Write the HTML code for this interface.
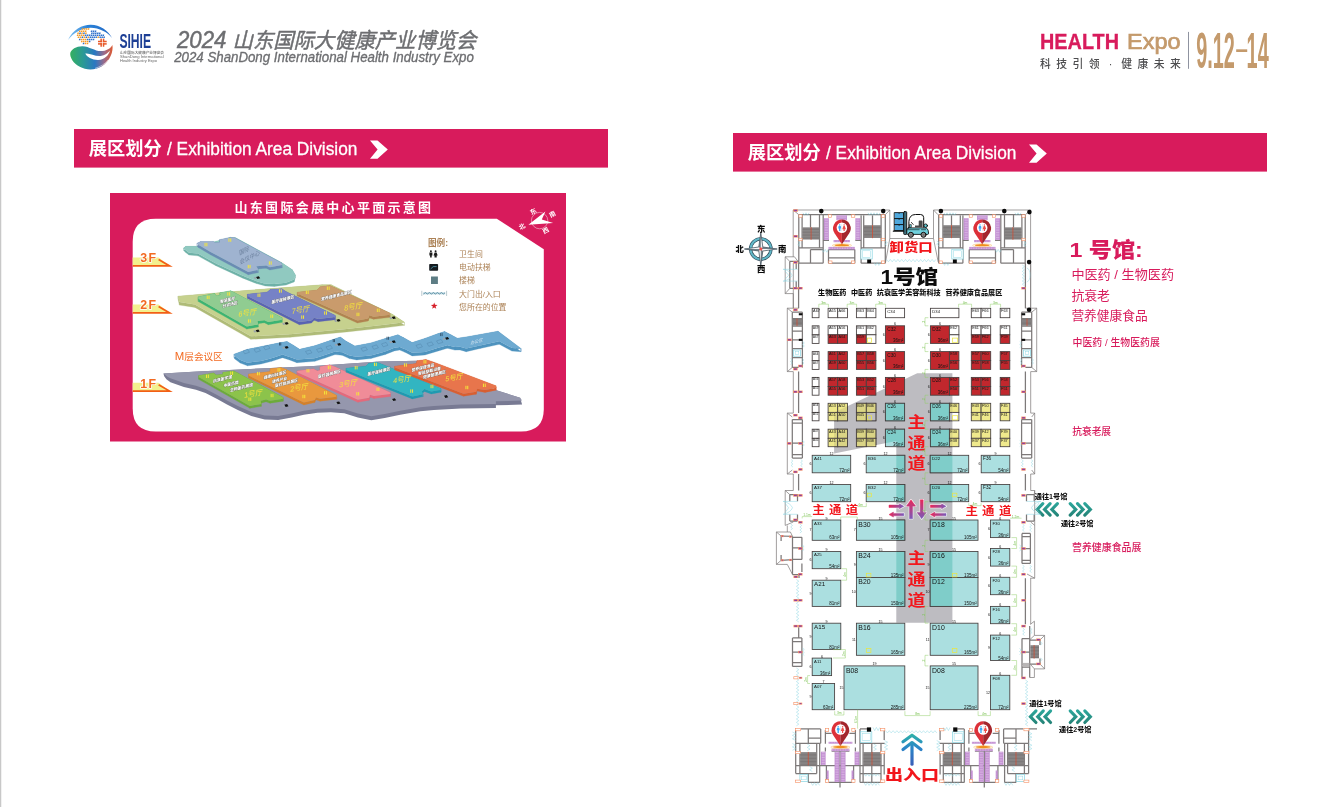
<!DOCTYPE html>
<html lang="zh-CN">
<head>
<meta charset="utf-8">
<title>展区划分 / Exhibition Area Division</title>
<style>
html,body{margin:0;padding:0;background:#fff;}
body{width:1336px;height:807px;overflow:hidden;position:relative;}
svg{position:absolute;left:0;top:0;display:block;font-family:'Liberation Sans', 'Noto Sans CJK SC', sans-serif;will-change:transform;transform:translateZ(0);}
</style>
</head>
<body>
<svg width="1336" height="807" viewBox="0 0 1336 807">
<defs>
<linearGradient id="lgWave" gradientUnits="userSpaceOnUse" x1="70" y1="0" x2="113" y2="0"><stop offset="0" stop-color="#35b05e"/><stop offset="0.3" stop-color="#2a9a94"/><stop offset="0.58" stop-color="#2a78c2"/><stop offset="0.8" stop-color="#9a6a8a"/><stop offset="1" stop-color="#e2582c"/></linearGradient>
<linearGradient id="lgArc" gradientUnits="userSpaceOnUse" x1="68" y1="0" x2="112" y2="0"><stop offset="0" stop-color="#7fc0f0"/><stop offset="0.45" stop-color="#2a82d8"/><stop offset="1" stop-color="#2368c4"/></linearGradient>
<clipPath id="aisleclip"><polygon points="917.2,373.3 952.4,373.3 952.4,622.8 896.3,622.8 896.3,441 834.1,453.4 834.1,412.5"/></clipPath>
<linearGradient id="arrH" x1="0" y1="0" x2="1" y2="0"><stop offset="0" stop-color="#e6285a"/><stop offset="1" stop-color="#7a5ab8"/></linearGradient>
<linearGradient id="arrV" x1="0" y1="0" x2="0" y2="1"><stop offset="0" stop-color="#e6285a"/><stop offset="1" stop-color="#7a5ab8"/></linearGradient>
<linearGradient id="arrIn" gradientUnits="userSpaceOnUse" x1="0" y1="733" x2="0" y2="766"><stop offset="0" stop-color="#2cb5a5"/><stop offset="0.45" stop-color="#2a86c8"/><stop offset="1" stop-color="#3a5cb8"/></linearGradient>
<linearGradient id="chev" x1="0" y1="0" x2="0" y2="1"><stop offset="0" stop-color="#2ca59a"/><stop offset="1" stop-color="#258579"/></linearGradient>
<linearGradient id="cmpA" x1="0" y1="0" x2="1" y2="1"><stop offset="0" stop-color="#2e3f4c"/><stop offset="0.5" stop-color="#f2f5f7"/><stop offset="1" stop-color="#3a4d5a"/></linearGradient>
</defs>
<!-- page edge -->
<rect x="0" y="0" width="1.25" height="807" fill="#c8c8c8"/>
<!-- header left -->
<g id="hdr-left" font-style="italic" fill="#6d6e71" stroke="#6d6e71" stroke-width="0.45" stroke-linejoin="round">
<text x="177.0" y="47.6" textLength="299.4" lengthAdjust="spacingAndGlyphs"><tspan font-size="23.4">2024 </tspan><tspan font-size="21.4">山东国际大健康产业博览会</tspan></text>
<text x="174.2" y="61.5" font-size="14.8" textLength="299.6" lengthAdjust="spacingAndGlyphs" stroke-width="0.35">2024 ShanDong International Health Industry Expo</text>
</g>
<!-- header right -->
<g id="hdr-right">
<text x="1040.0" y="49.4" font-size="21.8" font-weight="bold" fill="#d81b5c" stroke="#d81b5c" stroke-width="0.3" textLength="79" lengthAdjust="spacingAndGlyphs">HEALTH</text>
<text x="1127.1" y="49.4" font-size="21.8" fill="#c49a6c" stroke="#c49a6c" stroke-width="0.7" textLength="53.4" lengthAdjust="spacingAndGlyphs">Expo</text>
<text x="1040 1056.2 1072.5 1088.7 1103 1108.7 1115 1121.2 1137.5 1153.7 1170" y="67.9" font-size="10.8" font-weight="500" fill="#4d4d4f" xml:space="preserve">科技引领 · 健康未来</text>
<rect x="1188" y="31.9" width="1" height="36.9" fill="#8f93a0"/>
<g fill="#c49a6c" font-weight="bold">
<g transform="translate(1196.2 68.3) scale(0.394 1)"><text font-size="50.4">9.12</text></g>
<g transform="translate(1234.4 56.0) scale(2 1)"><text font-size="21.7">-</text></g>
<g transform="translate(1246.6 68.3) scale(0.394 1)"><text font-size="50.4">14</text></g>
</g>
</g>
<!-- banners -->
<rect x="74" y="129" width="534" height="38.6" fill="#d81b5c"/>
<text x="88.8" y="155.4" font-size="18.4" fill="#fff" font-weight="bold" textLength="73" lengthAdjust="spacingAndGlyphs">展区划分</text>
<text x="167" y="155.4" font-size="18.4" fill="#fff" stroke="#fff" stroke-width="0.3" textLength="190.4" lengthAdjust="spacingAndGlyphs">/ Exhibition Area Division</text>
<polygon points="370,140.4 377.5,140.4 387.8,149.6 377.5,158.7 370,158.7 377.6,149.6" fill="#fff"/>
<rect x="733" y="133" width="534" height="38.6" fill="#d81b5c"/>
<text x="747.8" y="159.4" font-size="18.4" fill="#fff" font-weight="bold" textLength="73" lengthAdjust="spacingAndGlyphs">展区划分</text>
<text x="826" y="159.4" font-size="18.4" fill="#fff" stroke="#fff" stroke-width="0.3" textLength="190.4" lengthAdjust="spacingAndGlyphs">/ Exhibition Area Division</text>
<polygon points="1029,144.4 1036.5,144.4 1046.8,153.6 1036.5,162.7 1029,162.7 1036.6,153.6" fill="#fff"/>
<!-- logo -->
<g id="logo">
<path d="M 67.93 40.07 C 72.7 29.53 82.58 24.59 90.82 24.75 C 99.88 24.92 108.11 30.35 112.06 37.93 C 107.29 32 99.05 27.72 90.82 27.72 C 81.76 27.72 73.53 32.82 67.93 40.07 Z" fill="url(#lgArc)"/>
<rect x="81.84" y="28.37" width="1.5" height="1.5" fill="#f39a25" transform="skewX(-12)" transform-origin="82.58 29.12"/>
<rect x="83.82" y="28.37" width="1.5" height="1.5" fill="#f39a25" transform="skewX(-12)" transform-origin="84.56 29.12"/>
<rect x="85.8" y="28.37" width="1.5" height="1.5" fill="#f39a25" transform="skewX(-12)" transform-origin="86.54 29.12"/>
<rect x="87.77" y="28.37" width="1.5" height="1.5" fill="#f39a25" transform="skewX(-12)" transform-origin="88.51 29.12"/>
<rect x="78.96" y="30.43" width="1.5" height="1.5" fill="#f39a25" transform="skewX(-12)" transform-origin="79.7 31.17"/>
<rect x="80.94" y="30.43" width="1.5" height="1.5" fill="#f39a25" transform="skewX(-12)" transform-origin="81.68 31.17"/>
<rect x="82.91" y="30.43" width="1.5" height="1.5" fill="#f39a25" transform="skewX(-12)" transform-origin="83.66 31.17"/>
<rect x="84.89" y="30.43" width="1.5" height="1.5" fill="#f39a25" transform="skewX(-12)" transform-origin="85.63 31.17"/>
<rect x="90.82" y="30.43" width="1.5" height="1.5" fill="#2d6fcb" transform="skewX(-12)" transform-origin="91.56 31.17"/>
<rect x="92.79" y="30.43" width="1.5" height="1.5" fill="#2d6fcb" transform="skewX(-12)" transform-origin="93.54 31.17"/>
<rect x="94.77" y="30.43" width="1.5" height="1.5" fill="#2d6fcb" transform="skewX(-12)" transform-origin="95.51 31.17"/>
<rect x="77.31" y="32.49" width="1.5" height="1.5" fill="#f39a25" transform="skewX(-12)" transform-origin="78.06 33.23"/>
<rect x="79.29" y="32.49" width="1.5" height="1.5" fill="#2d6fcb" transform="skewX(-12)" transform-origin="80.03 33.23"/>
<rect x="81.27" y="32.49" width="1.5" height="1.5" fill="#f39a25" transform="skewX(-12)" transform-origin="82.01 33.23"/>
<rect x="83.24" y="32.49" width="1.5" height="1.5" fill="#2d6fcb" transform="skewX(-12)" transform-origin="83.98 33.23"/>
<rect x="85.22" y="32.49" width="1.5" height="1.5" fill="#f39a25" transform="skewX(-12)" transform-origin="85.96 33.23"/>
<rect x="91.15" y="32.49" width="1.5" height="1.5" fill="#2d6fcb" transform="skewX(-12)" transform-origin="91.89 33.23"/>
<rect x="93.12" y="32.49" width="1.5" height="1.5" fill="#2d6fcb" transform="skewX(-12)" transform-origin="93.86 33.23"/>
<rect x="95.1" y="32.49" width="1.5" height="1.5" fill="#2d6fcb" transform="skewX(-12)" transform-origin="95.84 33.23"/>
<rect x="97.08" y="32.49" width="1.5" height="1.5" fill="#2d6fcb" transform="skewX(-12)" transform-origin="97.82 33.23"/>
<rect x="99.05" y="32.49" width="1.5" height="1.5" fill="#2d6fcb" transform="skewX(-12)" transform-origin="99.79 33.23"/>
<rect x="76.9" y="34.55" width="1.5" height="1.5" fill="#f39a25" transform="skewX(-12)" transform-origin="77.64 35.29"/>
<rect x="78.88" y="34.55" width="1.5" height="1.5" fill="#f39a25" transform="skewX(-12)" transform-origin="79.62 35.29"/>
<rect x="80.86" y="34.55" width="1.5" height="1.5" fill="#f39a25" transform="skewX(-12)" transform-origin="81.6 35.29"/>
<rect x="82.83" y="34.55" width="1.5" height="1.5" fill="#f39a25" transform="skewX(-12)" transform-origin="83.57 35.29"/>
<rect x="84.81" y="34.55" width="1.5" height="1.5" fill="#2d6fcb" transform="skewX(-12)" transform-origin="85.55 35.29"/>
<rect x="86.78" y="34.55" width="1.5" height="1.5" fill="#2d6fcb" transform="skewX(-12)" transform-origin="87.52 35.29"/>
<rect x="88.76" y="34.55" width="1.5" height="1.5" fill="#2d6fcb" transform="skewX(-12)" transform-origin="89.5 35.29"/>
<rect x="90.74" y="34.55" width="1.5" height="1.5" fill="#2d6fcb" transform="skewX(-12)" transform-origin="91.48 35.29"/>
<rect x="92.71" y="34.55" width="1.5" height="1.5" fill="#2d6fcb" transform="skewX(-12)" transform-origin="93.45 35.29"/>
<rect x="94.69" y="34.55" width="1.5" height="1.5" fill="#2d6fcb" transform="skewX(-12)" transform-origin="95.43 35.29"/>
<rect x="96.66" y="34.55" width="1.5" height="1.5" fill="#2d6fcb" transform="skewX(-12)" transform-origin="97.41 35.29"/>
<rect x="98.64" y="34.55" width="1.5" height="1.5" fill="#2d6fcb" transform="skewX(-12)" transform-origin="99.38 35.29"/>
<rect x="100.62" y="34.55" width="1.5" height="1.5" fill="#2d6fcb" transform="skewX(-12)" transform-origin="101.36 35.29"/>
<rect x="102.59" y="34.55" width="1.5" height="1.5" fill="#2d6fcb" transform="skewX(-12)" transform-origin="103.33 35.29"/>
<rect x="77.73" y="36.61" width="1.5" height="1.5" fill="#f39a25" transform="skewX(-12)" transform-origin="78.47 37.35"/>
<rect x="79.7" y="36.61" width="1.5" height="1.5" fill="#f39a25" transform="skewX(-12)" transform-origin="80.44 37.35"/>
<rect x="81.68" y="36.61" width="1.5" height="1.5" fill="#2d6fcb" transform="skewX(-12)" transform-origin="82.42 37.35"/>
<rect x="83.66" y="36.61" width="1.5" height="1.5" fill="#f39a25" transform="skewX(-12)" transform-origin="84.4 37.35"/>
<rect x="85.63" y="36.61" width="1.5" height="1.5" fill="#2d6fcb" transform="skewX(-12)" transform-origin="86.37 37.35"/>
<rect x="87.61" y="36.61" width="1.5" height="1.5" fill="#f39a25" transform="skewX(-12)" transform-origin="88.35 37.35"/>
<rect x="89.58" y="36.61" width="1.5" height="1.5" fill="#2d6fcb" transform="skewX(-12)" transform-origin="90.32 37.35"/>
<rect x="91.56" y="36.61" width="1.5" height="1.5" fill="#2d6fcb" transform="skewX(-12)" transform-origin="92.3 37.35"/>
<rect x="93.54" y="36.61" width="1.5" height="1.5" fill="#2d6fcb" transform="skewX(-12)" transform-origin="94.28 37.35"/>
<rect x="95.51" y="36.61" width="1.5" height="1.5" fill="#2d6fcb" transform="skewX(-12)" transform-origin="96.25 37.35"/>
<rect x="97.49" y="36.61" width="1.5" height="1.5" fill="#f39a25" transform="skewX(-12)" transform-origin="98.23 37.35"/>
<rect x="99.46" y="36.61" width="1.5" height="1.5" fill="#2d6fcb" transform="skewX(-12)" transform-origin="100.21 37.35"/>
<rect x="101.44" y="36.61" width="1.5" height="1.5" fill="#2d6fcb" transform="skewX(-12)" transform-origin="102.18 37.35"/>
<rect x="103.42" y="36.61" width="1.5" height="1.5" fill="#2d6fcb" transform="skewX(-12)" transform-origin="104.16 37.35"/>
<rect x="78.96" y="38.67" width="1.5" height="1.5" fill="#2d6fcb" transform="skewX(-12)" transform-origin="79.7 39.41"/>
<rect x="80.94" y="38.67" width="1.5" height="1.5" fill="#f39a25" transform="skewX(-12)" transform-origin="81.68 39.41"/>
<rect x="82.91" y="38.67" width="1.5" height="1.5" fill="#f39a25" transform="skewX(-12)" transform-origin="83.66 39.41"/>
<rect x="84.89" y="38.67" width="1.5" height="1.5" fill="#f39a25" transform="skewX(-12)" transform-origin="85.63 39.41"/>
<rect x="86.87" y="38.67" width="1.5" height="1.5" fill="#2d6fcb" transform="skewX(-12)" transform-origin="87.61 39.41"/>
<rect x="88.84" y="38.67" width="1.5" height="1.5" fill="#2d6fcb" transform="skewX(-12)" transform-origin="89.58 39.41"/>
<rect x="90.82" y="38.67" width="1.5" height="1.5" fill="#2d6fcb" transform="skewX(-12)" transform-origin="91.56 39.41"/>
<rect x="92.79" y="38.67" width="1.5" height="1.5" fill="#2d6fcb" transform="skewX(-12)" transform-origin="93.54 39.41"/>
<rect x="81.02" y="40.73" width="1.5" height="1.5" fill="#f39a25" transform="skewX(-12)" transform-origin="81.76 41.47"/>
<rect x="83" y="40.73" width="1.5" height="1.5" fill="#f39a25" transform="skewX(-12)" transform-origin="83.74 41.47"/>
<rect x="84.97" y="40.73" width="1.5" height="1.5" fill="#f39a25" transform="skewX(-12)" transform-origin="85.71 41.47"/>
<rect x="86.95" y="40.73" width="1.5" height="1.5" fill="#f39a25" transform="skewX(-12)" transform-origin="87.69 41.47"/>
<rect x="88.92" y="40.73" width="1.5" height="1.5" fill="#2d6fcb" transform="skewX(-12)" transform-origin="89.67 41.47"/>
<rect x="82.83" y="42.78" width="1.5" height="1.5" fill="#2d6fcb" transform="skewX(-12)" transform-origin="83.57 43.52"/>
<rect x="84.81" y="42.78" width="1.5" height="1.5" fill="#f39a25" transform="skewX(-12)" transform-origin="85.55 43.52"/>
<rect x="86.78" y="42.78" width="1.5" height="1.5" fill="#f39a25" transform="skewX(-12)" transform-origin="87.52 43.52"/>
<g fill="#e8592a">
<rect x="100.4" y="38.65" width="1.5" height="3.6" fill="#e8592a"/>
<rect x="98" y="40.75" width="3.9" height="1.5" fill="#e8592a"/>
<rect x="102.8" y="38.65" width="1.5" height="3.6" fill="#e8592a"/>
<rect x="102.8" y="40.75" width="3.9" height="1.5" fill="#e8592a"/>
<rect x="100.4" y="43.15" width="1.5" height="3.6" fill="#e8592a"/>
<rect x="98" y="43.15" width="3.9" height="1.5" fill="#e8592a"/>
<rect x="102.8" y="43.15" width="1.5" height="3.6" fill="#e8592a"/>
<rect x="102.8" y="43.15" width="3.9" height="1.5" fill="#e8592a"/>
</g>
<path d="M 70.23 53.41 C 70.65 49.29 76.82 46 82.58 46.16 C 89.17 46.41 94.94 50.94 100.7 51.1 C 106.46 51.1 110.58 48.47 112.39 45.01 C 113.46 50.94 110.58 60.82 101.52 66.58 C 94.94 70.28 86.7 70.7 79.29 66.58 C 73.53 63.29 69.82 57.52 70.23 53.41 Z" fill="url(#lgWave)"/>
<path d="M 85.3 53.57 C 89.17 52.58 94.94 56.7 100.7 56.04 C 104.82 55.46 108.11 52.99 109.92 50.52 C 108.93 55.05 104.82 59.58 98.23 59.99 C 92.47 60.16 86.7 57.11 85.3 53.57 Z" fill="#fff"/>
<path d="M 94.94 68.39 C 100.7 66.58 104.82 64.11 108.11 59.99" fill="none" stroke="#fff" stroke-width="0.5"/>
<g transform="translate(119.4 47.5) scale(0.625 1)"><text x="0" y="0" font-size="19.4" fill="#1d3f95" font-weight="bold">SIHIE</text></g>
<text x="120" y="53.7" font-size="3.6" fill="#666" font-weight="500" textLength="44" lengthAdjust="spacingAndGlyphs">山东国际大健康产业博览会</text>
<text x="120" y="58.2" font-size="4.1" fill="#666" textLength="43.6" lengthAdjust="spacingAndGlyphs">ShanDong International</text>
<text x="120" y="62.4" font-size="4.1" fill="#666" textLength="37" lengthAdjust="spacingAndGlyphs">Health Industry Expo</text>
</g>
<!-- venue map (left) -->
<g id="venue-map">
<rect x="110" y="193" width="456" height="248.5" fill="#d81b5c"/>
<path d="M155.7 218.8 H496.8 L543.8 249.3 V409 Q543.8 431.5 521 431.5 H155.7 Q132.7 431.5 132.7 408.5 V241.8 Q132.7 218.8 155.7 218.8 Z" fill="#fff"/>
<text x="234.5" y="211.6" font-size="13" fill="#fff" font-weight="bold" letter-spacing="2.3">山东国际会展中心平面示意图</text>
<polygon points="132.7,257.6 158.6,257.6 169.4,265.8 132.7,265.8" fill="#f3f08e"/>
<path d="M132.7 265.9H169.6L158.6 259.6" fill="none" stroke="#f25f14" stroke-width="1.7" stroke-linejoin="miter"/>
<text x="140.2" y="262.3" font-size="12.4" font-weight="bold" fill="#f26a21" stroke="#fff" stroke-width="1.6" stroke-linejoin="round" paint-order="stroke" textLength="16">3F</text>
<polygon points="132.7,304.6 158.6,304.6 169.4,312.8 132.7,312.8" fill="#f3f08e"/>
<path d="M132.7 312.9H169.6L158.6 306.6" fill="none" stroke="#f25f14" stroke-width="1.7" stroke-linejoin="miter"/>
<text x="140.2" y="309.3" font-size="12.4" font-weight="bold" fill="#f26a21" stroke="#fff" stroke-width="1.6" stroke-linejoin="round" paint-order="stroke" textLength="16">2F</text>
<polygon points="132.7,382.8 158.6,382.8 169.4,391 132.7,391" fill="#f3f08e"/>
<path d="M132.7 391.1H169.6L158.6 384.8" fill="none" stroke="#f25f14" stroke-width="1.7" stroke-linejoin="miter"/>
<text x="140.2" y="387.5" font-size="12.4" font-weight="bold" fill="#f26a21" stroke="#fff" stroke-width="1.6" stroke-linejoin="round" paint-order="stroke" textLength="16">1F</text>
<path d="M183.59 247.99L185.84 246.37L185.84 248.67L183.59 250.29ZM185.84 246.37L197.96 246.37L197.96 248.67L185.84 248.67ZM197.96 246.37L230.3 237.39L230.3 239.69L197.96 248.67ZM230.3 237.39L235.69 237.84L235.69 240.14L230.3 239.69ZM235.69 237.84L281.5 262.54L281.5 264.84L235.69 240.14ZM281.5 262.54L292.28 269.73L292.28 272.03L281.5 264.84ZM292.28 269.73L295.42 275.12L295.42 277.42L292.28 272.03ZM295.42 275.12L294.08 279.61L294.08 281.91L295.42 277.42ZM294.08 279.61L285.99 282.75L285.99 285.05L294.08 281.91ZM285.99 282.75L274.31 284.1L274.31 286.4L285.99 285.05ZM274.31 284.1L265.33 283.65L265.33 285.95L274.31 286.4ZM265.33 283.65L256.35 281.22L256.35 283.52L265.33 285.95ZM256.35 281.22L242.88 275.83L242.88 278.13L256.35 283.52ZM242.88 275.83L215.93 263.44L215.93 265.74L242.88 278.13ZM215.93 263.44L197.96 253.56L197.96 255.86L215.93 265.74ZM197.96 253.56L188.98 252.66L188.98 254.96L197.96 255.86ZM188.98 252.66L185.39 249.96L185.39 252.26L188.98 254.96ZM185.39 249.96L183.59 247.99L183.59 250.29L185.39 252.26Z" fill="#6fb2a8" stroke="#6fb2a8" stroke-width="0.3" stroke-linejoin="round"/><polygon points="183.59,247.99 185.84,246.37 197.96,246.37 230.3,237.39 235.69,237.84 281.5,262.54 292.28,269.73 295.42,275.12 294.08,279.61 285.99,282.75 274.31,284.1 265.33,283.65 256.35,281.22 242.88,275.83 215.93,263.44 197.96,253.56 188.98,252.66 185.39,249.96" fill="#90c9c0"/>
<path d="M197.07 243.23L200.66 241.43L200.66 244.23L197.07 246.03ZM200.66 241.43L213.23 241.43L213.23 244.23L200.66 244.23ZM213.23 241.43L215.03 242.78L215.03 245.58L213.23 244.23ZM215.03 242.78L219.97 242.33L219.97 245.13L215.03 245.58ZM219.97 242.33L219.52 239.63L219.52 242.43L219.97 245.13ZM219.52 239.63L230.3 237.39L230.3 240.19L219.52 242.43ZM230.3 237.39L234.79 237.84L234.79 240.64L230.3 240.19ZM234.79 237.84L242.88 242.33L242.88 245.13L234.79 240.64ZM242.88 242.33L281.5 262.99L281.5 265.79L242.88 245.13ZM281.5 262.99L282.13 265.05L282.13 267.85L281.5 265.79ZM282.13 265.05L269.82 267.21L269.82 270.01L282.13 267.85ZM269.82 267.21L266.23 265.41L266.23 268.21L269.82 270.01ZM266.23 265.41L256.35 266.13L256.35 268.93L266.23 268.21ZM256.35 266.13L258.33 269.73L258.33 272.53L256.35 268.93ZM258.33 269.73L248.27 271.97L248.27 274.77L258.33 272.53ZM248.27 271.97L210.54 251.94L210.54 254.74L248.27 274.77ZM210.54 251.94L198.41 244.75L198.41 247.55L210.54 254.74ZM198.41 244.75L197.07 243.23L197.07 246.03L198.41 247.55Z" fill="#6a8cb3" stroke="#6a8cb3" stroke-width="0.3" stroke-linejoin="round"/><polygon points="197.07,243.23 200.66,241.43 213.23,241.43 215.03,242.78 219.97,242.33 219.52,239.63 230.3,237.39 234.79,237.84 242.88,242.33 281.5,262.99 282.13,265.05 269.82,267.21 266.23,265.41 256.35,266.13 258.33,269.73 248.27,271.97 210.54,251.94 198.41,244.75" fill="#9fb3d0"/>
<path d="M178.08 296.17L250.84 290.11L250.84 293.11L178.08 299.17ZM250.84 290.11L322.25 284.72L322.25 287.72L250.84 293.11ZM322.25 284.72L331.09 284.72L331.09 287.72L322.25 287.72ZM331.09 284.72L392.4 314.36L392.4 317.36L331.09 287.72ZM392.4 314.36L404.52 322.31L404.52 325.31L392.4 317.36ZM404.52 322.31L384.31 324.87L384.31 327.87L404.52 325.31ZM384.31 324.87L346.59 328.91L346.59 331.91L384.31 327.87ZM346.59 328.91L290 334.3L290 337.3L346.59 331.91ZM290 334.3L250.84 336.32L250.84 339.32L290 337.3ZM250.84 336.32L194.93 304.39L194.93 307.39L250.84 339.32ZM194.93 304.39L179.43 302.1L179.43 305.1L194.93 307.39ZM179.43 302.1L178.08 296.17L178.08 299.17L179.43 305.1Z" fill="#afbb78" stroke="#afbb78" stroke-width="0.3" stroke-linejoin="round"/><polygon points="178.08,296.17 250.84,290.11 322.25,284.72 331.09,284.72 392.4,314.36 404.52,322.31 384.31,324.87 346.59,328.91 290,334.3 250.84,336.32 194.93,304.39 179.43,302.1" fill="#c6d18e"/>
<path d="M198.29 296.84L214.46 293.47L214.46 296.07L198.29 299.44ZM214.46 293.47L216.48 295.9L216.48 298.5L214.46 296.07ZM216.48 295.9L220.53 295.09L220.53 297.69L216.48 298.5ZM220.53 295.09L219.85 292.8L219.85 295.4L220.53 297.69ZM219.85 292.8L230.63 290.78L230.63 293.38L219.85 295.4ZM230.63 290.78L234.67 292.8L234.67 295.4L230.63 293.38ZM234.67 292.8L281.83 317.73L281.83 320.33L234.67 295.4ZM281.83 317.73L282.23 319.75L282.23 322.35L281.83 320.33ZM282.23 319.75L268.36 322.04L268.36 324.64L282.23 322.35ZM268.36 322.04L264.31 320.15L264.31 322.75L268.36 324.64ZM264.31 320.15L257.58 321.09L257.58 323.69L264.31 322.75ZM257.58 321.09L258.25 324.46L258.25 327.06L257.58 323.69ZM258.25 324.46L246.8 326.48L246.8 329.08L258.25 327.06ZM246.8 326.48L198.29 298.86L198.29 301.46L246.8 329.08ZM198.29 298.86L198.29 296.84L198.29 299.44L198.29 301.46Z" fill="#3cb473" stroke="#3cb473" stroke-width="0.3" stroke-linejoin="round"/><polygon points="198.29,296.84 214.46,293.47 216.48,295.9 220.53,295.09 219.85,292.8 230.63,290.78 234.67,292.8 281.83,317.73 282.23,319.75 268.36,322.04 264.31,320.15 257.58,321.09 258.25,324.46 246.8,326.48 198.29,298.86" fill="#90cc91"/>
<path d="M247.47 294.15L267.01 292.13L267.01 294.73L247.47 296.75ZM267.01 292.13L270.38 289.43L270.38 292.03L267.01 294.73ZM270.38 289.43L281.83 288.76L281.83 291.36L270.38 292.03ZM281.83 288.76L285.87 291.45L285.87 294.05L281.83 291.36ZM285.87 291.45L335.05 315.3L335.05 317.9L285.87 294.05ZM335.05 315.3L335.45 317.05L335.45 319.65L335.05 317.9ZM335.45 317.05L318.21 319.07L318.21 321.67L335.45 319.65ZM318.21 319.07L314.17 317.73L314.17 320.33L318.21 321.67ZM314.17 317.73L311.47 320.42L311.47 323.02L314.17 320.33ZM311.47 320.42L299.35 322.04L299.35 324.64L311.47 323.02ZM299.35 322.04L247.47 295.9L247.47 298.5L299.35 324.64ZM247.47 295.9L247.47 294.15L247.47 296.75L247.47 298.5Z" fill="#5963b3" stroke="#5963b3" stroke-width="0.3" stroke-linejoin="round"/><polygon points="247.47,294.15 267.01,292.13 270.38,289.43 281.83,288.76 285.87,291.45 335.05,315.3 335.45,317.05 318.21,319.07 314.17,317.73 311.47,320.42 299.35,322.04 247.47,295.9" fill="#7682c6"/>
<path d="M297.41 292.13L316.95 290.11L316.95 292.71L297.41 294.73ZM316.95 290.11L320.32 286.74L320.32 289.34L316.95 292.71ZM320.32 286.74L329.75 285.39L329.75 287.99L320.32 289.34ZM329.75 285.39L334.46 287.41L334.46 290.01L329.75 287.99ZM334.46 287.41L389.7 313.01L389.7 315.61L334.46 290.01ZM389.7 313.01L390.11 314.76L390.11 317.36L389.7 315.61ZM390.11 314.76L373.54 316.65L373.54 319.25L390.11 317.36ZM373.54 316.65L369.49 315.3L369.49 317.9L373.54 319.25ZM369.49 315.3L368.15 318.4L368.15 321L369.49 317.9ZM368.15 318.4L357.37 320.42L357.37 323.02L368.15 321ZM357.37 320.42L297.41 293.47L297.41 296.07L357.37 323.02ZM297.41 293.47L297.41 292.13L297.41 294.73L297.41 296.07Z" fill="#b18350" stroke="#b18350" stroke-width="0.3" stroke-linejoin="round"/><polygon points="297.41,292.13 316.95,290.11 320.32,286.74 329.75,285.39 334.46,287.41 389.7,313.01 390.11,314.76 373.54,316.65 369.49,315.3 368.15,318.4 357.37,320.42 297.41,293.47" fill="#c99b6c"/>
<path d="M234 354.2L247.5 349.3L247.5 352.4L234 357.3ZM247.5 349.3L280.7 342.5L280.7 345.6L247.5 352.4ZM280.7 342.5L287 341.6L287 344.7L280.7 345.6ZM287 341.6L293.3 345.2L293.3 348.3L287 344.7ZM293.3 345.2L299.6 349.3L299.6 352.4L293.3 348.3ZM299.6 349.3L314.8 345.7L314.8 348.8L299.6 352.4ZM314.8 345.7L337.3 338L337.3 341.1L314.8 348.8ZM337.3 338L340.4 337.1L340.4 340.2L337.3 341.1ZM340.4 337.1L345.8 341.1L345.8 344.2L340.4 340.2ZM345.8 341.1L354.8 346L354.8 349.1L345.8 344.2ZM354.8 346L370.9 342.9L370.9 346L354.8 349.1ZM370.9 342.9L385.3 338.4L385.3 341.5L370.9 346ZM385.3 338.4L397.9 334.8L397.9 337.9L385.3 341.5ZM397.9 334.8L403.3 337.5L403.3 340.6L397.9 337.9ZM403.3 337.5L412.2 342.5L412.2 345.6L403.3 340.6ZM412.2 342.5L424.8 338.4L424.8 341.5L412.2 345.6ZM424.8 338.4L438.3 333.5L438.3 336.6L424.8 341.5ZM438.3 333.5L444.6 331.5L444.6 334.6L438.3 336.6ZM444.6 331.5L450.9 334.8L450.9 337.9L444.6 334.6ZM450.9 334.8L457.3 338.2L457.3 341.3L450.9 337.9ZM457.3 338.2L466.2 336.9L466.2 340L457.3 341.3ZM466.2 336.9L498 331.2L498 334.3L466.2 340ZM498 331.2L520.9 348.4L520.9 351.5L498 334.3ZM520.9 348.4L520.9 348.6L520.9 351.7L520.9 351.5ZM520.9 348.6L512 348L512 351.1L520.9 351.7ZM512 348L499.3 341.2L499.3 344.3L512 351.1ZM499.3 341.2L480 345.4L480 348.5L499.3 344.3ZM480 345.4L466.2 348.6L466.2 351.7L480 348.5ZM466.2 348.6L460 346.8L460 349.9L466.2 351.7ZM460 346.8L455 347L455 350.1L460 349.9ZM455 347L447.3 345.2L447.3 348.3L455 350.1ZM447.3 345.2L438.3 347.8L438.3 350.9L447.3 348.3ZM438.3 347.8L424.8 351.9L424.8 355L438.3 350.9ZM424.8 351.9L412.2 352.8L412.2 355.9L424.8 355ZM412.2 352.8L405.1 349.2L405.1 352.3L412.2 355.9ZM405.1 349.2L399.7 346.9L399.7 350L405.1 352.3ZM399.7 346.9L394.3 347.8L394.3 350.9L399.7 350ZM394.3 347.8L385.3 351.4L385.3 354.5L394.3 350.9ZM385.3 351.4L370.9 355.5L370.9 358.6L385.3 354.5ZM370.9 355.5L356.6 356.8L356.6 359.9L370.9 358.6ZM356.6 356.8L349.4 355.5L349.4 358.6L356.6 359.9ZM349.4 355.5L342.2 352.2L342.2 355.3L349.4 358.6ZM342.2 352.2L335 351.5L335 354.6L342.2 355.3ZM335 351.5L325 355L325 358.1L335 354.6ZM325 355L314.8 358.2L314.8 361.3L325 358.1ZM314.8 358.2L296.9 359.6L296.9 362.7L314.8 361.3ZM296.9 359.6L289.7 356.9L289.7 360L296.9 362.7ZM289.7 356.9L282.5 354.6L282.5 357.7L289.7 360ZM282.5 354.6L271.7 358.2L271.7 361.3L282.5 357.7ZM271.7 358.2L260.9 360.9L260.9 364L271.7 361.3ZM260.9 360.9L247.5 362.7L247.5 365.8L260.9 364ZM247.5 362.7L240.3 360L240.3 363.1L247.5 365.8ZM240.3 360L234.9 356L234.9 359.1L240.3 363.1ZM234.9 356L234 354.2L234 357.3L234.9 359.1Z" fill="#4e93be" stroke="#4e93be" stroke-width="0.3" stroke-linejoin="round"/><polygon points="234,354.2 247.5,349.3 280.7,342.5 287,341.6 293.3,345.2 299.6,349.3 314.8,345.7 337.3,338 340.4,337.1 345.8,341.1 354.8,346 370.9,342.9 385.3,338.4 397.9,334.8 403.3,337.5 412.2,342.5 424.8,338.4 438.3,333.5 444.6,331.5 450.9,334.8 457.3,338.2 466.2,336.9 498,331.2 520.9,348.4 520.9,348.6 512,348 499.3,341.2 480,345.4 466.2,348.6 460,346.8 455,347 447.3,345.2 438.3,347.8 424.8,351.9 412.2,352.8 405.1,349.2 399.7,346.9 394.3,347.8 385.3,351.4 370.9,355.5 356.6,356.8 349.4,355.5 342.2,352.2 335,351.5 325,355 314.8,358.2 296.9,359.6 289.7,356.9 282.5,354.6 271.7,358.2 260.9,360.9 247.5,362.7 240.3,360 234.9,356" fill="#6eaad1"/>
<polygon points="163.41,373.58 197.37,371.56 310.01,366.17 380,361.45 417.73,360.78 497.22,390.42 520.12,397.83 522.1,404.6 495.9,405.2 495.9,407.9 460.8,408.6 433.9,410 420.4,411.3 400.2,414.7 384.7,418 371.3,420.3 357.8,417.4 344.3,413.3 330.8,412.2 317.4,412.7 303.9,414.7 291.7,417.6 278.2,419.9 264.7,419.4 251.3,416 237.8,410 227,404.6 217.6,399.2 205.5,393.1 196,389.7 183.9,387.1 170.4,382.3 166.4,379.2 164.2,376.2" fill="#787a93"/>
<polygon points="163.41,373.58 197.37,371.56 310.01,366.17 380,361.45 417.73,360.78 497.22,390.42 520.12,397.83 522.1,400.6 495.9,401.2 495.9,403.9 460.8,404.6 433.9,406 420.4,407.3 400.2,410.7 384.7,414 371.3,416.3 357.8,413.4 344.3,409.3 330.8,408.2 317.4,408.7 303.9,410.7 291.7,413.6 278.2,415.9 264.7,415.4 251.3,412 237.8,406 227,400.6 217.6,395.2 205.5,389.1 196,385.7 183.9,383.1 170.4,378.3 167.5,376.8" fill="#9597ad"/>
<path d="M198.71 375.6L213.54 372.9L213.54 375.3L198.71 378ZM213.54 372.9L216.23 374.93L216.23 377.33L213.54 375.3ZM216.23 374.93L222.97 374.25L222.97 376.65L216.23 377.33ZM222.97 374.25L222.97 372.23L222.97 374.63L222.97 376.65ZM222.97 372.23L233.75 370.88L233.75 373.28L222.97 374.63ZM233.75 370.88L237.79 372.9L237.79 375.3L233.75 373.28ZM237.79 372.9L282.92 397.16L282.92 399.56L237.79 375.3ZM282.92 397.16L283.33 398.77L283.33 401.17L282.92 399.56ZM283.33 398.77L270.12 400.79L270.12 403.19L283.33 401.17ZM270.12 400.79L266.08 399.45L266.08 401.85L270.12 403.19ZM266.08 399.45L260.69 400.79L260.69 403.19L266.08 401.85ZM260.69 400.79L261.37 403.89L261.37 406.29L260.69 403.19ZM261.37 403.89L249.91 405.91L249.91 408.31L261.37 406.29ZM249.91 405.91L198.71 376.95L198.71 379.35L249.91 408.31ZM198.71 376.95L198.71 375.6L198.71 378L198.71 379.35Z" fill="#6cab3b" stroke="#6cab3b" stroke-width="0.3" stroke-linejoin="round"/><polygon points="198.71,375.6 213.54,372.9 216.23,374.93 222.97,374.25 222.97,372.23 233.75,370.88 237.79,372.9 282.92,397.16 283.33,398.77 270.12,400.79 266.08,399.45 260.69,400.79 261.37,403.89 249.91,405.91 198.71,376.95" fill="#8cc34b"/>
<path d="M248.65 373.98L270.21 371.56L270.21 373.96L248.65 376.38ZM270.21 371.56L270.21 368.86L270.21 371.26L270.21 373.96ZM270.21 368.86L280.99 367.52L280.99 369.92L270.21 371.26ZM280.99 367.52L286.38 369.54L286.38 371.94L280.99 369.92ZM286.38 369.54L336.23 395.14L336.23 397.54L286.38 371.94ZM336.23 395.14L336.63 396.75L336.63 399.15L336.23 397.54ZM336.63 396.75L320.06 398.77L320.06 401.17L336.63 399.15ZM320.06 398.77L316.02 397.43L316.02 399.83L320.06 401.17ZM316.02 397.43L314.67 400.12L314.67 402.52L316.02 399.83ZM314.67 400.12L303.89 402.55L303.89 404.95L314.67 402.52ZM303.89 402.55L248.65 375.6L248.65 378L303.89 404.95ZM248.65 375.6L248.65 373.98L248.65 376.38L248.65 378Z" fill="#d4812b" stroke="#d4812b" stroke-width="0.3" stroke-linejoin="round"/><polygon points="248.65,373.98 270.21,371.56 270.21,368.86 280.99,367.52 286.38,369.54 336.23,395.14 336.63,396.75 320.06,398.77 316.02,397.43 314.67,400.12 303.89,402.55 248.65,375.6" fill="#e9983e"/>
<path d="M297.16 370.88L313.33 368.86L313.33 371.26L297.16 373.28ZM313.33 368.86L317.37 370.88L317.37 373.28L313.33 371.26ZM317.37 370.88L320.06 370.21L320.06 372.61L317.37 373.28ZM320.06 370.21L320.06 366.84L320.06 369.24L320.06 372.61ZM320.06 366.84L329.49 364.82L329.49 367.22L320.06 369.24ZM329.49 364.82L334.88 366.84L334.88 369.24L329.49 367.22ZM334.88 366.84L390.12 392.44L390.12 394.84L334.88 369.24ZM390.12 392.44L390.53 394.06L390.53 396.46L390.12 394.84ZM390.53 394.06L373.96 396.08L373.96 398.48L390.53 396.46ZM373.96 396.08L369.91 394.73L369.91 397.13L373.96 398.48ZM369.91 394.73L369.24 397.83L369.24 400.23L369.91 397.13ZM369.24 397.83L357.79 399.85L357.79 402.25L369.24 400.23ZM357.79 399.85L297.16 372.23L297.16 374.63L357.79 402.25ZM297.16 372.23L297.16 370.88L297.16 373.28L297.16 374.63Z" fill="#e5697b" stroke="#e5697b" stroke-width="0.3" stroke-linejoin="round"/><polygon points="297.16,370.88 313.33,368.86 317.37,370.88 320.06,370.21 320.06,366.84 329.49,364.82 334.88,366.84 390.12,392.44 390.53,394.06 373.96,396.08 369.91,394.73 369.24,397.83 357.79,399.85 297.16,372.23" fill="#f08c98"/>
<path d="M346.32 368.19L365.85 366.17L365.85 368.57L346.32 370.59ZM365.85 366.17L368.55 363.47L368.55 365.87L365.85 368.57ZM368.55 363.47L376.63 362.13L376.63 364.53L368.55 365.87ZM376.63 362.13L382.02 364.15L382.02 366.55L376.63 364.53ZM382.02 364.15L440.63 388.4L440.63 390.8L382.02 366.55ZM440.63 388.4L441.03 389.75L441.03 392.15L440.63 390.8ZM441.03 389.75L431.2 391.5L431.2 393.9L441.03 392.15ZM431.2 391.5L424.46 389.07L424.46 391.47L431.2 393.9ZM424.46 389.07L421.77 391.5L421.77 393.9L424.46 391.47ZM421.77 391.5L423.12 394.19L423.12 396.59L421.77 393.9ZM423.12 394.19L412.34 396.48L412.34 398.88L423.12 396.59ZM412.34 396.48L346.32 369.94L346.32 372.34L412.34 398.88ZM346.32 369.94L346.32 368.19L346.32 370.59L346.32 372.34Z" fill="#1f9ab0" stroke="#1f9ab0" stroke-width="0.3" stroke-linejoin="round"/><polygon points="346.32,368.19 365.85,366.17 368.55,363.47 376.63,362.13 382.02,364.15 440.63,388.4 441.03,389.75 431.2,391.5 424.46,389.07 421.77,391.5 423.12,394.19 412.34,396.48 346.32,369.94" fill="#32b5c1"/>
<path d="M394.82 366.17L416.38 363.47L416.38 365.87L394.82 368.57ZM416.38 363.47L417.05 360.78L417.05 363.18L416.38 365.87ZM417.05 360.78L425.81 359.43L425.81 361.83L417.05 363.18ZM425.81 359.43L433.89 362.13L433.89 364.53L425.81 361.83ZM433.89 362.13L495.87 385.7L495.87 388.1L433.89 364.53ZM495.87 385.7L496.28 387.73L496.28 390.13L495.87 388.1ZM496.28 387.73L485.09 390.02L485.09 392.42L496.28 390.13ZM485.09 390.02L477.01 388.67L477.01 391.07L485.09 392.42ZM477.01 388.67L476.34 391.77L476.34 394.17L477.01 391.07ZM476.34 391.77L463.54 393.79L463.54 396.19L476.34 394.17ZM463.54 393.79L394.82 367.52L394.82 369.92L463.54 396.19ZM394.82 367.52L394.82 366.17L394.82 368.57L394.82 369.92Z" fill="#d85f32" stroke="#d85f32" stroke-width="0.3" stroke-linejoin="round"/><polygon points="394.82,366.17 416.38,363.47 417.05,360.78 425.81,359.43 433.89,362.13 495.87,385.7 496.28,387.73 485.09,390.02 477.01,388.67 476.34,391.77 463.54,393.79 394.82,367.52" fill="#e8754c"/>
<text transform="translate(238.2 317) rotate(-9) skewX(-14)" font-size="7.3" fill="#f4e23c">6号厅</text>
<text transform="translate(291.4 314) rotate(-9) skewX(-14)" font-size="7.3" fill="#f4e23c">7号厅</text>
<text transform="translate(344 310.7) rotate(-9) skewX(-14)" font-size="7.3" fill="#f4e23c">8号厅</text>
<text transform="translate(244 397.7) rotate(-9) skewX(-14)" font-size="7.3" fill="#f4e23c">1号厅</text>
<text transform="translate(289.9 391.7) rotate(-9) skewX(-14)" font-size="7.3" fill="#f4e23c">2号厅</text>
<text transform="translate(339.1 387.6) rotate(-9) skewX(-14)" font-size="7.3" fill="#f4e23c">3号厅</text>
<text transform="translate(392.9 383.6) rotate(-9) skewX(-14)" font-size="7.3" fill="#f4e23c">4号厅</text>
<text transform="translate(445.3 381.5) rotate(-9) skewX(-14)" font-size="7" fill="#f4e23c">5号厅</text>
<text transform="translate(239.5 255.2) rotate(-27) skewX(-20)" font-size="5.6" fill="#6d829f">国际</text>
<text transform="translate(240 264.6) rotate(-27) skewX(-20)" font-size="5.6" fill="#6d829f">会议中心</text>
<text transform="translate(470.5 344.5) rotate(-14) skewX(-20)" font-size="4.2" fill="#d5e6f2">办公区</text>
<text transform="translate(220 303.3) rotate(-14) skewX(-18)" font-size="3.9" font-weight="900" fill="#fff" stroke="#4a4a4a" stroke-width="0.35" paint-order="stroke">智慧医疗</text>
<text transform="translate(222.5 307.8) rotate(-14) skewX(-18)" font-size="3.9" font-weight="900" fill="#fff" stroke="#4a4a4a" stroke-width="0.35" paint-order="stroke">分会场区</text>
<text transform="translate(271.5 303.8) rotate(-14) skewX(-18)" font-size="3.9" font-weight="900" fill="#fff" stroke="#4a4a4a" stroke-width="0.35" paint-order="stroke">医疗器械展区</text>
<text transform="translate(321 300.8) rotate(-14) skewX(-18)" font-size="3.9" font-weight="900" fill="#fff" stroke="#4a4a4a" stroke-width="0.35" paint-order="stroke">营养健康食品展区</text>
<text transform="translate(213 382.8) rotate(-14) skewX(-18)" font-size="3.9" font-weight="900" fill="#fff" stroke="#4a4a4a" stroke-width="0.35" paint-order="stroke">抗衰医学馆</text>
<text transform="translate(223.5 387.3) rotate(-14) skewX(-18)" font-size="3.9" font-weight="900" fill="#fff" stroke="#4a4a4a" stroke-width="0.35" paint-order="stroke">中医药馆</text>
<text transform="translate(230 391.8) rotate(-14) skewX(-18)" font-size="3.9" font-weight="900" fill="#fff" stroke="#4a4a4a" stroke-width="0.35" paint-order="stroke">生物医药展馆</text>
<text transform="translate(263.5 379.3) rotate(-14) skewX(-18)" font-size="3.9" font-weight="900" fill="#fff" stroke="#4a4a4a" stroke-width="0.35" paint-order="stroke">健康科技展区</text>
<text transform="translate(272 383.3) rotate(-14) skewX(-18)" font-size="3.9" font-weight="900" fill="#fff" stroke="#4a4a4a" stroke-width="0.35" paint-order="stroke">康养产业</text>
<text transform="translate(275 387.3) rotate(-14) skewX(-18)" font-size="3.9" font-weight="900" fill="#fff" stroke="#4a4a4a" stroke-width="0.35" paint-order="stroke">医疗旅游展区</text>
<text transform="translate(318 378.3) rotate(-14) skewX(-18)" font-size="3.9" font-weight="900" fill="#fff" stroke="#4a4a4a" stroke-width="0.35" paint-order="stroke">医疗器械展区</text>
<text transform="translate(367.5 375.8) rotate(-14) skewX(-18)" font-size="3.9" font-weight="900" fill="#fff" stroke="#4a4a4a" stroke-width="0.35" paint-order="stroke">医疗器械展区</text>
<text transform="translate(411.5 371.8) rotate(-14) skewX(-18)" font-size="3.9" font-weight="900" fill="#fff" stroke="#4a4a4a" stroke-width="0.35" paint-order="stroke">营养保健食品</text>
<text transform="translate(418 375.3) rotate(-14) skewX(-18)" font-size="3.9" font-weight="900" fill="#fff" stroke="#4a4a4a" stroke-width="0.35" paint-order="stroke">智能穿戴设备</text>
<text transform="translate(423 378.8) rotate(-14) skewX(-18)" font-size="3.9" font-weight="900" fill="#fff" stroke="#4a4a4a" stroke-width="0.35" paint-order="stroke">健康管理展区</text>
<text x="174.8" y="360.4" font-size="9.6" fill="#f26a21"><tspan font-size="11.4">M</tspan>层会议区</text>
<g fill="#f5e63a">
<rect x="204.55" y="242.9" width="1" height="3.4" fill="#f5e63a"/>
<rect x="206.35" y="242.9" width="1" height="3.4" fill="#f5e63a"/>
<rect x="228.45" y="238.4" width="1" height="3.4" fill="#f5e63a"/>
<rect x="230.25" y="238.4" width="1" height="3.4" fill="#f5e63a"/>
<rect x="247.75" y="264.9" width="1" height="3.4" fill="#f5e63a"/>
<rect x="249.55" y="264.9" width="1" height="3.4" fill="#f5e63a"/>
<rect x="268.85" y="261.3" width="1" height="3.4" fill="#f5e63a"/>
<rect x="270.65" y="261.3" width="1" height="3.4" fill="#f5e63a"/>
<rect x="206.75" y="295.7" width="1" height="3.4" fill="#f5e63a"/>
<rect x="208.55" y="295.7" width="1" height="3.4" fill="#f5e63a"/>
<rect x="227.35" y="292.2" width="1" height="3.4" fill="#f5e63a"/>
<rect x="229.15" y="292.2" width="1" height="3.4" fill="#f5e63a"/>
<rect x="247.95" y="319.3" width="1" height="3.4" fill="#f5e63a"/>
<rect x="249.75" y="319.3" width="1" height="3.4" fill="#f5e63a"/>
<rect x="270.35" y="314.5" width="1" height="3.4" fill="#f5e63a"/>
<rect x="272.15" y="314.5" width="1" height="3.4" fill="#f5e63a"/>
<rect x="257.55" y="293.5" width="1" height="3.4" fill="#f5e63a"/>
<rect x="259.35" y="293.5" width="1" height="3.4" fill="#f5e63a"/>
<rect x="278.95" y="289.3" width="1" height="3.4" fill="#f5e63a"/>
<rect x="280.75" y="289.3" width="1" height="3.4" fill="#f5e63a"/>
<rect x="301.25" y="315.4" width="1" height="3.4" fill="#f5e63a"/>
<rect x="303.05" y="315.4" width="1" height="3.4" fill="#f5e63a"/>
<rect x="324.15" y="311.3" width="1" height="3.4" fill="#f5e63a"/>
<rect x="325.95" y="311.3" width="1" height="3.4" fill="#f5e63a"/>
<rect x="305.85" y="290.6" width="1" height="3.4" fill="#f5e63a"/>
<rect x="307.65" y="290.6" width="1" height="3.4" fill="#f5e63a"/>
<rect x="326.85" y="286.5" width="1" height="3.4" fill="#f5e63a"/>
<rect x="328.65" y="286.5" width="1" height="3.4" fill="#f5e63a"/>
<rect x="356.55" y="312.7" width="1" height="3.4" fill="#f5e63a"/>
<rect x="358.35" y="312.7" width="1" height="3.4" fill="#f5e63a"/>
<rect x="376.85" y="308.6" width="1" height="3.4" fill="#f5e63a"/>
<rect x="378.65" y="308.6" width="1" height="3.4" fill="#f5e63a"/>
<rect x="206.05" y="374.6" width="1" height="3.4" fill="#f5e63a"/>
<rect x="207.85" y="374.6" width="1" height="3.4" fill="#f5e63a"/>
<rect x="230.25" y="371.5" width="1" height="3.4" fill="#f5e63a"/>
<rect x="232.05" y="371.5" width="1" height="3.4" fill="#f5e63a"/>
<rect x="248.45" y="397.5" width="1" height="3.4" fill="#f5e63a"/>
<rect x="250.25" y="397.5" width="1" height="3.4" fill="#f5e63a"/>
<rect x="270.65" y="393.8" width="1" height="3.4" fill="#f5e63a"/>
<rect x="272.45" y="393.8" width="1" height="3.4" fill="#f5e63a"/>
<rect x="256.95" y="371.9" width="1" height="3.4" fill="#f5e63a"/>
<rect x="258.75" y="371.9" width="1" height="3.4" fill="#f5e63a"/>
<rect x="277.55" y="368.2" width="1" height="3.4" fill="#f5e63a"/>
<rect x="279.35" y="368.2" width="1" height="3.4" fill="#f5e63a"/>
<rect x="302.45" y="394.8" width="1" height="3.4" fill="#f5e63a"/>
<rect x="304.25" y="394.8" width="1" height="3.4" fill="#f5e63a"/>
<rect x="324.05" y="391.1" width="1" height="3.4" fill="#f5e63a"/>
<rect x="325.85" y="391.1" width="1" height="3.4" fill="#f5e63a"/>
<rect x="306.55" y="369" width="1" height="3.4" fill="#f5e63a"/>
<rect x="308.35" y="369" width="1" height="3.4" fill="#f5e63a"/>
<rect x="327.85" y="365.8" width="1" height="3.4" fill="#f5e63a"/>
<rect x="329.65" y="365.8" width="1" height="3.4" fill="#f5e63a"/>
<rect x="356.35" y="392.1" width="1" height="3.4" fill="#f5e63a"/>
<rect x="358.15" y="392.1" width="1" height="3.4" fill="#f5e63a"/>
<rect x="376.55" y="387.6" width="1" height="3.4" fill="#f5e63a"/>
<rect x="378.35" y="387.6" width="1" height="3.4" fill="#f5e63a"/>
<rect x="354.75" y="366" width="1" height="3.4" fill="#f5e63a"/>
<rect x="356.55" y="366" width="1" height="3.4" fill="#f5e63a"/>
<rect x="373.95" y="362.7" width="1" height="3.4" fill="#f5e63a"/>
<rect x="375.75" y="362.7" width="1" height="3.4" fill="#f5e63a"/>
<rect x="410.25" y="389.4" width="1" height="3.4" fill="#f5e63a"/>
<rect x="412.05" y="389.4" width="1" height="3.4" fill="#f5e63a"/>
<rect x="430.55" y="384.8" width="1" height="3.4" fill="#f5e63a"/>
<rect x="432.35" y="384.8" width="1" height="3.4" fill="#f5e63a"/>
<rect x="404.05" y="363.3" width="1" height="3.4" fill="#f5e63a"/>
<rect x="405.85" y="363.3" width="1" height="3.4" fill="#f5e63a"/>
<rect x="423.55" y="360.1" width="1" height="3.4" fill="#f5e63a"/>
<rect x="425.35" y="360.1" width="1" height="3.4" fill="#f5e63a"/>
<rect x="465.45" y="385.8" width="1" height="3.4" fill="#f5e63a"/>
<rect x="467.25" y="385.8" width="1" height="3.4" fill="#f5e63a"/>
<rect x="482.95" y="383.6" width="1" height="3.4" fill="#f5e63a"/>
<rect x="484.75" y="383.6" width="1" height="3.4" fill="#f5e63a"/>
</g>
<g fill="#2b4a63">
<rect x="279" y="342.5" width="0.8" height="3" fill="#2b4a63"/>
<rect x="280.4" y="342.5" width="0.8" height="3" fill="#2b4a63"/>
<rect x="332.8" y="339.1" width="0.8" height="3" fill="#2b4a63"/>
<rect x="334.2" y="339.1" width="0.8" height="3" fill="#2b4a63"/>
<rect x="386.6" y="336.7" width="0.8" height="3" fill="#2b4a63"/>
<rect x="388" y="336.7" width="0.8" height="3" fill="#2b4a63"/>
<rect x="440.3" y="333.1" width="0.8" height="3" fill="#2b4a63"/>
<rect x="441.7" y="333.1" width="0.8" height="3" fill="#2b4a63"/>
</g>
<g fill="#111">
<polygon points="256,276.9 258.8,276.2 260.2,278.3 257.4,279"/>
<polygon points="253.6,277.5 255.6,277 256.8,278.6 254.8,279.1" fill="#9aa3ab"/>
<polygon points="255.6,330.2 258.4,329.5 259.8,331.6 257,332.3"/>
<polygon points="253.2,330.8 255.2,330.3 256.4,331.9 254.4,332.4" fill="#9aa3ab"/>
<polygon points="284.5,322.7 287.3,322 288.7,324.1 285.9,324.8"/>
<polygon points="282.1,323.3 284.1,322.8 285.3,324.4 283.3,324.9" fill="#9aa3ab"/>
<polygon points="336.4,319.7 339.2,319 340.6,321.1 337.8,321.8"/>
<polygon points="334,320.3 336,319.8 337.2,321.4 335.2,321.9" fill="#9aa3ab"/>
<polygon points="391.7,317 394.5,316.3 395.9,318.4 393.1,319.1"/>
<polygon points="389.3,317.6 391.3,317.1 392.5,318.7 390.5,319.2" fill="#9aa3ab"/>
<polygon points="284.5,346.7 287.3,346 288.7,348.1 285.9,348.8"/>
<polygon points="282.1,347.3 284.1,346.8 285.3,348.4 283.3,348.9" fill="#9aa3ab"/>
<polygon points="337.1,343.7 339.9,343 341.3,345.1 338.5,345.8"/>
<polygon points="334.7,344.3 336.7,343.8 337.9,345.4 335.9,345.9" fill="#9aa3ab"/>
<polygon points="391.7,341 394.5,340.3 395.9,342.4 393.1,343.1"/>
<polygon points="389.3,341.6 391.3,341.1 392.5,342.7 390.5,343.2" fill="#9aa3ab"/>
<polygon points="445,337.7 447.8,337 449.2,339.1 446.4,339.8"/>
<polygon points="442.6,338.3 444.6,337.8 445.8,339.4 443.8,339.9" fill="#9aa3ab"/>
<polygon points="284.3,404.8 287.1,404.1 288.5,406.2 285.7,406.9"/>
<polygon points="281.9,405.4 283.9,404.9 285.1,406.5 283.1,407" fill="#9aa3ab"/>
<polygon points="336.3,402.1 339.1,401.4 340.5,403.5 337.7,404.2"/>
<polygon points="333.9,402.7 335.9,402.2 337.1,403.8 335.1,404.3" fill="#9aa3ab"/>
<polygon points="392,398.9 394.8,398.2 396.2,400.3 393.4,401"/>
<polygon points="389.6,399.5 391.6,399 392.8,400.6 390.8,401.1" fill="#9aa3ab"/>
<polygon points="444,395.8 446.8,395.1 448.2,397.2 445.4,397.9"/>
<polygon points="441.6,396.4 443.6,395.9 444.8,397.5 442.8,398" fill="#9aa3ab"/>
</g>
<g fill="none" stroke="#3f6f95" stroke-width="0.3">
<polygon points="243,350.9 247.6,349.4 249.4,352.3 244.8,353.8"/>
<polygon points="254,349.4 258.6,347.9 260.4,350.8 255.8,352.3"/>
<polygon points="263.5,346.9 268.1,345.4 269.9,348.3 265.3,349.8"/>
<polygon points="305.5,351.4 310.1,349.9 311.9,352.8 307.3,354.3"/>
<polygon points="316.5,349.4 321.1,347.9 322.9,350.8 318.3,352.3"/>
<polygon points="326,346.9 330.6,345.4 332.4,348.3 327.8,349.8"/>
<polygon points="361,348.4 365.6,346.9 367.4,349.8 362.8,351.3"/>
<polygon points="372,346.4 376.6,344.9 378.4,347.8 373.8,349.3"/>
<polygon points="381.5,343.9 386.1,342.4 387.9,345.3 383.3,346.8"/>
<polygon points="416,345.4 420.6,343.9 422.4,346.8 417.8,348.3"/>
<polygon points="427,343.4 431.6,341.9 433.4,344.8 428.8,346.3"/>
<polygon points="436.5,340.9 441.1,339.4 442.9,342.3 438.3,343.8"/>
</g>
<text x="428" y="245.6" font-size="8.6" fill="#ac8256" font-weight="bold">图例:</text>
<text x="459.1" y="257" font-size="7.9" fill="#ac8256">卫生间</text>
<text x="459.1" y="270.2" font-size="7.9" fill="#ac8256">电动扶梯</text>
<text x="459.1" y="283.4" font-size="7.9" fill="#ac8256">楼梯</text>
<text x="459.1" y="296.6" font-size="7.9" fill="#ac8256">大门出/入口</text>
<text x="459.1" y="309.8" font-size="7.9" fill="#ac8256">您所在的位置</text>
<g fill="#1c1c1c"><circle cx="430.9" cy="251.2" r="0.95"/><path d="M429.4 252.4h3v3h-0.7v2h-1.6v-2h-0.7z"/><circle cx="435.6" cy="251.2" r="0.95"/><path d="M434.6 252.4h2l1.1 3.2h-1v1.8h-2.2v-1.8h-1z"/></g>
<rect x="429.2" y="264" width="8.9" height="6.8" fill="#141a1e" rx="0.8"/>
<path d="M430.6 269L433.2 266.6H436.6" fill="none" stroke="#5fb0c8" stroke-width="0.7"/>
<rect x="431" y="276.5" width="6.9" height="7.5" fill="#5d7d84"/>
<path d="M421.8 290.8V296M446.6 290.8V296" stroke="#6a8a96" stroke-width="0.45" fill="none"/>
<rect x="423" y="292.2" width="22.4" height="2.3" fill="#cfe3ea"/>
<path d="M423.4 294l2-1.4l2 1.4l2-1.4l2 1.4l2-1.4l2 1.4l2-1.4l2 1.4l2-1.4l2 1.4l1.6-1.2" stroke="#2f6f8a" stroke-width="0.7" fill="none"/>
<polygon points="434.2,302.5 435.02,304.87 437.53,304.92 435.53,306.43 436.26,308.83 434.2,307.4 432.14,308.83 432.87,306.43 430.87,304.92 433.38,304.87" fill="#d6202a"/>
<g id="map-compass" fill="#fff">
<circle cx="539.6" cy="220.6" r="8.2" fill="none" stroke="#fff" stroke-width="0.45"/>
<polygon points="528.4,224.8 545.4,211.4 541.8,219.4 553.2,223.0"/>
<text transform="translate(534.2 213.6) rotate(-28)" font-size="6.3" font-weight="bold" text-anchor="middle">东</text>
<text transform="translate(553.4 216.4) rotate(-28)" font-size="6.3" font-weight="bold" text-anchor="middle">南</text>
<text transform="translate(523 228.6) rotate(-28)" font-size="6.3" font-weight="bold" text-anchor="middle">北</text>
<text transform="translate(546.8 232.6) rotate(-28)" font-size="6.3" font-weight="bold" text-anchor="middle">西</text>
</g>
</g>
<!-- floor plan: hall 1 -->
<g id="plan">
<polygon points="917.2,373.3 952.4,373.3 952.4,622.8 896.3,622.8 896.3,441 834.1,453.4 834.1,412.5" fill="#bdbcc1"/>
<g stroke="#453f3f" stroke-width="0.85">
<rect x="812.2" y="308.3" width="6.8" height="9.4" fill="#ffffff"/>
<rect x="828.1" y="308.3" width="9.6" height="9.4" fill="#ffffff"/>
<rect x="837.7" y="308.3" width="9.8" height="9.4" fill="#ffffff"/>
<rect x="856.4" y="308.3" width="9.9" height="9.4" fill="#ffffff"/>
<rect x="866.3" y="308.3" width="9.6" height="9.4" fill="#ffffff"/>
<rect x="885.4" y="308.3" width="19.2" height="9.4" fill="#ffffff"/>
<rect x="930.4" y="308.3" width="28.5" height="9.4" fill="#ffffff"/>
<rect x="971.3" y="308.3" width="9.8" height="9.4" fill="#ffffff"/>
<rect x="981.1" y="308.3" width="9.6" height="9.4" fill="#ffffff"/>
<rect x="1000.2" y="308.3" width="9.6" height="9.4" fill="#ffffff"/>
<rect x="812.2" y="325.8" width="6.8" height="9" fill="#ffffff"/>
<rect x="812.2" y="334.8" width="6.8" height="8.6" fill="#ffffff"/>
<rect x="828.1" y="325.8" width="9.6" height="9" fill="#ffffff"/>
<rect x="837.7" y="325.8" width="9.8" height="9" fill="#ffffff"/>
<rect x="828.1" y="334.8" width="9.6" height="8.6" fill="#c1272d"/>
<rect x="837.7" y="334.8" width="9.8" height="8.6" fill="#c1272d"/>
<rect x="856.4" y="325.8" width="9.9" height="9" fill="#ffffff"/>
<rect x="866.3" y="325.8" width="9.6" height="9" fill="#ffffff"/>
<rect x="856.4" y="334.8" width="9.9" height="8.6" fill="#c1272d"/>
<rect x="866.3" y="334.8" width="9.6" height="8.6" fill="#ffffff"/>
<rect x="971.3" y="325.8" width="9.8" height="9" fill="#ffffff"/>
<rect x="981.1" y="325.8" width="9.6" height="9" fill="#ffffff"/>
<rect x="971.3" y="334.8" width="9.8" height="8.6" fill="#c1272d"/>
<rect x="981.1" y="334.8" width="9.6" height="8.6" fill="#c1272d"/>
<rect x="885.4" y="325.8" width="19.2" height="17.6" fill="#c1272d"/>
<rect x="930.4" y="325.8" width="19" height="17.6" fill="#c1272d"/>
<rect x="949.4" y="325.8" width="9.5" height="9" fill="#ffffff"/>
<rect x="949.4" y="334.8" width="9.5" height="8.6" fill="#ffffff"/>
<rect x="1000.2" y="325.8" width="9.6" height="9" fill="#ffffff"/>
<rect x="1000.2" y="334.8" width="9.6" height="8.6" fill="#c1272d"/>
<rect x="812.2" y="351.6" width="6.8" height="9" fill="#ffffff"/>
<rect x="812.2" y="360.6" width="6.8" height="8.8" fill="#ffffff"/>
<rect x="828.1" y="351.6" width="9.6" height="9" fill="#c1272d"/>
<rect x="837.7" y="351.6" width="9.8" height="9" fill="#c1272d"/>
<rect x="828.1" y="360.6" width="9.6" height="8.8" fill="#c1272d"/>
<rect x="837.7" y="360.6" width="9.8" height="8.8" fill="#c1272d"/>
<rect x="856.4" y="351.6" width="9.9" height="9" fill="#c1272d"/>
<rect x="866.3" y="351.6" width="9.6" height="9" fill="#c1272d"/>
<rect x="856.4" y="360.6" width="9.9" height="8.8" fill="#c1272d"/>
<rect x="866.3" y="360.6" width="9.6" height="8.8" fill="#c1272d"/>
<rect x="971.3" y="351.6" width="9.8" height="9" fill="#c1272d"/>
<rect x="981.1" y="351.6" width="9.6" height="9" fill="#c1272d"/>
<rect x="971.3" y="360.6" width="9.8" height="8.8" fill="#c1272d"/>
<rect x="981.1" y="360.6" width="9.6" height="8.8" fill="#c1272d"/>
<rect x="885.4" y="351.6" width="19.2" height="17.8" fill="#c1272d"/>
<rect x="930.4" y="351.6" width="19" height="17.8" fill="#c1272d"/>
<rect x="949.4" y="351.6" width="9.5" height="9" fill="#c1272d"/>
<rect x="949.4" y="360.6" width="9.5" height="8.8" fill="#c1272d"/>
<rect x="1000.2" y="351.6" width="9.6" height="9" fill="#c1272d"/>
<rect x="1000.2" y="360.6" width="9.6" height="8.8" fill="#c1272d"/>
<rect x="812.2" y="377.4" width="6.8" height="9.1" fill="#ffffff"/>
<rect x="812.2" y="386.5" width="6.8" height="8.7" fill="#ffffff"/>
<rect x="828.1" y="377.4" width="9.6" height="9.1" fill="#c1272d"/>
<rect x="837.7" y="377.4" width="9.8" height="9.1" fill="#c1272d"/>
<rect x="828.1" y="386.5" width="9.6" height="8.7" fill="#c1272d"/>
<rect x="837.7" y="386.5" width="9.8" height="8.7" fill="#c1272d"/>
<rect x="856.4" y="377.4" width="9.9" height="9.1" fill="#c1272d"/>
<rect x="866.3" y="377.4" width="9.6" height="9.1" fill="#c1272d"/>
<rect x="856.4" y="386.5" width="9.9" height="8.7" fill="#c1272d"/>
<rect x="866.3" y="386.5" width="9.6" height="8.7" fill="#c1272d"/>
<rect x="971.3" y="377.4" width="9.8" height="9.1" fill="#c1272d"/>
<rect x="981.1" y="377.4" width="9.6" height="9.1" fill="#c1272d"/>
<rect x="971.3" y="386.5" width="9.8" height="8.7" fill="#c1272d"/>
<rect x="981.1" y="386.5" width="9.6" height="8.7" fill="#c1272d"/>
<rect x="885.4" y="377.4" width="19.2" height="17.8" fill="#c1272d"/>
<rect x="930.4" y="377.4" width="19" height="17.8" fill="#c1272d"/>
<rect x="949.4" y="377.4" width="9.5" height="9.1" fill="#c1272d"/>
<rect x="949.4" y="386.5" width="9.5" height="8.7" fill="#c1272d"/>
<rect x="1000.2" y="377.4" width="9.6" height="9.1" fill="#c1272d"/>
<rect x="1000.2" y="386.5" width="9.6" height="8.7" fill="#c1272d"/>
<rect x="812.2" y="403.3" width="6.8" height="9.1" fill="#ffffff"/>
<rect x="812.2" y="412.4" width="6.8" height="8.4" fill="#ffffff"/>
<rect x="828.1" y="403.3" width="9.6" height="9.1" fill="#efe98c"/>
<rect x="837.7" y="403.3" width="9.8" height="9.1" fill="#efe98c"/>
<rect x="828.1" y="412.4" width="9.6" height="8.4" fill="#efe98c"/>
<rect x="837.7" y="412.4" width="9.8" height="8.4" fill="#efe98c"/>
<rect x="856.4" y="403.3" width="9.9" height="9.1" fill="#efe98c"/>
<rect x="866.3" y="403.3" width="9.6" height="9.1" fill="#efe98c"/>
<rect x="856.4" y="412.4" width="9.9" height="8.4" fill="#efe98c"/>
<rect x="866.3" y="412.4" width="9.6" height="8.4" fill="#ffffff"/>
<rect x="971.3" y="403.3" width="9.8" height="9.1" fill="#efe98c"/>
<rect x="981.1" y="403.3" width="9.6" height="9.1" fill="#efe98c"/>
<rect x="971.3" y="412.4" width="9.8" height="8.4" fill="#efe98c"/>
<rect x="981.1" y="412.4" width="9.6" height="8.4" fill="#efe98c"/>
<rect x="885.4" y="403.3" width="19.2" height="17.5" fill="#abdfe0"/>
<rect x="930.4" y="403.3" width="19" height="17.5" fill="#abdfe0"/>
<rect x="949.4" y="403.3" width="9.5" height="9.1" fill="#efe98c"/>
<rect x="949.4" y="412.4" width="9.5" height="8.4" fill="#ffffff"/>
<rect x="1000.2" y="403.3" width="9.6" height="9.1" fill="#efe98c"/>
<rect x="1000.2" y="412.4" width="9.6" height="8.4" fill="#efe98c"/>
<rect x="812.2" y="429.2" width="6.8" height="9.1" fill="#ffffff"/>
<rect x="812.2" y="438.3" width="6.8" height="8.4" fill="#ffffff"/>
<rect x="828.1" y="429.2" width="9.6" height="9.1" fill="#efe98c"/>
<rect x="837.7" y="429.2" width="9.8" height="9.1" fill="#efe98c"/>
<rect x="828.1" y="438.3" width="9.6" height="8.4" fill="#efe98c"/>
<rect x="837.7" y="438.3" width="9.8" height="8.4" fill="#efe98c"/>
<rect x="856.4" y="429.2" width="9.9" height="9.1" fill="#efe98c"/>
<rect x="866.3" y="429.2" width="9.6" height="9.1" fill="#efe98c"/>
<rect x="856.4" y="438.3" width="9.9" height="8.4" fill="#efe98c"/>
<rect x="866.3" y="438.3" width="9.6" height="8.4" fill="#efe98c"/>
<rect x="971.3" y="429.2" width="9.8" height="9.1" fill="#efe98c"/>
<rect x="981.1" y="429.2" width="9.6" height="9.1" fill="#efe98c"/>
<rect x="971.3" y="438.3" width="9.8" height="8.4" fill="#efe98c"/>
<rect x="981.1" y="438.3" width="9.6" height="8.4" fill="#efe98c"/>
<rect x="885.4" y="429.2" width="19.2" height="17.5" fill="#abdfe0"/>
<rect x="930.4" y="429.2" width="19" height="17.5" fill="#abdfe0"/>
<rect x="949.4" y="429.2" width="9.5" height="9.1" fill="#efe98c"/>
<rect x="949.4" y="438.3" width="9.5" height="8.4" fill="#efe98c"/>
<rect x="1000.2" y="429.2" width="9.6" height="9.1" fill="#efe98c"/>
<rect x="1000.2" y="438.3" width="9.6" height="8.4" fill="#efe98c"/>
<rect x="812.2" y="455.3" width="38.5" height="17.5" fill="#abdfe0"/>
<rect x="866.2" y="455.3" width="38.6" height="17.5" fill="#abdfe0"/>
<rect x="930.2" y="455.3" width="38.5" height="17.5" fill="#abdfe0"/>
<rect x="981.2" y="455.3" width="28.6" height="17.5" fill="#abdfe0"/>
<rect x="812.2" y="484.5" width="38.5" height="17.2" fill="#abdfe0"/>
<rect x="866.2" y="484.5" width="38.6" height="17.2" fill="#abdfe0"/>
<rect x="930.2" y="484.5" width="38.5" height="17.2" fill="#abdfe0"/>
<rect x="981.2" y="484.5" width="28.6" height="17.2" fill="#abdfe0"/>
<rect x="812.2" y="520" width="28.6" height="20.3" fill="#abdfe0"/>
<rect x="856.4" y="520" width="48.4" height="20.3" fill="#abdfe0"/>
<rect x="930.2" y="520" width="47.8" height="20.3" fill="#abdfe0"/>
<rect x="990.5" y="520" width="19.3" height="17.6" fill="#abdfe0"/>
<rect x="812.2" y="551.5" width="28.6" height="17.2" fill="#abdfe0"/>
<rect x="856.4" y="551.5" width="48.4" height="26" fill="#abdfe0"/>
<rect x="930.2" y="551.5" width="47.8" height="26" fill="#abdfe0"/>
<rect x="990.5" y="548.5" width="19.3" height="17.6" fill="#abdfe0"/>
<rect x="812.2" y="580.2" width="28.6" height="26.2" fill="#abdfe0"/>
<rect x="856.4" y="577.5" width="48.4" height="28.9" fill="#abdfe0"/>
<rect x="930.2" y="577.5" width="47.8" height="28.9" fill="#abdfe0"/>
<rect x="990.5" y="577.3" width="19.3" height="17.4" fill="#abdfe0"/>
<rect x="812.2" y="623.2" width="28.6" height="26.3" fill="#abdfe0"/>
<rect x="856.4" y="623.2" width="48.4" height="32.1" fill="#abdfe0"/>
<rect x="930.2" y="623.2" width="47.8" height="32.1" fill="#abdfe0"/>
<rect x="990.5" y="606.4" width="19.3" height="17.3" fill="#abdfe0"/>
<rect x="990.5" y="635.1" width="19.3" height="25.4" fill="#abdfe0"/>
<rect x="812.2" y="658.1" width="19.4" height="17.5" fill="#abdfe0"/>
<rect x="812.2" y="683.5" width="22.4" height="26.2" fill="#abdfe0"/>
<rect x="844" y="665.9" width="60.8" height="43.8" fill="#abdfe0"/>
<rect x="930.2" y="665.9" width="47.8" height="43.8" fill="#abdfe0"/>
<rect x="990.5" y="675.3" width="19.3" height="34.4" fill="#abdfe0"/>
</g>
<g clip-path="url(#aisleclip)" stroke="#453f3f" stroke-width="0.85">
<rect x="828.1" y="403.3" width="9.6" height="9.1" fill="#dad485"/>
<rect x="837.7" y="403.3" width="9.8" height="9.1" fill="#dad485"/>
<rect x="828.1" y="412.4" width="9.6" height="8.4" fill="#dad485"/>
<rect x="837.7" y="412.4" width="9.8" height="8.4" fill="#dad485"/>
<rect x="856.4" y="403.3" width="9.9" height="9.1" fill="#dad485"/>
<rect x="866.3" y="403.3" width="9.6" height="9.1" fill="#dad485"/>
<rect x="856.4" y="412.4" width="9.9" height="8.4" fill="#dad485"/>
<rect x="866.3" y="412.4" width="9.6" height="8.4" fill="#bdbcc1"/>
<rect x="885.4" y="403.3" width="19.2" height="17.5" fill="#7fcdc9"/>
<rect x="930.4" y="403.3" width="19" height="17.5" fill="#7fcdc9"/>
<rect x="949.4" y="403.3" width="9.5" height="9.1" fill="#dad485"/>
<rect x="949.4" y="412.4" width="9.5" height="8.4" fill="#bdbcc1"/>
<rect x="828.1" y="429.2" width="9.6" height="9.1" fill="#dad485"/>
<rect x="837.7" y="429.2" width="9.8" height="9.1" fill="#dad485"/>
<rect x="828.1" y="438.3" width="9.6" height="8.4" fill="#dad485"/>
<rect x="837.7" y="438.3" width="9.8" height="8.4" fill="#dad485"/>
<rect x="856.4" y="429.2" width="9.9" height="9.1" fill="#dad485"/>
<rect x="866.3" y="429.2" width="9.6" height="9.1" fill="#dad485"/>
<rect x="856.4" y="438.3" width="9.9" height="8.4" fill="#dad485"/>
<rect x="866.3" y="438.3" width="9.6" height="8.4" fill="#dad485"/>
<rect x="885.4" y="429.2" width="19.2" height="17.5" fill="#7fcdc9"/>
<rect x="930.4" y="429.2" width="19" height="17.5" fill="#7fcdc9"/>
<rect x="949.4" y="429.2" width="9.5" height="9.1" fill="#dad485"/>
<rect x="949.4" y="438.3" width="9.5" height="8.4" fill="#dad485"/>
<rect x="812.2" y="455.3" width="38.5" height="17.5" fill="#7fcdc9"/>
<rect x="866.2" y="455.3" width="38.6" height="17.5" fill="#7fcdc9"/>
<rect x="930.2" y="455.3" width="38.5" height="17.5" fill="#7fcdc9"/>
<rect x="812.2" y="484.5" width="38.5" height="17.2" fill="#7fcdc9"/>
<rect x="866.2" y="484.5" width="38.6" height="17.2" fill="#7fcdc9"/>
<rect x="930.2" y="484.5" width="38.5" height="17.2" fill="#7fcdc9"/>
<rect x="812.2" y="520" width="28.6" height="20.3" fill="#7fcdc9"/>
<rect x="856.4" y="520" width="48.4" height="20.3" fill="#7fcdc9"/>
<rect x="930.2" y="520" width="47.8" height="20.3" fill="#7fcdc9"/>
<rect x="812.2" y="551.5" width="28.6" height="17.2" fill="#7fcdc9"/>
<rect x="856.4" y="551.5" width="48.4" height="26" fill="#7fcdc9"/>
<rect x="930.2" y="551.5" width="47.8" height="26" fill="#7fcdc9"/>
<rect x="812.2" y="580.2" width="28.6" height="26.2" fill="#7fcdc9"/>
<rect x="856.4" y="577.5" width="48.4" height="28.9" fill="#7fcdc9"/>
<rect x="930.2" y="577.5" width="47.8" height="28.9" fill="#7fcdc9"/>
</g>
<g fill="none" stroke="#ece63c" stroke-width="0.7">
<rect x="867.6" y="338.1" width="3.9" height="4.2" fill="none"/>
<rect x="952.5" y="338.1" width="5.2" height="4.2" fill="none"/>
<rect x="867.6" y="415.7" width="3.9" height="4.2" fill="none"/>
<rect x="952.5" y="415.7" width="5.2" height="4.2" fill="none"/>
<rect x="867.3" y="493.2" width="4" height="3.6" fill="none"/>
<rect x="952.3" y="493.2" width="4.6" height="3.6" fill="none"/>
<rect x="866.3" y="573.3" width="4.6" height="3.6" fill="none"/>
<rect x="952.3" y="573.3" width="4.6" height="3.6" fill="none"/>
<rect x="866.3" y="648.6" width="4.6" height="3.8" fill="none"/>
<rect x="952.3" y="648.6" width="4.6" height="3.8" fill="none"/>
</g>
<g fill="#141414">
<text x="813.1" y="311.92" font-size="3.8">A67</text>
<text x="829" y="311.92" font-size="3.8">A65</text>
<text x="838.6" y="311.92" font-size="3.8">A66</text>
<text x="857.3" y="311.92" font-size="3.8">B63</text>
<text x="867.2" y="311.92" font-size="3.8">B64</text>
<text x="887.3" y="313.01" font-size="4.2">C34</text>
<text x="932.3" y="313.01" font-size="4.2">D34</text>
<text x="972.2" y="311.92" font-size="3.8">E63</text>
<text x="982" y="311.92" font-size="3.8">F66</text>
<text x="1001.1" y="311.92" font-size="3.8">F63</text>
<text x="813.1" y="328.78" font-size="2.9">A69</text>
<text x="813.1" y="337.78" font-size="2.9">A67</text>
<text x="829" y="329.42" font-size="3.8">A65</text>
<text x="838.6" y="329.42" font-size="3.8">A56</text>
<text x="829" y="338.42" font-size="3.8">A63</text>
<text x="838.6" y="338.42" font-size="3.8">A64</text>
<text x="857.3" y="329.42" font-size="3.8">B61</text>
<text x="867.2" y="329.42" font-size="3.8">B62</text>
<text x="857.3" y="338.42" font-size="3.8">B59</text>
<text x="972.2" y="329.42" font-size="3.8">E61</text>
<text x="982" y="329.42" font-size="3.8">F66</text>
<text x="972.2" y="338.42" font-size="3.8">E59</text>
<text x="982" y="338.42" font-size="3.8">F62</text>
<text x="887.3" y="330.87" font-size="4.7">C32</text>
<text x="903.3" y="342.4" font-size="4.5" text-anchor="end">36m²</text>
<text x="895" y="325.3" font-size="3.6" text-anchor="middle">6</text>
<text x="884.8" y="335.9" font-size="3.6" text-anchor="end">6</text>
<text x="932.3" y="330.87" font-size="4.7">D32</text>
<text x="948.1" y="342.4" font-size="4.5" text-anchor="end">36m²</text>
<text x="939.9" y="325.3" font-size="3.6" text-anchor="middle">6</text>
<text x="929.8" y="335.9" font-size="3.6" text-anchor="end">6</text>
<text x="950.3" y="329.42" font-size="3.8">E62</text>
<text x="1001.1" y="329.42" font-size="3.8">F61</text>
<text x="1001.1" y="338.42" font-size="3.8">F59</text>
<text x="813.1" y="354.58" font-size="2.9">A64</text>
<text x="813.1" y="363.58" font-size="2.9">A67</text>
<text x="829" y="355.22" font-size="3.8">A61</text>
<text x="838.6" y="355.22" font-size="3.8">A62</text>
<text x="829" y="364.22" font-size="3.8">A59</text>
<text x="838.6" y="364.22" font-size="3.8">A60</text>
<text x="857.3" y="355.22" font-size="3.8">B57</text>
<text x="867.2" y="355.22" font-size="3.8">B58</text>
<text x="857.3" y="364.22" font-size="3.8">B55</text>
<text x="867.2" y="364.22" font-size="3.8">B56</text>
<text x="972.2" y="355.22" font-size="3.8">E57</text>
<text x="982" y="355.22" font-size="3.8">F60</text>
<text x="972.2" y="364.22" font-size="3.8">E55</text>
<text x="982" y="364.22" font-size="3.8">F58</text>
<text x="887.3" y="356.67" font-size="4.7">C30</text>
<text x="903.3" y="368.4" font-size="4.5" text-anchor="end">36m²</text>
<text x="895" y="351.1" font-size="3.6" text-anchor="middle">6</text>
<text x="884.8" y="361.8" font-size="3.6" text-anchor="end">6</text>
<text x="932.3" y="356.67" font-size="4.7">D30</text>
<text x="948.1" y="368.4" font-size="4.5" text-anchor="end">36m²</text>
<text x="939.9" y="351.1" font-size="3.6" text-anchor="middle">6</text>
<text x="929.8" y="361.8" font-size="3.6" text-anchor="end">6</text>
<text x="950.3" y="355.22" font-size="3.8">E58</text>
<text x="950.3" y="364.22" font-size="3.8">E56</text>
<text x="1001.1" y="355.22" font-size="3.8">F57</text>
<text x="1001.1" y="364.22" font-size="3.8">F55</text>
<text x="813.1" y="380.38" font-size="2.9">A56</text>
<text x="813.1" y="389.48" font-size="2.9">A55</text>
<text x="829" y="381.02" font-size="3.8">A57</text>
<text x="838.6" y="381.02" font-size="3.8">A58</text>
<text x="829" y="390.12" font-size="3.8">A55</text>
<text x="838.6" y="390.12" font-size="3.8">A56</text>
<text x="857.3" y="381.02" font-size="3.8">B53</text>
<text x="867.2" y="381.02" font-size="3.8">B52</text>
<text x="857.3" y="390.12" font-size="3.8">B51</text>
<text x="867.2" y="390.12" font-size="3.8">B50</text>
<text x="972.2" y="381.02" font-size="3.8">E53</text>
<text x="982" y="381.02" font-size="3.8">F56</text>
<text x="972.2" y="390.12" font-size="3.8">E51</text>
<text x="982" y="390.12" font-size="3.8">F52</text>
<text x="887.3" y="382.47" font-size="4.7">C28</text>
<text x="903.3" y="394.2" font-size="4.5" text-anchor="end">36m²</text>
<text x="895" y="376.9" font-size="3.6" text-anchor="middle">6</text>
<text x="884.8" y="387.6" font-size="3.6" text-anchor="end">6</text>
<text x="932.3" y="382.47" font-size="4.7">D28</text>
<text x="948.1" y="394.2" font-size="4.5" text-anchor="end">36m²</text>
<text x="939.9" y="376.9" font-size="3.6" text-anchor="middle">6</text>
<text x="929.8" y="387.6" font-size="3.6" text-anchor="end">6</text>
<text x="950.3" y="381.02" font-size="3.8">E52</text>
<text x="950.3" y="390.12" font-size="3.8">E50</text>
<text x="1001.1" y="381.02" font-size="3.8">F53</text>
<text x="1001.1" y="390.12" font-size="3.8">F51</text>
<text x="813.1" y="406.28" font-size="2.9">A54</text>
<text x="813.1" y="415.38" font-size="2.9">A51</text>
<text x="829" y="406.92" font-size="3.8">A53</text>
<text x="838.6" y="406.92" font-size="3.8">A52</text>
<text x="829" y="416.02" font-size="3.8">A51</text>
<text x="838.6" y="416.02" font-size="3.8">A50</text>
<text x="857.3" y="406.92" font-size="3.8">B49</text>
<text x="867.2" y="406.92" font-size="3.8">B46</text>
<text x="857.3" y="416.02" font-size="3.8">B45</text>
<text x="972.2" y="406.92" font-size="3.8">E43</text>
<text x="982" y="406.92" font-size="3.8">F50</text>
<text x="972.2" y="416.02" font-size="3.8">E41</text>
<text x="982" y="416.02" font-size="3.8">F46</text>
<text x="887.3" y="408.37" font-size="4.7">C26</text>
<text x="903.3" y="419.8" font-size="4.5" text-anchor="end">36m²</text>
<text x="895" y="402.8" font-size="3.6" text-anchor="middle">6</text>
<text x="884.8" y="413.35" font-size="3.6" text-anchor="end">6</text>
<text x="932.3" y="408.37" font-size="4.7">D26</text>
<text x="948.1" y="419.8" font-size="4.5" text-anchor="end">36m²</text>
<text x="939.9" y="402.8" font-size="3.6" text-anchor="middle">6</text>
<text x="929.8" y="413.35" font-size="3.6" text-anchor="end">6</text>
<text x="950.3" y="406.92" font-size="3.8">E46</text>
<text x="1001.1" y="406.92" font-size="3.8">F45</text>
<text x="1001.1" y="416.02" font-size="3.8">F41</text>
<text x="813.1" y="432.18" font-size="2.9">A47</text>
<text x="813.1" y="441.28" font-size="2.9">A45</text>
<text x="829" y="432.82" font-size="3.8">A43</text>
<text x="838.6" y="432.82" font-size="3.8">A44</text>
<text x="829" y="441.92" font-size="3.8">A41</text>
<text x="838.6" y="441.92" font-size="3.8">A42</text>
<text x="857.3" y="432.82" font-size="3.8">B39</text>
<text x="867.2" y="432.82" font-size="3.8">B40</text>
<text x="857.3" y="441.92" font-size="3.8">B37</text>
<text x="867.2" y="441.92" font-size="3.8">B38</text>
<text x="972.2" y="432.82" font-size="3.8">E39</text>
<text x="982" y="432.82" font-size="3.8">F42</text>
<text x="972.2" y="441.92" font-size="3.8">E37</text>
<text x="982" y="441.92" font-size="3.8">F40</text>
<text x="887.3" y="434.27" font-size="4.7">C24</text>
<text x="903.3" y="445.7" font-size="4.5" text-anchor="end">36m²</text>
<text x="895" y="428.7" font-size="3.6" text-anchor="middle">6</text>
<text x="884.8" y="439.25" font-size="3.6" text-anchor="end">6</text>
<text x="932.3" y="434.27" font-size="4.7">D24</text>
<text x="948.1" y="445.7" font-size="4.5" text-anchor="end">36m²</text>
<text x="939.9" y="428.7" font-size="3.6" text-anchor="middle">6</text>
<text x="929.8" y="439.25" font-size="3.6" text-anchor="end">6</text>
<text x="950.3" y="432.82" font-size="3.8">E40</text>
<text x="950.3" y="441.92" font-size="3.8">E38</text>
<text x="1001.1" y="432.82" font-size="3.8">F39</text>
<text x="1001.1" y="441.92" font-size="3.8">F37</text>
<text x="814.1" y="460.15" font-size="4.4">A41</text>
<text x="849.4" y="471.8" font-size="4.5" text-anchor="end">72m²</text>
<text x="831.45" y="454.8" font-size="3.6" text-anchor="middle">12</text>
<text x="811.6" y="465.35" font-size="3.6" text-anchor="end">6</text>
<text x="868.1" y="460.15" font-size="4.4">B36</text>
<text x="903.5" y="471.8" font-size="4.5" text-anchor="end">72m²</text>
<text x="885.5" y="454.8" font-size="3.6" text-anchor="middle">12</text>
<text x="865.6" y="465.35" font-size="3.6" text-anchor="end">6</text>
<text x="932.1" y="460.15" font-size="4.4">D22</text>
<text x="967.4" y="471.8" font-size="4.5" text-anchor="end">72m²</text>
<text x="949.45" y="454.8" font-size="3.6" text-anchor="middle">12</text>
<text x="929.6" y="465.35" font-size="3.6" text-anchor="end">6</text>
<text x="983.1" y="460.29" font-size="4.6">F36</text>
<text x="1008.5" y="471.8" font-size="4.5" text-anchor="end">54m²</text>
<text x="995.5" y="454.8" font-size="3.6" text-anchor="middle">9</text>
<text x="980.6" y="465.35" font-size="3.6" text-anchor="end">6</text>
<text x="814.1" y="489.35" font-size="4.4">A37</text>
<text x="849.4" y="500.7" font-size="4.5" text-anchor="end">72m²</text>
<text x="831.45" y="484" font-size="3.6" text-anchor="middle">12</text>
<text x="811.6" y="494.4" font-size="3.6" text-anchor="end">6</text>
<text x="868.1" y="489.35" font-size="4.4">B32</text>
<text x="903.5" y="500.7" font-size="4.5" text-anchor="end">72m²</text>
<text x="885.5" y="484" font-size="3.6" text-anchor="middle">12</text>
<text x="865.6" y="494.4" font-size="3.6" text-anchor="end">6</text>
<text x="932.1" y="489.35" font-size="4.4">D20</text>
<text x="967.4" y="500.7" font-size="4.5" text-anchor="end">72m²</text>
<text x="949.45" y="484" font-size="3.6" text-anchor="middle">12</text>
<text x="929.6" y="494.4" font-size="3.6" text-anchor="end">6</text>
<text x="983.1" y="489.49" font-size="4.6">F32</text>
<text x="1008.5" y="500.7" font-size="4.5" text-anchor="end">54m²</text>
<text x="995.5" y="484" font-size="3.6" text-anchor="middle">9</text>
<text x="980.6" y="494.4" font-size="3.6" text-anchor="end">6</text>
<text x="814.1" y="524.78" font-size="4.3">A33</text>
<text x="839.5" y="539.3" font-size="4.5" text-anchor="end">63m²</text>
<text x="826.5" y="519.5" font-size="3.6" text-anchor="middle">9</text>
<text x="811.6" y="531.45" font-size="3.6" text-anchor="end">7</text>
<text x="858.3" y="526.64" font-size="6.9">B30</text>
<text x="903.5" y="539.3" font-size="4.5" text-anchor="end">105m²</text>
<text x="880.6" y="519.5" font-size="3.6" text-anchor="middle">15</text>
<text x="855.8" y="531.45" font-size="3.6" text-anchor="end">7</text>
<text x="932.1" y="526.64" font-size="6.9">D18</text>
<text x="976.7" y="539.3" font-size="4.5" text-anchor="end">105m²</text>
<text x="954.1" y="519.5" font-size="3.6" text-anchor="middle">15</text>
<text x="929.6" y="531.45" font-size="3.6" text-anchor="end">7</text>
<text x="992.4" y="524.85" font-size="4.4">F30</text>
<text x="1008.5" y="536.6" font-size="4.5" text-anchor="end">36m²</text>
<text x="1000.15" y="519.5" font-size="3.6" text-anchor="middle">6</text>
<text x="989.9" y="530.1" font-size="3.6" text-anchor="end">6</text>
<text x="814.1" y="556.28" font-size="4.3">A25</text>
<text x="839.5" y="567.7" font-size="4.5" text-anchor="end">54m²</text>
<text x="826.5" y="551" font-size="3.6" text-anchor="middle">9</text>
<text x="811.6" y="561.4" font-size="3.6" text-anchor="end">6</text>
<text x="858.3" y="558.14" font-size="6.9">B24</text>
<text x="903.5" y="576.5" font-size="4.5" text-anchor="end">135m²</text>
<text x="880.6" y="551" font-size="3.6" text-anchor="middle">15</text>
<text x="855.8" y="565.8" font-size="3.6" text-anchor="end">9</text>
<text x="932.1" y="558.14" font-size="6.9">D16</text>
<text x="976.7" y="576.5" font-size="4.5" text-anchor="end">135m²</text>
<text x="954.1" y="551" font-size="3.6" text-anchor="middle">15</text>
<text x="929.6" y="565.8" font-size="3.6" text-anchor="end">9</text>
<text x="992.4" y="553.35" font-size="4.4">F28</text>
<text x="1008.5" y="565.1" font-size="4.5" text-anchor="end">36m²</text>
<text x="1000.15" y="548" font-size="3.6" text-anchor="middle">6</text>
<text x="989.9" y="558.6" font-size="3.6" text-anchor="end">6</text>
<text x="814.1" y="586.34" font-size="6.2">A21</text>
<text x="839.5" y="605.4" font-size="4.5" text-anchor="end">81m²</text>
<text x="826.5" y="579.7" font-size="3.6" text-anchor="middle">9</text>
<text x="811.6" y="594.6" font-size="3.6" text-anchor="end">9</text>
<text x="858.3" y="584.14" font-size="6.9">B20</text>
<text x="903.5" y="605.4" font-size="4.5" text-anchor="end">150m²</text>
<text x="855.8" y="593.25" font-size="3.6" text-anchor="end">10</text>
<text x="932.1" y="584.14" font-size="6.9">D12</text>
<text x="976.7" y="605.4" font-size="4.5" text-anchor="end">150m²</text>
<text x="929.6" y="593.25" font-size="3.6" text-anchor="end">10</text>
<text x="992.4" y="582.15" font-size="4.4">F20</text>
<text x="1008.5" y="593.7" font-size="4.5" text-anchor="end">36m²</text>
<text x="1000.15" y="576.8" font-size="3.6" text-anchor="middle">6</text>
<text x="989.9" y="587.3" font-size="3.6" text-anchor="end">6</text>
<text x="814.1" y="629.34" font-size="6.2">A15</text>
<text x="839.5" y="648.5" font-size="4.5" text-anchor="end">81m²</text>
<text x="826.5" y="622.7" font-size="3.6" text-anchor="middle">9</text>
<text x="811.6" y="637.65" font-size="3.6" text-anchor="end">9</text>
<text x="858.3" y="629.84" font-size="6.9">B16</text>
<text x="903.5" y="654.3" font-size="4.5" text-anchor="end">165m²</text>
<text x="880.6" y="622.7" font-size="3.6" text-anchor="middle">15</text>
<text x="855.8" y="640.55" font-size="3.6" text-anchor="end">11</text>
<text x="932.1" y="629.84" font-size="6.9">D10</text>
<text x="976.7" y="654.3" font-size="4.5" text-anchor="end">165m²</text>
<text x="954.1" y="622.7" font-size="3.6" text-anchor="middle">15</text>
<text x="929.6" y="640.55" font-size="3.6" text-anchor="end">11</text>
<text x="992.4" y="611.25" font-size="4.4">F16</text>
<text x="1008.5" y="622.7" font-size="4.5" text-anchor="end">36m²</text>
<text x="1000.15" y="605.9" font-size="3.6" text-anchor="middle">6</text>
<text x="989.9" y="616.35" font-size="3.6" text-anchor="end">6</text>
<text x="992.4" y="639.95" font-size="4.4">F12</text>
<text x="1008.5" y="659.5" font-size="4.5" text-anchor="end">54m²</text>
<text x="1000.15" y="634.6" font-size="3.6" text-anchor="middle">6</text>
<text x="989.9" y="649.1" font-size="3.6" text-anchor="end">9</text>
<text x="814.1" y="662.81" font-size="4.2">A11</text>
<text x="830.3" y="674.6" font-size="4.5" text-anchor="end">36m²</text>
<text x="821.9" y="657.6" font-size="3.6" text-anchor="middle">6</text>
<text x="811.6" y="668.15" font-size="3.6" text-anchor="end">6</text>
<text x="814.1" y="688.28" font-size="4.3">A07</text>
<text x="833.3" y="708.7" font-size="4.5" text-anchor="end">63m²</text>
<text x="823.4" y="683" font-size="3.6" text-anchor="middle">7</text>
<text x="811.6" y="697.9" font-size="3.6" text-anchor="end">9</text>
<text x="845.9" y="672.54" font-size="6.9">B08</text>
<text x="903.5" y="708.7" font-size="4.5" text-anchor="end">285m²</text>
<text x="874.4" y="665.4" font-size="3.6" text-anchor="middle">19</text>
<text x="843.4" y="689.1" font-size="3.6" text-anchor="end">15</text>
<text x="932.1" y="672.54" font-size="6.9">D08</text>
<text x="976.7" y="708.7" font-size="4.5" text-anchor="end">225m²</text>
<text x="954.1" y="665.4" font-size="3.6" text-anchor="middle">15</text>
<text x="929.6" y="689.1" font-size="3.6" text-anchor="end">15</text>
<text x="992.4" y="680.15" font-size="4.4">F08</text>
<text x="1008.5" y="708.7" font-size="4.5" text-anchor="end">72m²</text>
<text x="1000.15" y="674.8" font-size="3.6" text-anchor="middle">6</text>
<text x="989.9" y="693.8" font-size="3.6" text-anchor="end">12</text>
</g>
<text transform="translate(909.3 284.2) scale(1.15 1)" font-size="19.6" font-weight="900" fill="#0d0d0d" text-anchor="middle">1号馆</text>
<text x="818.1" y="295" font-size="7.1" fill="#111" font-weight="900">生物医药</text>
<text x="851" y="295" font-size="7.1" fill="#111" font-weight="900">中医药</text>
<text x="876.8" y="295" font-size="7.1" fill="#111" font-weight="900">抗衰医学美容新科技</text>
<text x="945.5" y="295" font-size="7.1" fill="#111" font-weight="900">营养健康食品展区</text>
<text transform="translate(911.1 252.2) scale(1.2 1)" font-size="12" font-weight="900" fill="#f2161c" text-anchor="middle">卸货口</text>
<text transform="translate(912 780) scale(1.25 1)" font-size="14.4" font-weight="900" fill="#f2161c" text-anchor="middle">出入口</text>
<text transform="translate(818.4 514.1) scale(1.1 1)" font-size="11.3" font-weight="bold" fill="#f2161c" text-anchor="middle">主</text>
<text transform="translate(835.1 514.1) scale(1.1 1)" font-size="11.3" font-weight="bold" fill="#f2161c" text-anchor="middle">通</text>
<text transform="translate(851.9 514.1) scale(1.1 1)" font-size="11.3" font-weight="bold" fill="#f2161c" text-anchor="middle">道</text>
<text transform="translate(971.6 514.8) scale(1.1 1)" font-size="11.3" font-weight="bold" fill="#f2161c" text-anchor="middle">主</text>
<text transform="translate(988.3 514.8) scale(1.1 1)" font-size="11.3" font-weight="bold" fill="#f2161c" text-anchor="middle">通</text>
<text transform="translate(1005.1 514.8) scale(1.1 1)" font-size="11.3" font-weight="bold" fill="#f2161c" text-anchor="middle">道</text>
<text transform="translate(916.6 428.2) scale(1.16 1)" font-size="15.6" font-weight="bold" fill="#f2161c" text-anchor="middle">主</text>
<text transform="translate(916.6 449.2) scale(1.16 1)" font-size="15.6" font-weight="bold" fill="#f2161c" text-anchor="middle">通</text>
<text transform="translate(916.6 469.4) scale(1.16 1)" font-size="15.6" font-weight="bold" fill="#f2161c" text-anchor="middle">道</text>
<text transform="translate(916.6 564.4) scale(1.16 1)" font-size="15.6" font-weight="bold" fill="#f2161c" text-anchor="middle">主</text>
<text transform="translate(916.6 585.4) scale(1.16 1)" font-size="15.6" font-weight="bold" fill="#f2161c" text-anchor="middle">通</text>
<text transform="translate(916.6 605.8) scale(1.16 1)" font-size="15.6" font-weight="bold" fill="#f2161c" text-anchor="middle">道</text>
<g stroke="#fff" stroke-width="1.6" stroke-linejoin="round" fill="#fff">
<polygon points="889,505.1 899.4,505.1 899.4,503.8 903.8,506.3 899.4,508.8 899.4,507.5 889,507.5"/>
<polygon points="903.8,513.4 893.4,513.4 893.4,512.1 889,514.6 893.4,517.1 893.4,515.8 903.8,515.8"/>
<polygon points="930.4,505.1 941.6,505.1 941.6,503.8 946,506.3 941.6,508.8 941.6,507.5 930.4,507.5"/>
<polygon points="946,513.4 934.8,513.4 934.8,512.1 930.4,514.6 934.8,517.1 934.8,515.8 946,515.8"/>
<polygon points="909.5,518.8 909.5,506.2 906.3,506.2 911,499.8 915.7,506.2 912.5,506.2 912.5,518.8"/>
<polygon points="920.2,499.8 920.2,512.4 917,512.4 921.7,518.8 926.4,512.4 923.2,512.4 923.2,499.8"/>
</g>
<polygon points="889,505.1 899.4,505.1 899.4,503.8 903.8,506.3 899.4,508.8 899.4,507.5 889,507.5" fill="url(#arrH)" stroke="url(#arrH)" stroke-width="0.5" stroke-linejoin="round"/>
<polygon points="903.8,513.4 893.4,513.4 893.4,512.1 889,514.6 893.4,517.1 893.4,515.8 903.8,515.8" fill="url(#arrH)" stroke="url(#arrH)" stroke-width="0.5" stroke-linejoin="round"/>
<polygon points="930.4,505.1 941.6,505.1 941.6,503.8 946,506.3 941.6,508.8 941.6,507.5 930.4,507.5" fill="url(#arrH)" stroke="url(#arrH)" stroke-width="0.5" stroke-linejoin="round"/>
<polygon points="946,513.4 934.8,513.4 934.8,512.1 930.4,514.6 934.8,517.1 934.8,515.8 946,515.8" fill="url(#arrH)" stroke="url(#arrH)" stroke-width="0.5" stroke-linejoin="round"/>
<polygon points="909.5,518.8 909.5,506.2 906.3,506.2 911,499.8 915.7,506.2 912.5,506.2 912.5,518.8" fill="url(#arrV)" stroke="url(#arrV)" stroke-width="0.5" stroke-linejoin="round"/>
<polygon points="920.2,499.8 920.2,512.4 917,512.4 921.7,518.8 926.4,512.4 923.2,512.4 923.2,499.8" fill="url(#arrV)" stroke="url(#arrV)" stroke-width="0.5" stroke-linejoin="round"/>
<g fill="none" stroke="url(#arrIn)" stroke-width="3.2" stroke-linecap="round" stroke-linejoin="round">
<path d="M903 741.8 L912 735.2 L921 741.8"/>
<path d="M903 749.6 L912 742.6 L921 749.6"/>
<path d="M912 744 V764.2"/>
</g>
<g fill="none" stroke="url(#chev)" stroke-width="3.1" stroke-linejoin="miter" stroke-linecap="round"><path d="M1042.8 503.6 L1037.2 509.4 L1042.8 515.2"/><path d="M1050.1 503.6 L1044.5 509.4 L1050.1 515.2"/><path d="M1057.4 503.6 L1051.8 509.4 L1057.4 515.2"/></g>
<g fill="none" stroke="url(#chev)" stroke-width="3.1" stroke-linejoin="miter" stroke-linecap="round"><path d="M1070.2 503.6 L1075.8 509.4 L1070.2 515.2"/><path d="M1077.5 503.6 L1083.1 509.4 L1077.5 515.2"/><path d="M1084.8 503.6 L1090.4 509.4 L1084.8 515.2"/></g>
<text x="1034.8" y="498.6" font-size="6.7" fill="#111" font-weight="900" textLength="32.6" lengthAdjust="spacingAndGlyphs">通往1号馆</text>
<text x="1061" y="526.2" font-size="6.7" fill="#111" font-weight="900" textLength="32.4" lengthAdjust="spacingAndGlyphs">通往2号馆</text>
<g fill="none" stroke="url(#chev)" stroke-width="3.1" stroke-linejoin="miter" stroke-linecap="round"><path d="M1036 710.9 L1030.4 716.7 L1036 722.5"/><path d="M1043.3 710.9 L1037.7 716.7 L1043.3 722.5"/><path d="M1050.6 710.9 L1045 716.7 L1050.6 722.5"/></g>
<g fill="none" stroke="url(#chev)" stroke-width="3.1" stroke-linejoin="miter" stroke-linecap="round"><path d="M1070.2 710.9 L1075.8 716.7 L1070.2 722.5"/><path d="M1077.5 710.9 L1083.1 716.7 L1077.5 722.5"/><path d="M1084.8 710.9 L1090.4 716.7 L1084.8 722.5"/></g>
<text x="1029.2" y="705.6" font-size="6.7" fill="#111" font-weight="900" textLength="32.4" lengthAdjust="spacingAndGlyphs">通往1号馆</text>
<text x="1059.1" y="732.2" font-size="6.7" fill="#111" font-weight="900" textLength="32.4" lengthAdjust="spacingAndGlyphs">通往2号馆</text>
</g>
<!-- right text -->
<text x="1069.4" y="257.4" font-size="21" fill="#d81b5c" font-weight="900" textLength="73.4" lengthAdjust="spacingAndGlyphs">1 号馆:</text>
<text x="1071.4" y="279.3" font-size="12.8" fill="#d81b5c" textLength="102.6" lengthAdjust="spacingAndGlyphs">中医药 / 生物医药</text>
<text x="1071.4" y="300.2" font-size="12.8" fill="#d81b5c" textLength="38.6" lengthAdjust="spacingAndGlyphs">抗衰老</text>
<text x="1071.4" y="320" font-size="12.8" fill="#d81b5c" textLength="76.3" lengthAdjust="spacingAndGlyphs">营养健康食品</text>
<text x="1072.6" y="345.6" font-size="9.8" fill="#d81b5c" font-weight="500" textLength="87.2" lengthAdjust="spacingAndGlyphs">中医药 / 生物医药展</text>
<text x="1072.2" y="434.5" font-size="9.8" fill="#d81b5c" font-weight="500" textLength="38.9" lengthAdjust="spacingAndGlyphs">抗衰老展</text>
<text x="1072.1" y="551.2" font-size="9.8" fill="#d81b5c" font-weight="500" textLength="69.2" lengthAdjust="spacingAndGlyphs">营养健康食品展</text>
<!-- hall walls and service cores -->
<g id="walls">
<path d="M793.3 263.2L793.3 308.2M793.3 371.6L793.3 413.1M793.3 474L793.3 490.5M787.3 308.2L787.3 371.6M787.3 308.2L798.6 308.2M787.3 371.6L793.3 371.6M787.3 308.2L792.3 312.2M787.3 371.6L792.3 367.4M787.3 413.1L787.3 474M787.3 413.1L793.3 413.1M787.3 474L793.3 474M787.3 413.1L792.3 417M787.3 474L792.3 470M785.2 490.5L785.2 525.4M785.2 490.5L793.3 490.5M785.2 525.4L793.3 522M785.2 490.5L789.8 494.6M1030.7 263.2L1030.7 308.2M1030.7 371.6L1030.7 413.1M1030.7 474L1030.7 490.5M1030.7 578.2L1030.7 624.3M1036.7 308.2L1036.7 371.6M1036.7 308.2L1025.4 308.2M1036.7 371.6L1030.7 371.6M1036.7 308.2L1031.7 312.2M1036.7 371.6L1031.7 367.4M1034.7 413.1L1034.7 474M1034.7 413.1L1030.7 413.1M1034.7 474L1030.7 474M1034.7 413.1L1031.7 417M1034.7 474L1031.7 470M1034.7 490.5L1034.7 525.4M1034.7 490.5L1030.7 490.5M1034.7 525.4L1030.7 522M1034.7 490.5L1034.2 494.6M785.2 256.8L785.2 293.6M785.2 256.8L794.5 256.8M785.2 293.6L793.3 293.6M785.2 256.8L789.8 261.4M785.2 293.6L789.8 288.4M794.5 256.8L798 261.4M793.3 293.6L793.3 308.2M776.4 532L776.4 564.4M776.4 532L790.4 532M776.4 564.4L787.3 564.4M776.4 532L781.1 536M776.4 564.4L781.1 560.4M790.4 532L792.5 536.4M787.3 564.4L792.5 574.5M787.3 525.4L787.3 532M1034.7 525.4L1034.7 578.2M1034.7 578.2L1030.4 578.2M1034.7 578.2L1027 574M1034.4 621.2L1034.4 635.4M1030.4 624.3L1034.4 621.2M1034.4 635.4L1044.6 635.4M1044.6 635.4L1044.6 668.9M1044.6 668.9L1034.4 668.9M1034.4 668.9L1034.4 677.5M1034.4 677.5L1029.7 677.5M1034.4 635.4L1030 639.5M1044.6 635.4L1040 640M1044.6 668.9L1040 664M1034.4 668.9L1031 665M793.2 210L889.8 210M793.2 210L793.2 256.8M889.8 210L889.8 238.5M793.2 210L798.8 214.7M889.8 210L885.3 214.7M933.5 210L1030.6 210M1030.6 210L1030.6 308.2M933.5 210L933.5 238.5M933.5 210L938 214.7M1030.6 210L1025.4 214.7M889.8 238.5L933.5 238.5M889.8 238.5L885.6 262M933.5 238.5L938.2 262" fill="none" stroke="#7a7676" stroke-width="0.7"/>
<path d="M798.6 263.2L798.6 308.2M798.6 371.6L798.6 413.1M798.6 474L798.6 490.5M792.3 312.2L792.3 367.4M802.4 312.2L802.4 367.4M792.3 312.2L802.4 312.2M792.3 367.4L798.6 367.4M792.3 318.6L802.4 318.6M792.3 326L802.4 326M792.3 331L802.4 331M792.3 339.8L802.4 339.8M792.3 348.6L802.4 348.6M792.3 357.6L802.4 357.6M792.3 419.5L792.3 458M802.4 419.5L802.4 458M792.3 419.5L802.4 419.5M792.3 423L802.4 423M792.3 443.2L802.4 443.2M792.3 454.6L802.4 454.6M792.3 458L802.4 458M789.8 494.6L789.8 501.2M789.8 514.4L789.8 521M797.5 494.6L797.5 501.2M797.5 514.4L797.5 521M789.8 494.6L797.5 494.6M789.8 521L797.5 521M1025.4 263.2L1025.4 308.2M1025.4 371.6L1025.4 413.1M1025.4 474L1025.4 490.5M1025.4 578.2L1025.4 624.3M1031.7 312.2L1031.7 367.4M1021.6 312.2L1021.6 367.4M1031.7 312.2L1021.6 312.2M1031.7 367.4L1025.4 367.4M1031.7 318.6L1021.6 318.6M1031.7 326L1021.6 326M1031.7 331L1021.6 331M1031.7 339.8L1021.6 339.8M1031.7 348.6L1021.6 348.6M1031.7 357.6L1021.6 357.6M1031.7 419.5L1031.7 458M1021.6 419.5L1021.6 458M1031.7 419.5L1021.6 419.5M1031.7 423L1021.6 423M1031.7 443.2L1021.6 443.2M1031.7 454.6L1021.6 454.6M1031.7 458L1021.6 458M1034.2 494.6L1034.2 501.2M1034.2 514.4L1034.2 521M1026.5 494.6L1026.5 501.2M1026.5 514.4L1026.5 521M1034.2 494.6L1026.5 494.6M1034.2 521L1026.5 521M789.8 261.4L789.8 288.4M789.8 261.4L798.6 261.4M789.8 288.4L798.6 288.4M796.2 261.4L796.2 269M796.2 281.2L796.2 288.4M781.1 536L781.1 541M781.1 555L781.1 560.4M781.1 536L792.5 536.4M781.1 560.4L792.5 559.6M792.5 536.4L792.5 574.5M801.9 537.3L801.9 559.4M801.9 563.4L801.9 572M792.5 537.3L801.9 537.3M792.5 547.9L801.9 547.9M792.5 559.4L801.9 559.4M792.5 574.5L799 574.5M799 574.5L799 578M798.7 627.3L798.7 637.9M792.5 637.9L792.5 666.4M801.9 637.9L801.9 666.4M792.5 637.9L801.9 637.9M792.5 641.6L801.9 641.6M792.5 652.1L801.9 652.1M792.5 662.7L801.9 662.7M792.5 666.4L801.9 666.4M1022 533.4L1022 563.4M1030.4 533.4L1030.4 563.4M1022 533.4L1030.4 533.4M1022 536.7L1030.4 536.7M1022 548.5L1030.4 548.5M1022 560.3L1030.4 560.3M1022 563.4L1030.4 563.4M1022 638.5L1022 667M1029.7 626L1029.7 677.5M1022 667L1022 677.5M1022 638.5L1029.7 638.5M1022 652.1L1029.7 652.1M1022 664L1029.7 664M1022 667L1029.7 667M1029.7 640L1040 640M1029.7 664L1040 664M1040 640L1040 645M1040 658.5L1040 664M798.8 214.7L885.3 214.7M798.8 214.7L798.8 263.2M885.3 214.7L885.3 263.2M802.1 214.7L802.1 247.9M810.5 214.7L810.5 227.4M819.5 214.7L819.5 247.9M823.2 214.7L823.2 263.2M861.1 215.5L861.1 263.2M863.7 215.5L863.7 247.9M872.5 215.5L872.5 225.3M881.1 214.7L881.1 247.9M810.5 249.5L810.5 263.2M828.5 249.5L828.5 263.2M854.8 249.5L854.8 263.2M798.8 247.9L823.2 247.9M861.1 247.9L885.3 247.9M798.8 263.2L823.2 263.2M810.5 249.5L823.2 249.5M861.1 263.2L885.3 263.2M828.5 257.9L854.8 257.9M828.5 263.2L854.8 263.2M828.5 249.5L854.8 249.5M823.2 240.4L829 240.4M855.3 240.4L861.1 240.4M1025.2 214.7L938.7 214.7M1025.2 214.7L1025.2 263.2M938.7 214.7L938.7 263.2M1021.9 214.7L1021.9 247.9M1013.5 214.7L1013.5 227.4M1004.5 214.7L1004.5 247.9M1000.8 214.7L1000.8 263.2M962.9 215.5L962.9 263.2M960.3 215.5L960.3 247.9M951.5 215.5L951.5 225.3M942.9 214.7L942.9 247.9M1013.5 249.5L1013.5 263.2M995.5 249.5L995.5 263.2M969.2 249.5L969.2 263.2M1025.2 247.9L1000.8 247.9M962.9 247.9L938.7 247.9M1025.2 263.2L1000.8 263.2M1013.5 249.5L1000.8 249.5M962.9 263.2L938.7 263.2M995.5 257.9L969.2 257.9M995.5 263.2L969.2 263.2M995.5 249.5L969.2 249.5M1000.8 240.4L995 240.4M968.7 240.4L962.9 240.4M795.7 729.9L795.7 773.5M799.9 743.3L799.9 773.5M808.3 728.9L808.3 743.3M816.7 743.3L816.7 773.5M819.7 743.3L819.7 782.4M820.7 728.9L820.7 743.3M808.3 773.5L808.3 782.4M825.4 729.9L825.4 743.8M855.4 729.9L855.4 743.8M825.4 747.5L825.4 751.5M855.4 747.5L855.4 751.5M840 751.7L840 787.4M826.4 765.6L826.4 782.4M853.6 765.6L853.6 782.4M860 728.9L860 782.4M863.1 743.3L863.1 782.4M871.8 743.3L871.8 783M881 743.3L881 782.4M884.2 729.9L884.2 740M884.2 752.5L884.2 774.5M800.9 728.9L820.7 728.9M808.3 738L820.7 738M795.7 743.3L820.7 743.3M795.7 773.5L816.7 773.5M808.3 782.4L819.7 782.4M795.7 765.6L884.2 765.6M825.4 733.3L831.6 733.3M849.4 733.3L855.4 733.3M828.6 782.4L852.4 782.4M860 728.9L867 728.9M860 743.3L884.7 743.3M860 773.5L881 773.5M860 782.4L882.8 782.4M831.6 751.2L849.4 751.2M1028.6 729.9L1028.6 773.5M1024.4 743.3L1024.4 773.5M1016 728.9L1016 743.3M1007.6 743.3L1007.6 773.5M1004.6 743.3L1004.6 782.4M1003.6 728.9L1003.6 743.3M1016 773.5L1016 782.4M998.9 729.9L998.9 743.8M968.9 729.9L968.9 743.8M998.9 747.5L998.9 751.5M968.9 747.5L968.9 751.5M984.3 751.7L984.3 787.4M997.9 765.6L997.9 782.4M970.7 765.6L970.7 782.4M964.3 728.9L964.3 782.4M961.2 743.3L961.2 782.4M952.5 743.3L952.5 783M943.3 743.3L943.3 782.4M940.1 729.9L940.1 740M940.1 752.5L940.1 774.5M1023.4 728.9L1003.6 728.9M1016 738L1003.6 738M1028.6 743.3L1003.6 743.3M1028.6 773.5L1007.6 773.5M1016 782.4L1004.6 782.4M1028.6 765.6L940.1 765.6M998.9 733.3L992.7 733.3M974.9 733.3L968.9 733.3M995.7 782.4L971.9 782.4M964.3 728.9L957.3 728.9M964.3 743.3L939.6 743.3M964.3 773.5L943.3 773.5M964.3 782.4L941.5 782.4M992.7 751.2L974.9 751.2M1029 728.9L1037 728.9" fill="none" stroke="#7d7979" stroke-width="1.25"/>
<rect x="793" y="319" width="9" height="6.6" fill="#9a9797"/>
<line x1="793" y1="319.66" x2="802" y2="319.66" stroke="#5e5a5a" stroke-width="0.55"/>
<line x1="793" y1="320.98" x2="802" y2="320.98" stroke="#5e5a5a" stroke-width="0.55"/>
<line x1="793" y1="322.3" x2="802" y2="322.3" stroke="#5e5a5a" stroke-width="0.55"/>
<line x1="793" y1="323.62" x2="802" y2="323.62" stroke="#5e5a5a" stroke-width="0.55"/>
<line x1="793" y1="324.94" x2="802" y2="324.94" stroke="#5e5a5a" stroke-width="0.55"/>
<line x1="797" y1="318.7" x2="797" y2="325.9" stroke="#d9472b" stroke-width="0.7"/>
<rect x="798.8" y="313.2" width="3.6" height="2.1" fill="#0a0a0a"/>
<rect x="798.8" y="338.8" width="3.6" height="2.1" fill="#0a0a0a"/>
<rect x="793.6" y="350" width="6.8" height="6.2" fill="#fff" stroke="#86d5e2" stroke-width="0.7"/>
<rect x="795.2" y="351.6" width="3.6" height="3" fill="none" stroke="#86d5e2" stroke-width="0.45"/>
<polyline points="790.5,358.5 792.3,360 790.5,361.5 792.3,363 790.5,364.5" fill="none" stroke="#86d5e2" stroke-width="0.45"/>
<polyline points="802.1,358.5 803.9,360 802.1,361.5 803.9,363 802.1,364.5" fill="none" stroke="#86d5e2" stroke-width="0.45"/>
<polyline points="802.5,341.5 804.3,343 802.5,344.5 804.3,346 802.5,347.5" fill="none" stroke="#86d5e2" stroke-width="0.45"/>
<polyline points="791.1,459.5 792.9,461 791.1,462.5 792.9,464 791.1,465.5 792.9,467" fill="none" stroke="#86d5e2" stroke-width="0.45"/>
<polyline points="800.7,459.5 802.5,461 800.7,462.5 802.5,464 800.7,465.5 802.5,467" fill="none" stroke="#86d5e2" stroke-width="0.45"/>
<polyline points="802.5,440.5 804.3,442 802.5,443.5 804.3,445 802.5,446.5" fill="none" stroke="#86d5e2" stroke-width="0.45"/>
<path d="M783.2 501.4H797.4M783.2 514.3H797.4M783.2 501.4Q790.5 503 792.5 507.8Q790.5 512.6 783.2 514.3" fill="none" stroke="#86d5e2" stroke-width="0.5"/>
<path d="M785 503L788.6 507.8L785 512.6" fill="none" stroke="#86d5e2" stroke-width="0.5"/>
<rect x="1022" y="319" width="9" height="6.6" fill="#9a9797"/>
<line x1="1022" y1="319.66" x2="1031" y2="319.66" stroke="#5e5a5a" stroke-width="0.55"/>
<line x1="1022" y1="320.98" x2="1031" y2="320.98" stroke="#5e5a5a" stroke-width="0.55"/>
<line x1="1022" y1="322.3" x2="1031" y2="322.3" stroke="#5e5a5a" stroke-width="0.55"/>
<line x1="1022" y1="323.62" x2="1031" y2="323.62" stroke="#5e5a5a" stroke-width="0.55"/>
<line x1="1022" y1="324.94" x2="1031" y2="324.94" stroke="#5e5a5a" stroke-width="0.55"/>
<line x1="1027" y1="318.7" x2="1027" y2="325.9" stroke="#d9472b" stroke-width="0.7"/>
<rect x="1021.6" y="313.2" width="3.6" height="2.1" fill="#0a0a0a"/>
<rect x="1021.6" y="338.8" width="3.6" height="2.1" fill="#0a0a0a"/>
<rect x="1023.6" y="350" width="6.8" height="6.2" fill="#fff" stroke="#86d5e2" stroke-width="0.7"/>
<rect x="1025.2" y="351.6" width="3.6" height="3" fill="none" stroke="#86d5e2" stroke-width="0.45"/>
<polyline points="1031.7,358.5 1033.5,360 1031.7,361.5 1033.5,363 1031.7,364.5" fill="none" stroke="#86d5e2" stroke-width="0.45"/>
<polyline points="1020.1,358.5 1021.9,360 1020.1,361.5 1021.9,363 1020.1,364.5" fill="none" stroke="#86d5e2" stroke-width="0.45"/>
<polyline points="1019.7,341.5 1021.5,343 1019.7,344.5 1021.5,346 1019.7,347.5" fill="none" stroke="#86d5e2" stroke-width="0.45"/>
<polyline points="1031.1,459.5 1032.9,461 1031.1,462.5 1032.9,464 1031.1,465.5 1032.9,467" fill="none" stroke="#86d5e2" stroke-width="0.45"/>
<polyline points="1021.5,459.5 1023.3,461 1021.5,462.5 1023.3,464 1021.5,465.5 1023.3,467" fill="none" stroke="#86d5e2" stroke-width="0.45"/>
<polyline points="1019.7,440.5 1021.5,442 1019.7,443.5 1021.5,445 1019.7,446.5" fill="none" stroke="#86d5e2" stroke-width="0.45"/>
<path d="M1026.6 501.4H1040.8M1026.6 514.3H1040.8M1040.8 501.4Q1033.5 503 1031.5 507.8Q1033.5 512.6 1040.8 514.3" fill="none" stroke="#86d5e2" stroke-width="0.5"/>
<path d="M1039 503L1035.4 507.8L1039 512.6" fill="none" stroke="#86d5e2" stroke-width="0.5"/>
<path d="M783 269.3H797.6M783 281.1H797.6M783.4 269.3Q790.4 270.8 792.2 275.2Q790.4 279.6 783.4 281.1" fill="none" stroke="#86d5e2" stroke-width="0.5"/>
<path d="M785 271L788.6 275.2L785 279.4" fill="none" stroke="#86d5e2" stroke-width="0.5"/>
<polyline points="790.7,524 792.5,525.5 790.7,527 792.5,528.5 790.7,530" fill="none" stroke="#86d5e2" stroke-width="0.45"/>
<polyline points="799.9,524 801.7,525.5 799.9,527 801.7,528.5 799.9,530 801.7,531.5 799.9,533" fill="none" stroke="#86d5e2" stroke-width="0.45"/>
<polyline points="802.3,545 804.1,546.5 802.3,548 804.1,549.5 802.3,551" fill="none" stroke="#86d5e2" stroke-width="0.45"/>
<polyline points="796.4,579.5 798.8,581.2 796.4,582.9 798.8,584.6 796.4,586.3 798.8,588 796.4,589.7 798.8,591.4 796.4,593.1 798.8,594.8 796.4,596.5 798.8,598.2 796.4,599.9 798.8,601.6 796.4,603.3 798.8,605 796.4,606.7 798.8,608.4 796.4,610.1 798.8,611.8 796.4,613.5 798.8,615.2 796.4,616.9 798.8,618.6 796.4,620.3 798.8,622" fill="none" stroke="#86d5e2" stroke-width="0.45"/>
<polyline points="802.5,648 804.3,649.5 802.5,651 804.3,652.5 802.5,654 804.3,655.5" fill="none" stroke="#86d5e2" stroke-width="0.45"/>
<polyline points="796.4,668 798.8,669.7 796.4,671.4 798.8,673.1 796.4,674.8 798.8,676.5 796.4,678.2 798.8,679.9 796.4,681.6 798.8,683.3 796.4,685 798.8,686.7 796.4,688.4 798.8,690.1 796.4,691.8 798.8,693.5 796.4,695.2 798.8,696.9 796.4,698.6 798.8,700.3 796.4,702 798.8,703.7 796.4,705.4 798.8,707.1 796.4,708.8 798.8,710.5 796.4,712.2 798.8,713.9 796.4,715.6 798.8,717.3 796.4,719 798.8,720.7 796.4,722.4 798.8,724.1 796.4,725.8" fill="none" stroke="#86d5e2" stroke-width="0.45"/>
<polyline points="1022.3,265 1024.5,266.6 1022.3,268.2 1024.5,269.8 1022.3,271.4 1024.5,273 1022.3,274.6 1024.5,276.2 1022.3,277.8 1024.5,279.4 1022.3,281 1024.5,282.6 1022.3,284.2 1024.5,285.8" fill="none" stroke="#86d5e2" stroke-width="0.45"/>
<path d="M1026.8 268Q1030 269 1030 275Q1030 281 1026.8 282" fill="none" stroke="#86d5e2" stroke-width="0.45"/>
<polyline points="1022.5,524 1024.3,525.5 1022.5,527 1024.3,528.5 1022.5,530 1024.3,531.5" fill="none" stroke="#86d5e2" stroke-width="0.45"/>
<polyline points="1029.7,524 1031.5,525.5 1029.7,527 1031.5,528.5 1029.7,530 1031.5,531.5" fill="none" stroke="#86d5e2" stroke-width="0.45"/>
<polyline points="1022.5,565 1024.3,566.5 1022.5,568 1024.3,569.5 1022.5,571 1024.3,572.5" fill="none" stroke="#86d5e2" stroke-width="0.45"/>
<polyline points="1029.7,565 1031.5,566.5 1029.7,568 1031.5,569.5 1029.7,571 1031.5,572.5" fill="none" stroke="#86d5e2" stroke-width="0.45"/>
<polyline points="1019.5,545 1021.3,546.5 1019.5,548 1021.3,549.5 1019.5,551" fill="none" stroke="#86d5e2" stroke-width="0.45"/>
<rect x="1022.4" y="662.9" width="7" height="3.8" fill="#b9b6b6"/>
<rect x="1030.4" y="645.3" width="8.6" height="13" fill="#9a9797"/>
<line x1="1030.4" y1="646.02" x2="1039" y2="646.02" stroke="#5e5a5a" stroke-width="0.55"/>
<line x1="1030.4" y1="647.47" x2="1039" y2="647.47" stroke="#5e5a5a" stroke-width="0.55"/>
<line x1="1030.4" y1="648.91" x2="1039" y2="648.91" stroke="#5e5a5a" stroke-width="0.55"/>
<line x1="1030.4" y1="650.36" x2="1039" y2="650.36" stroke="#5e5a5a" stroke-width="0.55"/>
<line x1="1030.4" y1="651.8" x2="1039" y2="651.8" stroke="#5e5a5a" stroke-width="0.55"/>
<line x1="1030.4" y1="653.24" x2="1039" y2="653.24" stroke="#5e5a5a" stroke-width="0.55"/>
<line x1="1030.4" y1="654.69" x2="1039" y2="654.69" stroke="#5e5a5a" stroke-width="0.55"/>
<line x1="1030.4" y1="656.13" x2="1039" y2="656.13" stroke="#5e5a5a" stroke-width="0.55"/>
<line x1="1030.4" y1="657.58" x2="1039" y2="657.58" stroke="#5e5a5a" stroke-width="0.55"/>
<line x1="1034.1" y1="645" x2="1034.1" y2="658.6" stroke="#d9472b" stroke-width="0.7"/>
<polyline points="1022.7,628 1024.5,629.5 1022.7,631 1024.5,632.5 1022.7,634 1024.5,635.5" fill="none" stroke="#86d5e2" stroke-width="0.45"/>
<polyline points="1030.3,628 1032.1,629.5 1030.3,631 1032.1,632.5 1030.3,634" fill="none" stroke="#86d5e2" stroke-width="0.45"/>
<polyline points="1019.5,648.5 1021.3,650 1019.5,651.5 1021.3,653 1019.5,654.5" fill="none" stroke="#86d5e2" stroke-width="0.45"/>
<polyline points="1040.5,642 1042.3,643.5 1040.5,645" fill="none" stroke="#86d5e2" stroke-width="0.45"/>
<polyline points="1040.5,658 1042.3,659.5 1040.5,661" fill="none" stroke="#86d5e2" stroke-width="0.45"/>
<polyline points="1025.4,680 1027.8,681.7 1025.4,683.4 1027.8,685.1 1025.4,686.8 1027.8,688.5 1025.4,690.2 1027.8,691.9 1025.4,693.6 1027.8,695.3 1025.4,697 1027.8,698.7 1025.4,700.4 1027.8,702.1 1025.4,703.8 1027.8,705.5 1025.4,707.2 1027.8,708.9 1025.4,710.6 1027.8,712.3 1025.4,714 1027.8,715.7 1025.4,717.4 1027.8,719.1 1025.4,720.8 1027.8,722.5 1025.4,724.2 1027.8,725.9" fill="none" stroke="#86d5e2" stroke-width="0.45"/>
<rect x="793.4" y="209.3" width="4.4" height="2.4" fill="#f58e62"/>
<rect x="794.2" y="209.8" width="2.8" height="1.4" fill="#8e3fa0"/>
<rect x="793.4" y="235.1" width="4.4" height="2.4" fill="#f58e62"/>
<rect x="794.2" y="235.6" width="2.8" height="1.4" fill="#8e3fa0"/>
<rect x="793.2" y="261.2" width="4.4" height="2.4" fill="#f58e62"/>
<rect x="794" y="261.7" width="2.8" height="1.4" fill="#8e3fa0"/>
<rect x="793.2" y="287" width="4.4" height="2.4" fill="#f58e62"/>
<rect x="794" y="287.5" width="2.8" height="1.4" fill="#8e3fa0"/>
<rect x="798.2" y="287" width="4.4" height="2.4" fill="#f58e62"/>
<rect x="799" y="287.5" width="2.8" height="1.4" fill="#8e3fa0"/>
<rect x="793.2" y="308.6" width="4.4" height="2.4" fill="#f58e62"/>
<rect x="794" y="309.1" width="2.8" height="1.4" fill="#8e3fa0"/>
<rect x="787.2" y="338.6" width="4.4" height="2.4" fill="#f58e62"/>
<rect x="788" y="339.1" width="2.8" height="1.4" fill="#8e3fa0"/>
<rect x="793.2" y="367.9" width="4.4" height="2.4" fill="#f58e62"/>
<rect x="794" y="368.4" width="2.8" height="1.4" fill="#8e3fa0"/>
<rect x="798.2" y="364.8" width="4.4" height="2.4" fill="#f58e62"/>
<rect x="799" y="365.3" width="2.8" height="1.4" fill="#8e3fa0"/>
<rect x="793.2" y="390.6" width="4.4" height="2.4" fill="#f58e62"/>
<rect x="794" y="391.1" width="2.8" height="1.4" fill="#8e3fa0"/>
<rect x="798.2" y="390.6" width="4.4" height="2.4" fill="#f58e62"/>
<rect x="799" y="391.1" width="2.8" height="1.4" fill="#8e3fa0"/>
<rect x="793.2" y="414" width="4.4" height="2.4" fill="#f58e62"/>
<rect x="794" y="414.5" width="2.8" height="1.4" fill="#8e3fa0"/>
<rect x="798.2" y="416.6" width="4.4" height="2.4" fill="#f58e62"/>
<rect x="799" y="417.1" width="2.8" height="1.4" fill="#8e3fa0"/>
<rect x="787" y="442.2" width="4.4" height="2.4" fill="#f58e62"/>
<rect x="787.8" y="442.7" width="2.8" height="1.4" fill="#8e3fa0"/>
<rect x="798.2" y="442.2" width="4.4" height="2.4" fill="#f58e62"/>
<rect x="799" y="442.7" width="2.8" height="1.4" fill="#8e3fa0"/>
<rect x="793.2" y="470.7" width="4.4" height="2.4" fill="#f58e62"/>
<rect x="794" y="471.2" width="2.8" height="1.4" fill="#8e3fa0"/>
<rect x="798.2" y="468.2" width="4.4" height="2.4" fill="#f58e62"/>
<rect x="799" y="468.7" width="2.8" height="1.4" fill="#8e3fa0"/>
<rect x="793.2" y="494.2" width="4.4" height="2.4" fill="#f58e62"/>
<rect x="794" y="494.7" width="2.8" height="1.4" fill="#8e3fa0"/>
<rect x="798.2" y="494.2" width="4.4" height="2.4" fill="#f58e62"/>
<rect x="799" y="494.7" width="2.8" height="1.4" fill="#8e3fa0"/>
<rect x="793.2" y="518.6" width="4.4" height="2.4" fill="#f58e62"/>
<rect x="794" y="519.1" width="2.8" height="1.4" fill="#8e3fa0"/>
<rect x="798.2" y="521.1" width="4.4" height="2.4" fill="#f58e62"/>
<rect x="799" y="521.6" width="2.8" height="1.4" fill="#8e3fa0"/>
<rect x="798.1" y="547.3" width="4.4" height="2.4" fill="#f58e62"/>
<rect x="798.9" y="547.8" width="2.8" height="1.4" fill="#8e3fa0"/>
<rect x="798.1" y="573.1" width="4.4" height="2.4" fill="#f58e62"/>
<rect x="798.9" y="573.6" width="2.8" height="1.4" fill="#8e3fa0"/>
<rect x="793.5" y="575.6" width="4.4" height="2.4" fill="#f58e62"/>
<rect x="794.3" y="576.1" width="2.8" height="1.4" fill="#8e3fa0"/>
<rect x="793.5" y="599.1" width="4.4" height="2.4" fill="#f58e62"/>
<rect x="794.3" y="599.6" width="2.8" height="1.4" fill="#8e3fa0"/>
<rect x="798.1" y="599.1" width="4.4" height="2.4" fill="#f58e62"/>
<rect x="798.9" y="599.6" width="2.8" height="1.4" fill="#8e3fa0"/>
<rect x="793.5" y="624.9" width="4.4" height="2.4" fill="#f58e62"/>
<rect x="794.3" y="625.4" width="2.8" height="1.4" fill="#8e3fa0"/>
<rect x="798.1" y="624.9" width="4.4" height="2.4" fill="#f58e62"/>
<rect x="798.9" y="625.4" width="2.8" height="1.4" fill="#8e3fa0"/>
<rect x="798.1" y="650.9" width="4.4" height="2.4" fill="#f58e62"/>
<rect x="798.9" y="651.4" width="2.8" height="1.4" fill="#8e3fa0"/>
<rect x="1021.3" y="287" width="4.4" height="2.4" fill="#f58e62"/>
<rect x="1022.1" y="287.5" width="2.8" height="1.4" fill="#8e3fa0"/>
<rect x="1021.3" y="364.8" width="4.4" height="2.4" fill="#f58e62"/>
<rect x="1022.1" y="365.3" width="2.8" height="1.4" fill="#8e3fa0"/>
<rect x="1021.3" y="390.6" width="4.4" height="2.4" fill="#f58e62"/>
<rect x="1022.1" y="391.1" width="2.8" height="1.4" fill="#8e3fa0"/>
<rect x="1021.3" y="416.6" width="4.4" height="2.4" fill="#f58e62"/>
<rect x="1022.1" y="417.1" width="2.8" height="1.4" fill="#8e3fa0"/>
<rect x="1021.3" y="442.2" width="4.4" height="2.4" fill="#f58e62"/>
<rect x="1022.1" y="442.7" width="2.8" height="1.4" fill="#8e3fa0"/>
<rect x="1021.3" y="468.2" width="4.4" height="2.4" fill="#f58e62"/>
<rect x="1022.1" y="468.7" width="2.8" height="1.4" fill="#8e3fa0"/>
<rect x="1021.3" y="494.2" width="4.4" height="2.4" fill="#f58e62"/>
<rect x="1022.1" y="494.7" width="2.8" height="1.4" fill="#8e3fa0"/>
<rect x="1021.3" y="521.1" width="4.4" height="2.4" fill="#f58e62"/>
<rect x="1022.1" y="521.6" width="2.8" height="1.4" fill="#8e3fa0"/>
<rect x="1021.3" y="547.3" width="4.4" height="2.4" fill="#f58e62"/>
<rect x="1022.1" y="547.8" width="2.8" height="1.4" fill="#8e3fa0"/>
<rect x="1021.3" y="573.1" width="4.4" height="2.4" fill="#f58e62"/>
<rect x="1022.1" y="573.6" width="2.8" height="1.4" fill="#8e3fa0"/>
<rect x="1021.3" y="599.1" width="4.4" height="2.4" fill="#f58e62"/>
<rect x="1022.1" y="599.6" width="2.8" height="1.4" fill="#8e3fa0"/>
<rect x="1021.3" y="624.9" width="4.4" height="2.4" fill="#f58e62"/>
<rect x="1022.1" y="625.4" width="2.8" height="1.4" fill="#8e3fa0"/>
<rect x="1036.2" y="638.5" width="4.4" height="2.4" fill="#f58e62"/>
<rect x="1037" y="639" width="2.8" height="1.4" fill="#8e3fa0"/>
<rect x="1021.3" y="650.9" width="4.4" height="2.4" fill="#f58e62"/>
<rect x="1022.1" y="651.4" width="2.8" height="1.4" fill="#8e3fa0"/>
<rect x="1036.2" y="662.7" width="4.4" height="2.4" fill="#f58e62"/>
<rect x="1037" y="663.2" width="2.8" height="1.4" fill="#8e3fa0"/>
<rect x="1021.3" y="676.7" width="4.4" height="2.4" fill="#f58e62"/>
<rect x="1022.1" y="677.2" width="2.8" height="1.4" fill="#8e3fa0"/>
<rect x="1021.3" y="702.4" width="4.4" height="2.4" fill="#f58e62"/>
<rect x="1022.1" y="702.9" width="2.8" height="1.4" fill="#8e3fa0"/>
<rect x="781" y="535.1" width="2.6" height="2" fill="#f58e62"/>
<rect x="781.8" y="535.6" width="1" height="1" fill="#8e3fa0"/>
<rect x="789.1" y="535.7" width="2.6" height="2" fill="#f58e62"/>
<rect x="789.9" y="536.2" width="1" height="1" fill="#8e3fa0"/>
<rect x="781" y="559.3" width="2.6" height="2" fill="#f58e62"/>
<rect x="781.8" y="559.8" width="1" height="1" fill="#8e3fa0"/>
<rect x="789.1" y="558.9" width="2.6" height="2" fill="#f58e62"/>
<rect x="789.9" y="559.4" width="1" height="1" fill="#8e3fa0"/>
<rect x="793.8" y="676.7" width="4.2" height="2.2" fill="#fff" stroke="#f58e62" stroke-width="0.6"/>
<rect x="799" y="676.85" width="3.2" height="1.9" fill="#f58e62"/>
<rect x="799.8" y="677.35" width="1.6" height="0.9" fill="#8e3fa0"/>
<rect x="793.8" y="702.5" width="4.2" height="2.2" fill="#fff" stroke="#f58e62" stroke-width="0.6"/>
<rect x="799" y="702.65" width="3.2" height="1.9" fill="#f58e62"/>
<rect x="799.8" y="703.15" width="1.6" height="0.9" fill="#8e3fa0"/>
<polyline points="886.5,259.4 888.4,261.8 890.3,259.4 892.2,261.8 894.1,259.4 896,261.8 897.9,259.4 899.8,261.8 901.7,259.4 903.6,261.8 905.5,259.4 907.4,261.8 909.3,259.4 911.2,261.8 913.1,259.4 915,261.8 916.9,259.4 918.8,261.8 920.7,259.4 922.6,261.8 924.5,259.4 926.4,261.8 928.3,259.4 930.2,261.8 932.1,259.4 934,261.8 935.9,259.4" fill="none" stroke="#86d5e2" stroke-width="0.45"/>
<rect x="802.4" y="227.4" width="16.9" height="12.1" fill="#9a9797"/>
<line x1="802.4" y1="228.16" x2="819.3" y2="228.16" stroke="#5e5a5a" stroke-width="0.55"/>
<line x1="802.4" y1="229.67" x2="819.3" y2="229.67" stroke="#5e5a5a" stroke-width="0.55"/>
<line x1="802.4" y1="231.18" x2="819.3" y2="231.18" stroke="#5e5a5a" stroke-width="0.55"/>
<line x1="802.4" y1="232.69" x2="819.3" y2="232.69" stroke="#5e5a5a" stroke-width="0.55"/>
<line x1="802.4" y1="234.21" x2="819.3" y2="234.21" stroke="#5e5a5a" stroke-width="0.55"/>
<line x1="802.4" y1="235.72" x2="819.3" y2="235.72" stroke="#5e5a5a" stroke-width="0.55"/>
<line x1="802.4" y1="237.23" x2="819.3" y2="237.23" stroke="#5e5a5a" stroke-width="0.55"/>
<line x1="802.4" y1="238.74" x2="819.3" y2="238.74" stroke="#5e5a5a" stroke-width="0.55"/>
<line x1="811.1" y1="227.1" x2="811.1" y2="239.8" stroke="#d9472b" stroke-width="0.7"/>
<rect x="864" y="225.3" width="16.9" height="12.6" fill="#9a9797"/>
<line x1="864" y1="226" x2="880.9" y2="226" stroke="#5e5a5a" stroke-width="0.55"/>
<line x1="864" y1="227.4" x2="880.9" y2="227.4" stroke="#5e5a5a" stroke-width="0.55"/>
<line x1="864" y1="228.8" x2="880.9" y2="228.8" stroke="#5e5a5a" stroke-width="0.55"/>
<line x1="864" y1="230.2" x2="880.9" y2="230.2" stroke="#5e5a5a" stroke-width="0.55"/>
<line x1="864" y1="231.6" x2="880.9" y2="231.6" stroke="#5e5a5a" stroke-width="0.55"/>
<line x1="864" y1="233" x2="880.9" y2="233" stroke="#5e5a5a" stroke-width="0.55"/>
<line x1="864" y1="234.4" x2="880.9" y2="234.4" stroke="#5e5a5a" stroke-width="0.55"/>
<line x1="864" y1="235.8" x2="880.9" y2="235.8" stroke="#5e5a5a" stroke-width="0.55"/>
<line x1="864" y1="237.2" x2="880.9" y2="237.2" stroke="#5e5a5a" stroke-width="0.55"/>
<line x1="872.5" y1="225" x2="872.5" y2="238.2" stroke="#d9472b" stroke-width="0.7"/>
<rect x="823.9" y="218.2" width="4.9" height="21.8" fill="#c08ad0"/>
<line x1="824.7" y1="219.04" x2="828" y2="219.04" stroke="#ecd9f2" stroke-width="0.5"/>
<line x1="824.7" y1="220.72" x2="828" y2="220.72" stroke="#ecd9f2" stroke-width="0.5"/>
<line x1="824.7" y1="222.39" x2="828" y2="222.39" stroke="#ecd9f2" stroke-width="0.5"/>
<line x1="824.7" y1="224.07" x2="828" y2="224.07" stroke="#ecd9f2" stroke-width="0.5"/>
<line x1="824.7" y1="225.75" x2="828" y2="225.75" stroke="#ecd9f2" stroke-width="0.5"/>
<line x1="824.7" y1="227.42" x2="828" y2="227.42" stroke="#ecd9f2" stroke-width="0.5"/>
<line x1="824.7" y1="229.1" x2="828" y2="229.1" stroke="#ecd9f2" stroke-width="0.5"/>
<line x1="824.7" y1="230.78" x2="828" y2="230.78" stroke="#ecd9f2" stroke-width="0.5"/>
<line x1="824.7" y1="232.45" x2="828" y2="232.45" stroke="#ecd9f2" stroke-width="0.5"/>
<line x1="824.7" y1="234.13" x2="828" y2="234.13" stroke="#ecd9f2" stroke-width="0.5"/>
<line x1="824.7" y1="235.81" x2="828" y2="235.81" stroke="#ecd9f2" stroke-width="0.5"/>
<line x1="824.7" y1="237.48" x2="828" y2="237.48" stroke="#ecd9f2" stroke-width="0.5"/>
<line x1="824.7" y1="239.16" x2="828" y2="239.16" stroke="#ecd9f2" stroke-width="0.5"/>
<rect x="855.4" y="218.2" width="4.9" height="21.8" fill="#c08ad0"/>
<line x1="856.2" y1="219.04" x2="859.5" y2="219.04" stroke="#ecd9f2" stroke-width="0.5"/>
<line x1="856.2" y1="220.72" x2="859.5" y2="220.72" stroke="#ecd9f2" stroke-width="0.5"/>
<line x1="856.2" y1="222.39" x2="859.5" y2="222.39" stroke="#ecd9f2" stroke-width="0.5"/>
<line x1="856.2" y1="224.07" x2="859.5" y2="224.07" stroke="#ecd9f2" stroke-width="0.5"/>
<line x1="856.2" y1="225.75" x2="859.5" y2="225.75" stroke="#ecd9f2" stroke-width="0.5"/>
<line x1="856.2" y1="227.42" x2="859.5" y2="227.42" stroke="#ecd9f2" stroke-width="0.5"/>
<line x1="856.2" y1="229.1" x2="859.5" y2="229.1" stroke="#ecd9f2" stroke-width="0.5"/>
<line x1="856.2" y1="230.78" x2="859.5" y2="230.78" stroke="#ecd9f2" stroke-width="0.5"/>
<line x1="856.2" y1="232.45" x2="859.5" y2="232.45" stroke="#ecd9f2" stroke-width="0.5"/>
<line x1="856.2" y1="234.13" x2="859.5" y2="234.13" stroke="#ecd9f2" stroke-width="0.5"/>
<line x1="856.2" y1="235.81" x2="859.5" y2="235.81" stroke="#ecd9f2" stroke-width="0.5"/>
<line x1="856.2" y1="237.48" x2="859.5" y2="237.48" stroke="#ecd9f2" stroke-width="0.5"/>
<line x1="856.2" y1="239.16" x2="859.5" y2="239.16" stroke="#ecd9f2" stroke-width="0.5"/>
<rect x="836.4" y="215.3" width="10.5" height="4.9" fill="#c08ad0"/>
<line x1="837.2" y1="216.12" x2="846.1" y2="216.12" stroke="#ecd9f2" stroke-width="0.5"/>
<line x1="837.2" y1="217.75" x2="846.1" y2="217.75" stroke="#ecd9f2" stroke-width="0.5"/>
<line x1="837.2" y1="219.38" x2="846.1" y2="219.38" stroke="#ecd9f2" stroke-width="0.5"/>
<rect x="833.6" y="240" width="16.3" height="2.2" fill="#c08ad0"/>
<line x1="834.41" y1="240.5" x2="834.41" y2="241.7" stroke="#ecd9f2" stroke-width="0.5"/>
<line x1="836.05" y1="240.5" x2="836.05" y2="241.7" stroke="#ecd9f2" stroke-width="0.5"/>
<line x1="837.67" y1="240.5" x2="837.67" y2="241.7" stroke="#ecd9f2" stroke-width="0.5"/>
<line x1="839.31" y1="240.5" x2="839.31" y2="241.7" stroke="#ecd9f2" stroke-width="0.5"/>
<line x1="840.93" y1="240.5" x2="840.93" y2="241.7" stroke="#ecd9f2" stroke-width="0.5"/>
<line x1="842.57" y1="240.5" x2="842.57" y2="241.7" stroke="#ecd9f2" stroke-width="0.5"/>
<line x1="844.19" y1="240.5" x2="844.19" y2="241.7" stroke="#ecd9f2" stroke-width="0.5"/>
<line x1="845.83" y1="240.5" x2="845.83" y2="241.7" stroke="#ecd9f2" stroke-width="0.5"/>
<line x1="847.45" y1="240.5" x2="847.45" y2="241.7" stroke="#ecd9f2" stroke-width="0.5"/>
<line x1="849.09" y1="240.5" x2="849.09" y2="241.7" stroke="#ecd9f2" stroke-width="0.5"/>
<rect x="828.5" y="246.9" width="26.3" height="2.6" fill="#c08ad0"/>
<line x1="829.32" y1="247.4" x2="829.32" y2="249" stroke="#ecd9f2" stroke-width="0.5"/>
<line x1="830.97" y1="247.4" x2="830.97" y2="249" stroke="#ecd9f2" stroke-width="0.5"/>
<line x1="832.61" y1="247.4" x2="832.61" y2="249" stroke="#ecd9f2" stroke-width="0.5"/>
<line x1="834.25" y1="247.4" x2="834.25" y2="249" stroke="#ecd9f2" stroke-width="0.5"/>
<line x1="835.9" y1="247.4" x2="835.9" y2="249" stroke="#ecd9f2" stroke-width="0.5"/>
<line x1="837.54" y1="247.4" x2="837.54" y2="249" stroke="#ecd9f2" stroke-width="0.5"/>
<line x1="839.18" y1="247.4" x2="839.18" y2="249" stroke="#ecd9f2" stroke-width="0.5"/>
<line x1="840.83" y1="247.4" x2="840.83" y2="249" stroke="#ecd9f2" stroke-width="0.5"/>
<line x1="842.47" y1="247.4" x2="842.47" y2="249" stroke="#ecd9f2" stroke-width="0.5"/>
<line x1="844.12" y1="247.4" x2="844.12" y2="249" stroke="#ecd9f2" stroke-width="0.5"/>
<line x1="845.76" y1="247.4" x2="845.76" y2="249" stroke="#ecd9f2" stroke-width="0.5"/>
<line x1="847.4" y1="247.4" x2="847.4" y2="249" stroke="#ecd9f2" stroke-width="0.5"/>
<line x1="849.05" y1="247.4" x2="849.05" y2="249" stroke="#ecd9f2" stroke-width="0.5"/>
<line x1="850.69" y1="247.4" x2="850.69" y2="249" stroke="#ecd9f2" stroke-width="0.5"/>
<line x1="852.33" y1="247.4" x2="852.33" y2="249" stroke="#ecd9f2" stroke-width="0.5"/>
<line x1="853.98" y1="247.4" x2="853.98" y2="249" stroke="#ecd9f2" stroke-width="0.5"/>
<rect x="860.9" y="249.2" width="11.3" height="9.8" fill="#fff" stroke="#86d5e2" stroke-width="0.7"/>
<rect x="862.5" y="250.8" width="8.1" height="6.6" fill="none" stroke="#86d5e2" stroke-width="0.45"/>
<rect x="867.2" y="259.5" width="3.9" height="3.7" fill="#0a0a0a"/>
<rect x="798.9" y="214.75" width="3.2" height="2.5" fill="#fff" stroke="#f58e62" stroke-width="0.6"/>
<rect x="828.4" y="214.75" width="3.2" height="2.5" fill="#fff" stroke="#f58e62" stroke-width="0.6"/>
<rect x="851.6" y="214.75" width="3.2" height="2.5" fill="#fff" stroke="#f58e62" stroke-width="0.6"/>
<rect x="881.6" y="214.75" width="3.2" height="2.5" fill="#fff" stroke="#f58e62" stroke-width="0.6"/>
<rect x="798.9" y="238.25" width="3.2" height="2.5" fill="#fff" stroke="#f58e62" stroke-width="0.6"/>
<rect x="881.6" y="238.25" width="3.2" height="2.5" fill="#fff" stroke="#f58e62" stroke-width="0.6"/>
<rect x="828.8" y="260.95" width="3.2" height="2.5" fill="#fff" stroke="#f58e62" stroke-width="0.6"/>
<rect x="851.6" y="260.95" width="3.2" height="2.5" fill="#fff" stroke="#f58e62" stroke-width="0.6"/>
<rect x="881.6" y="260.95" width="3.2" height="2.5" fill="#fff" stroke="#f58e62" stroke-width="0.6"/>
<polyline points="803,212.8 804.5,215.2 806,212.8 807.5,215.2 809,212.8" fill="none" stroke="#86d5e2" stroke-width="0.45"/>
<polyline points="868,212.8 869.5,215.2 871,212.8 872.5,215.2 874,212.8 875.5,215.2 877,212.8 878.5,215.2 880,212.8" fill="none" stroke="#86d5e2" stroke-width="0.45"/>
<polyline points="797.8,241.5 800.2,243.1 797.8,244.7 800.2,246.3" fill="none" stroke="#86d5e2" stroke-width="0.45"/>
<polyline points="885,241 887.4,242.6 885,244.2 887.4,245.8" fill="none" stroke="#86d5e2" stroke-width="0.45"/>
<polyline points="822,249.4 823.6,252.2 825.2,249.4 826.8,252.2 828.4,249.4" fill="none" stroke="#86d5e2" stroke-width="0.45"/>
<polyline points="874,262.6 875.6,265.4 877.2,262.6 878.8,265.4 880.4,262.6" fill="none" stroke="#86d5e2" stroke-width="0.45"/>
<rect x="1004.7" y="227.4" width="16.9" height="12.1" fill="#9a9797"/>
<line x1="1004.7" y1="228.16" x2="1021.6" y2="228.16" stroke="#5e5a5a" stroke-width="0.55"/>
<line x1="1004.7" y1="229.67" x2="1021.6" y2="229.67" stroke="#5e5a5a" stroke-width="0.55"/>
<line x1="1004.7" y1="231.18" x2="1021.6" y2="231.18" stroke="#5e5a5a" stroke-width="0.55"/>
<line x1="1004.7" y1="232.69" x2="1021.6" y2="232.69" stroke="#5e5a5a" stroke-width="0.55"/>
<line x1="1004.7" y1="234.21" x2="1021.6" y2="234.21" stroke="#5e5a5a" stroke-width="0.55"/>
<line x1="1004.7" y1="235.72" x2="1021.6" y2="235.72" stroke="#5e5a5a" stroke-width="0.55"/>
<line x1="1004.7" y1="237.23" x2="1021.6" y2="237.23" stroke="#5e5a5a" stroke-width="0.55"/>
<line x1="1004.7" y1="238.74" x2="1021.6" y2="238.74" stroke="#5e5a5a" stroke-width="0.55"/>
<line x1="1012.9" y1="227.1" x2="1012.9" y2="239.8" stroke="#d9472b" stroke-width="0.7"/>
<rect x="943.1" y="225.3" width="16.9" height="12.6" fill="#9a9797"/>
<line x1="943.1" y1="226" x2="960" y2="226" stroke="#5e5a5a" stroke-width="0.55"/>
<line x1="943.1" y1="227.4" x2="960" y2="227.4" stroke="#5e5a5a" stroke-width="0.55"/>
<line x1="943.1" y1="228.8" x2="960" y2="228.8" stroke="#5e5a5a" stroke-width="0.55"/>
<line x1="943.1" y1="230.2" x2="960" y2="230.2" stroke="#5e5a5a" stroke-width="0.55"/>
<line x1="943.1" y1="231.6" x2="960" y2="231.6" stroke="#5e5a5a" stroke-width="0.55"/>
<line x1="943.1" y1="233" x2="960" y2="233" stroke="#5e5a5a" stroke-width="0.55"/>
<line x1="943.1" y1="234.4" x2="960" y2="234.4" stroke="#5e5a5a" stroke-width="0.55"/>
<line x1="943.1" y1="235.8" x2="960" y2="235.8" stroke="#5e5a5a" stroke-width="0.55"/>
<line x1="943.1" y1="237.2" x2="960" y2="237.2" stroke="#5e5a5a" stroke-width="0.55"/>
<line x1="951.5" y1="225" x2="951.5" y2="238.2" stroke="#d9472b" stroke-width="0.7"/>
<rect x="995.2" y="218.2" width="4.9" height="21.8" fill="#c08ad0"/>
<line x1="996" y1="219.04" x2="999.3" y2="219.04" stroke="#ecd9f2" stroke-width="0.5"/>
<line x1="996" y1="220.72" x2="999.3" y2="220.72" stroke="#ecd9f2" stroke-width="0.5"/>
<line x1="996" y1="222.39" x2="999.3" y2="222.39" stroke="#ecd9f2" stroke-width="0.5"/>
<line x1="996" y1="224.07" x2="999.3" y2="224.07" stroke="#ecd9f2" stroke-width="0.5"/>
<line x1="996" y1="225.75" x2="999.3" y2="225.75" stroke="#ecd9f2" stroke-width="0.5"/>
<line x1="996" y1="227.42" x2="999.3" y2="227.42" stroke="#ecd9f2" stroke-width="0.5"/>
<line x1="996" y1="229.1" x2="999.3" y2="229.1" stroke="#ecd9f2" stroke-width="0.5"/>
<line x1="996" y1="230.78" x2="999.3" y2="230.78" stroke="#ecd9f2" stroke-width="0.5"/>
<line x1="996" y1="232.45" x2="999.3" y2="232.45" stroke="#ecd9f2" stroke-width="0.5"/>
<line x1="996" y1="234.13" x2="999.3" y2="234.13" stroke="#ecd9f2" stroke-width="0.5"/>
<line x1="996" y1="235.81" x2="999.3" y2="235.81" stroke="#ecd9f2" stroke-width="0.5"/>
<line x1="996" y1="237.48" x2="999.3" y2="237.48" stroke="#ecd9f2" stroke-width="0.5"/>
<line x1="996" y1="239.16" x2="999.3" y2="239.16" stroke="#ecd9f2" stroke-width="0.5"/>
<rect x="963.7" y="218.2" width="4.9" height="21.8" fill="#c08ad0"/>
<line x1="964.5" y1="219.04" x2="967.8" y2="219.04" stroke="#ecd9f2" stroke-width="0.5"/>
<line x1="964.5" y1="220.72" x2="967.8" y2="220.72" stroke="#ecd9f2" stroke-width="0.5"/>
<line x1="964.5" y1="222.39" x2="967.8" y2="222.39" stroke="#ecd9f2" stroke-width="0.5"/>
<line x1="964.5" y1="224.07" x2="967.8" y2="224.07" stroke="#ecd9f2" stroke-width="0.5"/>
<line x1="964.5" y1="225.75" x2="967.8" y2="225.75" stroke="#ecd9f2" stroke-width="0.5"/>
<line x1="964.5" y1="227.42" x2="967.8" y2="227.42" stroke="#ecd9f2" stroke-width="0.5"/>
<line x1="964.5" y1="229.1" x2="967.8" y2="229.1" stroke="#ecd9f2" stroke-width="0.5"/>
<line x1="964.5" y1="230.78" x2="967.8" y2="230.78" stroke="#ecd9f2" stroke-width="0.5"/>
<line x1="964.5" y1="232.45" x2="967.8" y2="232.45" stroke="#ecd9f2" stroke-width="0.5"/>
<line x1="964.5" y1="234.13" x2="967.8" y2="234.13" stroke="#ecd9f2" stroke-width="0.5"/>
<line x1="964.5" y1="235.81" x2="967.8" y2="235.81" stroke="#ecd9f2" stroke-width="0.5"/>
<line x1="964.5" y1="237.48" x2="967.8" y2="237.48" stroke="#ecd9f2" stroke-width="0.5"/>
<line x1="964.5" y1="239.16" x2="967.8" y2="239.16" stroke="#ecd9f2" stroke-width="0.5"/>
<rect x="977.1" y="215.3" width="10.5" height="4.9" fill="#c08ad0"/>
<line x1="977.9" y1="216.12" x2="986.8" y2="216.12" stroke="#ecd9f2" stroke-width="0.5"/>
<line x1="977.9" y1="217.75" x2="986.8" y2="217.75" stroke="#ecd9f2" stroke-width="0.5"/>
<line x1="977.9" y1="219.38" x2="986.8" y2="219.38" stroke="#ecd9f2" stroke-width="0.5"/>
<rect x="974.1" y="240" width="16.3" height="2.2" fill="#c08ad0"/>
<line x1="974.91" y1="240.5" x2="974.91" y2="241.7" stroke="#ecd9f2" stroke-width="0.5"/>
<line x1="976.55" y1="240.5" x2="976.55" y2="241.7" stroke="#ecd9f2" stroke-width="0.5"/>
<line x1="978.17" y1="240.5" x2="978.17" y2="241.7" stroke="#ecd9f2" stroke-width="0.5"/>
<line x1="979.81" y1="240.5" x2="979.81" y2="241.7" stroke="#ecd9f2" stroke-width="0.5"/>
<line x1="981.43" y1="240.5" x2="981.43" y2="241.7" stroke="#ecd9f2" stroke-width="0.5"/>
<line x1="983.07" y1="240.5" x2="983.07" y2="241.7" stroke="#ecd9f2" stroke-width="0.5"/>
<line x1="984.69" y1="240.5" x2="984.69" y2="241.7" stroke="#ecd9f2" stroke-width="0.5"/>
<line x1="986.33" y1="240.5" x2="986.33" y2="241.7" stroke="#ecd9f2" stroke-width="0.5"/>
<line x1="987.95" y1="240.5" x2="987.95" y2="241.7" stroke="#ecd9f2" stroke-width="0.5"/>
<line x1="989.59" y1="240.5" x2="989.59" y2="241.7" stroke="#ecd9f2" stroke-width="0.5"/>
<rect x="969.2" y="246.9" width="26.3" height="2.6" fill="#c08ad0"/>
<line x1="970.02" y1="247.4" x2="970.02" y2="249" stroke="#ecd9f2" stroke-width="0.5"/>
<line x1="971.67" y1="247.4" x2="971.67" y2="249" stroke="#ecd9f2" stroke-width="0.5"/>
<line x1="973.31" y1="247.4" x2="973.31" y2="249" stroke="#ecd9f2" stroke-width="0.5"/>
<line x1="974.95" y1="247.4" x2="974.95" y2="249" stroke="#ecd9f2" stroke-width="0.5"/>
<line x1="976.6" y1="247.4" x2="976.6" y2="249" stroke="#ecd9f2" stroke-width="0.5"/>
<line x1="978.24" y1="247.4" x2="978.24" y2="249" stroke="#ecd9f2" stroke-width="0.5"/>
<line x1="979.88" y1="247.4" x2="979.88" y2="249" stroke="#ecd9f2" stroke-width="0.5"/>
<line x1="981.53" y1="247.4" x2="981.53" y2="249" stroke="#ecd9f2" stroke-width="0.5"/>
<line x1="983.17" y1="247.4" x2="983.17" y2="249" stroke="#ecd9f2" stroke-width="0.5"/>
<line x1="984.82" y1="247.4" x2="984.82" y2="249" stroke="#ecd9f2" stroke-width="0.5"/>
<line x1="986.46" y1="247.4" x2="986.46" y2="249" stroke="#ecd9f2" stroke-width="0.5"/>
<line x1="988.1" y1="247.4" x2="988.1" y2="249" stroke="#ecd9f2" stroke-width="0.5"/>
<line x1="989.75" y1="247.4" x2="989.75" y2="249" stroke="#ecd9f2" stroke-width="0.5"/>
<line x1="991.39" y1="247.4" x2="991.39" y2="249" stroke="#ecd9f2" stroke-width="0.5"/>
<line x1="993.03" y1="247.4" x2="993.03" y2="249" stroke="#ecd9f2" stroke-width="0.5"/>
<line x1="994.68" y1="247.4" x2="994.68" y2="249" stroke="#ecd9f2" stroke-width="0.5"/>
<rect x="951.8" y="249.2" width="11.3" height="9.8" fill="#fff" stroke="#86d5e2" stroke-width="0.7"/>
<rect x="953.4" y="250.8" width="8.1" height="6.6" fill="none" stroke="#86d5e2" stroke-width="0.45"/>
<rect x="952.9" y="259.5" width="3.9" height="3.7" fill="#0a0a0a"/>
<rect x="1021.9" y="214.75" width="3.2" height="2.5" fill="#fff" stroke="#f58e62" stroke-width="0.6"/>
<rect x="992.4" y="214.75" width="3.2" height="2.5" fill="#fff" stroke="#f58e62" stroke-width="0.6"/>
<rect x="969.2" y="214.75" width="3.2" height="2.5" fill="#fff" stroke="#f58e62" stroke-width="0.6"/>
<rect x="939.2" y="214.75" width="3.2" height="2.5" fill="#fff" stroke="#f58e62" stroke-width="0.6"/>
<rect x="1021.9" y="238.25" width="3.2" height="2.5" fill="#fff" stroke="#f58e62" stroke-width="0.6"/>
<rect x="939.2" y="238.25" width="3.2" height="2.5" fill="#fff" stroke="#f58e62" stroke-width="0.6"/>
<rect x="992" y="260.95" width="3.2" height="2.5" fill="#fff" stroke="#f58e62" stroke-width="0.6"/>
<rect x="969.2" y="260.95" width="3.2" height="2.5" fill="#fff" stroke="#f58e62" stroke-width="0.6"/>
<rect x="939.2" y="260.95" width="3.2" height="2.5" fill="#fff" stroke="#f58e62" stroke-width="0.6"/>
<polyline points="1015,212.8 1016.5,215.2 1018,212.8 1019.5,215.2 1021,212.8" fill="none" stroke="#86d5e2" stroke-width="0.45"/>
<polyline points="944,212.8 945.5,215.2 947,212.8 948.5,215.2 950,212.8 951.5,215.2 953,212.8 954.5,215.2 956,212.8" fill="none" stroke="#86d5e2" stroke-width="0.45"/>
<polyline points="1023.8,241.5 1026.2,243.1 1023.8,244.7 1026.2,246.3" fill="none" stroke="#86d5e2" stroke-width="0.45"/>
<polyline points="936.6,241 939,242.6 936.6,244.2 939,245.8" fill="none" stroke="#86d5e2" stroke-width="0.45"/>
<polyline points="995,249.4 996.6,252.2 998.2,249.4 999.8,252.2 1001.4,249.4" fill="none" stroke="#86d5e2" stroke-width="0.45"/>
<polyline points="943,262.6 944.6,265.4 946.2,262.6 947.8,265.4 949.4,262.6" fill="none" stroke="#86d5e2" stroke-width="0.45"/>
<circle cx="821.3" cy="211.1" r="2.3" fill="#0a0a0a"/>
<circle cx="883.2" cy="211.1" r="2.3" fill="#0a0a0a"/>
<circle cx="940.9" cy="211.1" r="2.3" fill="#0a0a0a"/>
<circle cx="1004.3" cy="211.1" r="2.3" fill="#0a0a0a"/>
<circle cx="1029.4" cy="212.1" r="2.3" fill="#0a0a0a"/>
<circle cx="1029.1" cy="262.1" r="2.3" fill="#0a0a0a"/>
<circle cx="1029.1" cy="309.7" r="2.3" fill="#0a0a0a"/>
<polyline points="885.5,730.7 887.4,732.9 889.3,730.7 891.2,732.9 893.1,730.7 895,732.9 896.9,730.7 898.8,732.9 900.7,730.7 902.6,732.9 904.5,730.7 906.4,732.9 908.3,730.7 910.2,732.9 912.1,730.7 914,732.9 915.9,730.7 917.8,732.9 919.7,730.7 921.6,732.9 923.5,730.7 925.4,732.9 927.3,730.7 929.2,732.9 931.1,730.7 933,732.9 934.9,730.7 936.8,732.9" fill="none" stroke="#86d5e2" stroke-width="0.45"/>
<rect x="800.1" y="752.2" width="16.4" height="12.8" fill="#9a9797"/>
<line x1="800.1" y1="752.91" x2="816.5" y2="752.91" stroke="#5e5a5a" stroke-width="0.55"/>
<line x1="800.1" y1="754.33" x2="816.5" y2="754.33" stroke="#5e5a5a" stroke-width="0.55"/>
<line x1="800.1" y1="755.76" x2="816.5" y2="755.76" stroke="#5e5a5a" stroke-width="0.55"/>
<line x1="800.1" y1="757.18" x2="816.5" y2="757.18" stroke="#5e5a5a" stroke-width="0.55"/>
<line x1="800.1" y1="758.6" x2="816.5" y2="758.6" stroke="#5e5a5a" stroke-width="0.55"/>
<line x1="800.1" y1="760.02" x2="816.5" y2="760.02" stroke="#5e5a5a" stroke-width="0.55"/>
<line x1="800.1" y1="761.44" x2="816.5" y2="761.44" stroke="#5e5a5a" stroke-width="0.55"/>
<line x1="800.1" y1="762.87" x2="816.5" y2="762.87" stroke="#5e5a5a" stroke-width="0.55"/>
<line x1="800.1" y1="764.29" x2="816.5" y2="764.29" stroke="#5e5a5a" stroke-width="0.55"/>
<line x1="808.3" y1="751.9" x2="808.3" y2="765.3" stroke="#d9472b" stroke-width="0.7"/>
<rect x="863.4" y="752.2" width="17.4" height="12.8" fill="#9a9797"/>
<line x1="863.4" y1="752.91" x2="880.8" y2="752.91" stroke="#5e5a5a" stroke-width="0.55"/>
<line x1="863.4" y1="754.33" x2="880.8" y2="754.33" stroke="#5e5a5a" stroke-width="0.55"/>
<line x1="863.4" y1="755.76" x2="880.8" y2="755.76" stroke="#5e5a5a" stroke-width="0.55"/>
<line x1="863.4" y1="757.18" x2="880.8" y2="757.18" stroke="#5e5a5a" stroke-width="0.55"/>
<line x1="863.4" y1="758.6" x2="880.8" y2="758.6" stroke="#5e5a5a" stroke-width="0.55"/>
<line x1="863.4" y1="760.02" x2="880.8" y2="760.02" stroke="#5e5a5a" stroke-width="0.55"/>
<line x1="863.4" y1="761.44" x2="880.8" y2="761.44" stroke="#5e5a5a" stroke-width="0.55"/>
<line x1="863.4" y1="762.87" x2="880.8" y2="762.87" stroke="#5e5a5a" stroke-width="0.55"/>
<line x1="863.4" y1="764.29" x2="880.8" y2="764.29" stroke="#5e5a5a" stroke-width="0.55"/>
<line x1="872" y1="751.9" x2="872" y2="765.3" stroke="#d9472b" stroke-width="0.7"/>
<rect x="820.9" y="751.7" width="4.7" height="13.3" fill="#c08ad0"/>
<line x1="821.7" y1="752.53" x2="824.8" y2="752.53" stroke="#ecd9f2" stroke-width="0.5"/>
<line x1="821.7" y1="754.19" x2="824.8" y2="754.19" stroke="#ecd9f2" stroke-width="0.5"/>
<line x1="821.7" y1="755.86" x2="824.8" y2="755.86" stroke="#ecd9f2" stroke-width="0.5"/>
<line x1="821.7" y1="757.52" x2="824.8" y2="757.52" stroke="#ecd9f2" stroke-width="0.5"/>
<line x1="821.7" y1="759.18" x2="824.8" y2="759.18" stroke="#ecd9f2" stroke-width="0.5"/>
<line x1="821.7" y1="760.84" x2="824.8" y2="760.84" stroke="#ecd9f2" stroke-width="0.5"/>
<line x1="821.7" y1="762.51" x2="824.8" y2="762.51" stroke="#ecd9f2" stroke-width="0.5"/>
<line x1="821.7" y1="764.17" x2="824.8" y2="764.17" stroke="#ecd9f2" stroke-width="0.5"/>
<rect x="854.6" y="751.7" width="4.7" height="13.3" fill="#c08ad0"/>
<line x1="855.4" y1="752.53" x2="858.5" y2="752.53" stroke="#ecd9f2" stroke-width="0.5"/>
<line x1="855.4" y1="754.19" x2="858.5" y2="754.19" stroke="#ecd9f2" stroke-width="0.5"/>
<line x1="855.4" y1="755.86" x2="858.5" y2="755.86" stroke="#ecd9f2" stroke-width="0.5"/>
<line x1="855.4" y1="757.52" x2="858.5" y2="757.52" stroke="#ecd9f2" stroke-width="0.5"/>
<line x1="855.4" y1="759.18" x2="858.5" y2="759.18" stroke="#ecd9f2" stroke-width="0.5"/>
<line x1="855.4" y1="760.84" x2="858.5" y2="760.84" stroke="#ecd9f2" stroke-width="0.5"/>
<line x1="855.4" y1="762.51" x2="858.5" y2="762.51" stroke="#ecd9f2" stroke-width="0.5"/>
<line x1="855.4" y1="764.17" x2="858.5" y2="764.17" stroke="#ecd9f2" stroke-width="0.5"/>
<rect x="834.6" y="751.7" width="4.8" height="30.3" fill="#c08ad0"/>
<line x1="835.4" y1="752.54" x2="838.6" y2="752.54" stroke="#ecd9f2" stroke-width="0.5"/>
<line x1="835.4" y1="754.23" x2="838.6" y2="754.23" stroke="#ecd9f2" stroke-width="0.5"/>
<line x1="835.4" y1="755.91" x2="838.6" y2="755.91" stroke="#ecd9f2" stroke-width="0.5"/>
<line x1="835.4" y1="757.59" x2="838.6" y2="757.59" stroke="#ecd9f2" stroke-width="0.5"/>
<line x1="835.4" y1="759.28" x2="838.6" y2="759.28" stroke="#ecd9f2" stroke-width="0.5"/>
<line x1="835.4" y1="760.96" x2="838.6" y2="760.96" stroke="#ecd9f2" stroke-width="0.5"/>
<line x1="835.4" y1="762.64" x2="838.6" y2="762.64" stroke="#ecd9f2" stroke-width="0.5"/>
<line x1="835.4" y1="764.33" x2="838.6" y2="764.33" stroke="#ecd9f2" stroke-width="0.5"/>
<line x1="835.4" y1="766.01" x2="838.6" y2="766.01" stroke="#ecd9f2" stroke-width="0.5"/>
<line x1="835.4" y1="767.69" x2="838.6" y2="767.69" stroke="#ecd9f2" stroke-width="0.5"/>
<line x1="835.4" y1="769.38" x2="838.6" y2="769.38" stroke="#ecd9f2" stroke-width="0.5"/>
<line x1="835.4" y1="771.06" x2="838.6" y2="771.06" stroke="#ecd9f2" stroke-width="0.5"/>
<line x1="835.4" y1="772.74" x2="838.6" y2="772.74" stroke="#ecd9f2" stroke-width="0.5"/>
<line x1="835.4" y1="774.42" x2="838.6" y2="774.42" stroke="#ecd9f2" stroke-width="0.5"/>
<line x1="835.4" y1="776.11" x2="838.6" y2="776.11" stroke="#ecd9f2" stroke-width="0.5"/>
<line x1="835.4" y1="777.79" x2="838.6" y2="777.79" stroke="#ecd9f2" stroke-width="0.5"/>
<line x1="835.4" y1="779.48" x2="838.6" y2="779.48" stroke="#ecd9f2" stroke-width="0.5"/>
<line x1="835.4" y1="781.16" x2="838.6" y2="781.16" stroke="#ecd9f2" stroke-width="0.5"/>
<rect x="840.6" y="751.7" width="4.9" height="30.3" fill="#c08ad0"/>
<line x1="841.4" y1="752.54" x2="844.7" y2="752.54" stroke="#ecd9f2" stroke-width="0.5"/>
<line x1="841.4" y1="754.23" x2="844.7" y2="754.23" stroke="#ecd9f2" stroke-width="0.5"/>
<line x1="841.4" y1="755.91" x2="844.7" y2="755.91" stroke="#ecd9f2" stroke-width="0.5"/>
<line x1="841.4" y1="757.59" x2="844.7" y2="757.59" stroke="#ecd9f2" stroke-width="0.5"/>
<line x1="841.4" y1="759.28" x2="844.7" y2="759.28" stroke="#ecd9f2" stroke-width="0.5"/>
<line x1="841.4" y1="760.96" x2="844.7" y2="760.96" stroke="#ecd9f2" stroke-width="0.5"/>
<line x1="841.4" y1="762.64" x2="844.7" y2="762.64" stroke="#ecd9f2" stroke-width="0.5"/>
<line x1="841.4" y1="764.33" x2="844.7" y2="764.33" stroke="#ecd9f2" stroke-width="0.5"/>
<line x1="841.4" y1="766.01" x2="844.7" y2="766.01" stroke="#ecd9f2" stroke-width="0.5"/>
<line x1="841.4" y1="767.69" x2="844.7" y2="767.69" stroke="#ecd9f2" stroke-width="0.5"/>
<line x1="841.4" y1="769.38" x2="844.7" y2="769.38" stroke="#ecd9f2" stroke-width="0.5"/>
<line x1="841.4" y1="771.06" x2="844.7" y2="771.06" stroke="#ecd9f2" stroke-width="0.5"/>
<line x1="841.4" y1="772.74" x2="844.7" y2="772.74" stroke="#ecd9f2" stroke-width="0.5"/>
<line x1="841.4" y1="774.42" x2="844.7" y2="774.42" stroke="#ecd9f2" stroke-width="0.5"/>
<line x1="841.4" y1="776.11" x2="844.7" y2="776.11" stroke="#ecd9f2" stroke-width="0.5"/>
<line x1="841.4" y1="777.79" x2="844.7" y2="777.79" stroke="#ecd9f2" stroke-width="0.5"/>
<line x1="841.4" y1="779.48" x2="844.7" y2="779.48" stroke="#ecd9f2" stroke-width="0.5"/>
<line x1="841.4" y1="781.16" x2="844.7" y2="781.16" stroke="#ecd9f2" stroke-width="0.5"/>
<rect x="826.6" y="770.5" width="2" height="10.4" fill="#c08ad0"/>
<line x1="827.4" y1="771.37" x2="827.8" y2="771.37" stroke="#ecd9f2" stroke-width="0.5"/>
<line x1="827.4" y1="773.1" x2="827.8" y2="773.1" stroke="#ecd9f2" stroke-width="0.5"/>
<line x1="827.4" y1="774.83" x2="827.8" y2="774.83" stroke="#ecd9f2" stroke-width="0.5"/>
<line x1="827.4" y1="776.57" x2="827.8" y2="776.57" stroke="#ecd9f2" stroke-width="0.5"/>
<line x1="827.4" y1="778.3" x2="827.8" y2="778.3" stroke="#ecd9f2" stroke-width="0.5"/>
<line x1="827.4" y1="780.03" x2="827.8" y2="780.03" stroke="#ecd9f2" stroke-width="0.5"/>
<rect x="851.6" y="770.5" width="2" height="10.4" fill="#c08ad0"/>
<line x1="852.4" y1="771.37" x2="852.8" y2="771.37" stroke="#ecd9f2" stroke-width="0.5"/>
<line x1="852.4" y1="773.1" x2="852.8" y2="773.1" stroke="#ecd9f2" stroke-width="0.5"/>
<line x1="852.4" y1="774.83" x2="852.8" y2="774.83" stroke="#ecd9f2" stroke-width="0.5"/>
<line x1="852.4" y1="776.57" x2="852.8" y2="776.57" stroke="#ecd9f2" stroke-width="0.5"/>
<line x1="852.4" y1="778.3" x2="852.8" y2="778.3" stroke="#ecd9f2" stroke-width="0.5"/>
<line x1="852.4" y1="780.03" x2="852.8" y2="780.03" stroke="#ecd9f2" stroke-width="0.5"/>
<rect x="828.6" y="741.8" width="23.8" height="1.9" fill="#c08ad0"/>
<line x1="829.45" y1="742.3" x2="829.45" y2="743.2" stroke="#ecd9f2" stroke-width="0.5"/>
<line x1="831.15" y1="742.3" x2="831.15" y2="743.2" stroke="#ecd9f2" stroke-width="0.5"/>
<line x1="832.85" y1="742.3" x2="832.85" y2="743.2" stroke="#ecd9f2" stroke-width="0.5"/>
<line x1="834.55" y1="742.3" x2="834.55" y2="743.2" stroke="#ecd9f2" stroke-width="0.5"/>
<line x1="836.25" y1="742.3" x2="836.25" y2="743.2" stroke="#ecd9f2" stroke-width="0.5"/>
<line x1="837.95" y1="742.3" x2="837.95" y2="743.2" stroke="#ecd9f2" stroke-width="0.5"/>
<line x1="839.65" y1="742.3" x2="839.65" y2="743.2" stroke="#ecd9f2" stroke-width="0.5"/>
<line x1="841.35" y1="742.3" x2="841.35" y2="743.2" stroke="#ecd9f2" stroke-width="0.5"/>
<line x1="843.05" y1="742.3" x2="843.05" y2="743.2" stroke="#ecd9f2" stroke-width="0.5"/>
<line x1="844.75" y1="742.3" x2="844.75" y2="743.2" stroke="#ecd9f2" stroke-width="0.5"/>
<line x1="846.45" y1="742.3" x2="846.45" y2="743.2" stroke="#ecd9f2" stroke-width="0.5"/>
<line x1="848.15" y1="742.3" x2="848.15" y2="743.2" stroke="#ecd9f2" stroke-width="0.5"/>
<line x1="849.85" y1="742.3" x2="849.85" y2="743.2" stroke="#ecd9f2" stroke-width="0.5"/>
<line x1="851.55" y1="742.3" x2="851.55" y2="743.2" stroke="#ecd9f2" stroke-width="0.5"/>
<rect x="831.6" y="748.7" width="17.8" height="2.5" fill="#c08ad0"/>
<line x1="832.41" y1="749.2" x2="832.41" y2="750.7" stroke="#ecd9f2" stroke-width="0.5"/>
<line x1="834.03" y1="749.2" x2="834.03" y2="750.7" stroke="#ecd9f2" stroke-width="0.5"/>
<line x1="835.65" y1="749.2" x2="835.65" y2="750.7" stroke="#ecd9f2" stroke-width="0.5"/>
<line x1="837.26" y1="749.2" x2="837.26" y2="750.7" stroke="#ecd9f2" stroke-width="0.5"/>
<line x1="838.88" y1="749.2" x2="838.88" y2="750.7" stroke="#ecd9f2" stroke-width="0.5"/>
<line x1="840.5" y1="749.2" x2="840.5" y2="750.7" stroke="#ecd9f2" stroke-width="0.5"/>
<line x1="842.12" y1="749.2" x2="842.12" y2="750.7" stroke="#ecd9f2" stroke-width="0.5"/>
<line x1="843.74" y1="749.2" x2="843.74" y2="750.7" stroke="#ecd9f2" stroke-width="0.5"/>
<line x1="845.35" y1="749.2" x2="845.35" y2="750.7" stroke="#ecd9f2" stroke-width="0.5"/>
<line x1="846.97" y1="749.2" x2="846.97" y2="750.7" stroke="#ecd9f2" stroke-width="0.5"/>
<line x1="848.59" y1="749.2" x2="848.59" y2="750.7" stroke="#ecd9f2" stroke-width="0.5"/>
<rect x="799.9" y="774.5" width="7.9" height="6.9" fill="#fff" stroke="#86d5e2" stroke-width="0.7"/>
<rect x="801.5" y="776.1" width="4.7" height="3.7" fill="none" stroke="#86d5e2" stroke-width="0.45"/>
<rect x="860.5" y="731.8" width="11.3" height="10.5" fill="#fff" stroke="#86d5e2" stroke-width="0.7"/>
<rect x="862.1" y="733.4" width="8.1" height="7.3" fill="none" stroke="#86d5e2" stroke-width="0.45"/>
<rect x="866.9" y="727.4" width="4.2" height="4.3" fill="#0a0a0a"/>
<rect x="795.4" y="728.6" width="5" height="2.2" fill="#fff" stroke="#f58e62" stroke-width="0.6"/>
<rect x="795.4" y="751.4" width="5" height="2.2" fill="#fff" stroke="#f58e62" stroke-width="0.6"/>
<rect x="795.4" y="780.1" width="5" height="2.2" fill="#fff" stroke="#f58e62" stroke-width="0.6"/>
<rect x="880.35" y="728.35" width="4.5" height="2.5" fill="#fff" stroke="#f58e62" stroke-width="0.6"/>
<rect x="880.35" y="751.25" width="4.5" height="2.5" fill="#fff" stroke="#f58e62" stroke-width="0.6"/>
<rect x="880.35" y="779.95" width="4.5" height="2.5" fill="#fff" stroke="#f58e62" stroke-width="0.6"/>
<rect x="825.5" y="728.3" width="3.2" height="3.2" fill="#fff" stroke="#f58e62" stroke-width="0.6"/>
<rect x="851.8" y="728.3" width="3.2" height="3.2" fill="#fff" stroke="#f58e62" stroke-width="0.6"/>
<rect x="825.5" y="779.3" width="3.2" height="3.2" fill="#fff" stroke="#f58e62" stroke-width="0.6"/>
<rect x="851.8" y="779.3" width="3.2" height="3.2" fill="#fff" stroke="#f58e62" stroke-width="0.6"/>
<polyline points="792.4,732 795.6,733.7 792.4,735.4 795.6,737.1 792.4,738.8 795.6,740.5" fill="none" stroke="#86d5e2" stroke-width="0.45"/>
<polyline points="792.4,743.5 795.6,745.2 792.4,746.9 795.6,748.6 792.4,750.3" fill="none" stroke="#86d5e2" stroke-width="0.45"/>
<polyline points="884.4,740.5 887.6,742.2 884.4,743.9 887.6,745.6 884.4,747.3 887.6,749 884.4,750.7" fill="none" stroke="#86d5e2" stroke-width="0.45"/>
<polyline points="873,727.4 874.7,730.6 876.4,727.4 878.1,730.6 879.8,727.4" fill="none" stroke="#86d5e2" stroke-width="0.45"/>
<polyline points="811,782.6 812.7,785.4 814.4,782.6 816.1,785.4 817.8,782.6 819.5,785.4" fill="none" stroke="#86d5e2" stroke-width="0.45"/>
<polyline points="864,782.6 865.7,785.4 867.4,782.6 869.1,785.4 870.8,782.6 872.5,785.4 874.2,782.6 875.9,785.4 877.6,782.6 879.3,785.4" fill="none" stroke="#86d5e2" stroke-width="0.45"/>
<polyline points="864,773.8 865.7,776.2 867.4,773.8 869.1,776.2 870.8,773.8 872.5,776.2 874.2,773.8 875.9,776.2 877.6,773.8 879.3,776.2" fill="none" stroke="#86d5e2" stroke-width="0.45"/>
<polyline points="807.2,744 810,745.7 807.2,747.4 810,749.1 807.2,750.8" fill="none" stroke="#86d5e2" stroke-width="0.45"/>
<polyline points="873.6,744 876.4,745.7 873.6,747.4 876.4,749.1 873.6,750.8" fill="none" stroke="#86d5e2" stroke-width="0.45"/>
<polyline points="809.6,766.5 812.4,768.2 809.6,769.9 812.4,771.6" fill="none" stroke="#86d5e2" stroke-width="0.45"/>
<rect x="1007.8" y="752.2" width="16.4" height="12.8" fill="#9a9797"/>
<line x1="1007.8" y1="752.91" x2="1024.2" y2="752.91" stroke="#5e5a5a" stroke-width="0.55"/>
<line x1="1007.8" y1="754.33" x2="1024.2" y2="754.33" stroke="#5e5a5a" stroke-width="0.55"/>
<line x1="1007.8" y1="755.76" x2="1024.2" y2="755.76" stroke="#5e5a5a" stroke-width="0.55"/>
<line x1="1007.8" y1="757.18" x2="1024.2" y2="757.18" stroke="#5e5a5a" stroke-width="0.55"/>
<line x1="1007.8" y1="758.6" x2="1024.2" y2="758.6" stroke="#5e5a5a" stroke-width="0.55"/>
<line x1="1007.8" y1="760.02" x2="1024.2" y2="760.02" stroke="#5e5a5a" stroke-width="0.55"/>
<line x1="1007.8" y1="761.44" x2="1024.2" y2="761.44" stroke="#5e5a5a" stroke-width="0.55"/>
<line x1="1007.8" y1="762.87" x2="1024.2" y2="762.87" stroke="#5e5a5a" stroke-width="0.55"/>
<line x1="1007.8" y1="764.29" x2="1024.2" y2="764.29" stroke="#5e5a5a" stroke-width="0.55"/>
<line x1="1016" y1="751.9" x2="1016" y2="765.3" stroke="#d9472b" stroke-width="0.7"/>
<rect x="943.5" y="752.2" width="17.4" height="12.8" fill="#9a9797"/>
<line x1="943.5" y1="752.91" x2="960.9" y2="752.91" stroke="#5e5a5a" stroke-width="0.55"/>
<line x1="943.5" y1="754.33" x2="960.9" y2="754.33" stroke="#5e5a5a" stroke-width="0.55"/>
<line x1="943.5" y1="755.76" x2="960.9" y2="755.76" stroke="#5e5a5a" stroke-width="0.55"/>
<line x1="943.5" y1="757.18" x2="960.9" y2="757.18" stroke="#5e5a5a" stroke-width="0.55"/>
<line x1="943.5" y1="758.6" x2="960.9" y2="758.6" stroke="#5e5a5a" stroke-width="0.55"/>
<line x1="943.5" y1="760.02" x2="960.9" y2="760.02" stroke="#5e5a5a" stroke-width="0.55"/>
<line x1="943.5" y1="761.44" x2="960.9" y2="761.44" stroke="#5e5a5a" stroke-width="0.55"/>
<line x1="943.5" y1="762.87" x2="960.9" y2="762.87" stroke="#5e5a5a" stroke-width="0.55"/>
<line x1="943.5" y1="764.29" x2="960.9" y2="764.29" stroke="#5e5a5a" stroke-width="0.55"/>
<line x1="952.3" y1="751.9" x2="952.3" y2="765.3" stroke="#d9472b" stroke-width="0.7"/>
<rect x="998.7" y="751.7" width="4.7" height="13.3" fill="#c08ad0"/>
<line x1="999.5" y1="752.53" x2="1002.6" y2="752.53" stroke="#ecd9f2" stroke-width="0.5"/>
<line x1="999.5" y1="754.19" x2="1002.6" y2="754.19" stroke="#ecd9f2" stroke-width="0.5"/>
<line x1="999.5" y1="755.86" x2="1002.6" y2="755.86" stroke="#ecd9f2" stroke-width="0.5"/>
<line x1="999.5" y1="757.52" x2="1002.6" y2="757.52" stroke="#ecd9f2" stroke-width="0.5"/>
<line x1="999.5" y1="759.18" x2="1002.6" y2="759.18" stroke="#ecd9f2" stroke-width="0.5"/>
<line x1="999.5" y1="760.84" x2="1002.6" y2="760.84" stroke="#ecd9f2" stroke-width="0.5"/>
<line x1="999.5" y1="762.51" x2="1002.6" y2="762.51" stroke="#ecd9f2" stroke-width="0.5"/>
<line x1="999.5" y1="764.17" x2="1002.6" y2="764.17" stroke="#ecd9f2" stroke-width="0.5"/>
<rect x="965" y="751.7" width="4.7" height="13.3" fill="#c08ad0"/>
<line x1="965.8" y1="752.53" x2="968.9" y2="752.53" stroke="#ecd9f2" stroke-width="0.5"/>
<line x1="965.8" y1="754.19" x2="968.9" y2="754.19" stroke="#ecd9f2" stroke-width="0.5"/>
<line x1="965.8" y1="755.86" x2="968.9" y2="755.86" stroke="#ecd9f2" stroke-width="0.5"/>
<line x1="965.8" y1="757.52" x2="968.9" y2="757.52" stroke="#ecd9f2" stroke-width="0.5"/>
<line x1="965.8" y1="759.18" x2="968.9" y2="759.18" stroke="#ecd9f2" stroke-width="0.5"/>
<line x1="965.8" y1="760.84" x2="968.9" y2="760.84" stroke="#ecd9f2" stroke-width="0.5"/>
<line x1="965.8" y1="762.51" x2="968.9" y2="762.51" stroke="#ecd9f2" stroke-width="0.5"/>
<line x1="965.8" y1="764.17" x2="968.9" y2="764.17" stroke="#ecd9f2" stroke-width="0.5"/>
<rect x="984.9" y="751.7" width="4.8" height="30.3" fill="#c08ad0"/>
<line x1="985.7" y1="752.54" x2="988.9" y2="752.54" stroke="#ecd9f2" stroke-width="0.5"/>
<line x1="985.7" y1="754.23" x2="988.9" y2="754.23" stroke="#ecd9f2" stroke-width="0.5"/>
<line x1="985.7" y1="755.91" x2="988.9" y2="755.91" stroke="#ecd9f2" stroke-width="0.5"/>
<line x1="985.7" y1="757.59" x2="988.9" y2="757.59" stroke="#ecd9f2" stroke-width="0.5"/>
<line x1="985.7" y1="759.28" x2="988.9" y2="759.28" stroke="#ecd9f2" stroke-width="0.5"/>
<line x1="985.7" y1="760.96" x2="988.9" y2="760.96" stroke="#ecd9f2" stroke-width="0.5"/>
<line x1="985.7" y1="762.64" x2="988.9" y2="762.64" stroke="#ecd9f2" stroke-width="0.5"/>
<line x1="985.7" y1="764.33" x2="988.9" y2="764.33" stroke="#ecd9f2" stroke-width="0.5"/>
<line x1="985.7" y1="766.01" x2="988.9" y2="766.01" stroke="#ecd9f2" stroke-width="0.5"/>
<line x1="985.7" y1="767.69" x2="988.9" y2="767.69" stroke="#ecd9f2" stroke-width="0.5"/>
<line x1="985.7" y1="769.38" x2="988.9" y2="769.38" stroke="#ecd9f2" stroke-width="0.5"/>
<line x1="985.7" y1="771.06" x2="988.9" y2="771.06" stroke="#ecd9f2" stroke-width="0.5"/>
<line x1="985.7" y1="772.74" x2="988.9" y2="772.74" stroke="#ecd9f2" stroke-width="0.5"/>
<line x1="985.7" y1="774.42" x2="988.9" y2="774.42" stroke="#ecd9f2" stroke-width="0.5"/>
<line x1="985.7" y1="776.11" x2="988.9" y2="776.11" stroke="#ecd9f2" stroke-width="0.5"/>
<line x1="985.7" y1="777.79" x2="988.9" y2="777.79" stroke="#ecd9f2" stroke-width="0.5"/>
<line x1="985.7" y1="779.48" x2="988.9" y2="779.48" stroke="#ecd9f2" stroke-width="0.5"/>
<line x1="985.7" y1="781.16" x2="988.9" y2="781.16" stroke="#ecd9f2" stroke-width="0.5"/>
<rect x="978.8" y="751.7" width="4.9" height="30.3" fill="#c08ad0"/>
<line x1="979.6" y1="752.54" x2="982.9" y2="752.54" stroke="#ecd9f2" stroke-width="0.5"/>
<line x1="979.6" y1="754.23" x2="982.9" y2="754.23" stroke="#ecd9f2" stroke-width="0.5"/>
<line x1="979.6" y1="755.91" x2="982.9" y2="755.91" stroke="#ecd9f2" stroke-width="0.5"/>
<line x1="979.6" y1="757.59" x2="982.9" y2="757.59" stroke="#ecd9f2" stroke-width="0.5"/>
<line x1="979.6" y1="759.28" x2="982.9" y2="759.28" stroke="#ecd9f2" stroke-width="0.5"/>
<line x1="979.6" y1="760.96" x2="982.9" y2="760.96" stroke="#ecd9f2" stroke-width="0.5"/>
<line x1="979.6" y1="762.64" x2="982.9" y2="762.64" stroke="#ecd9f2" stroke-width="0.5"/>
<line x1="979.6" y1="764.33" x2="982.9" y2="764.33" stroke="#ecd9f2" stroke-width="0.5"/>
<line x1="979.6" y1="766.01" x2="982.9" y2="766.01" stroke="#ecd9f2" stroke-width="0.5"/>
<line x1="979.6" y1="767.69" x2="982.9" y2="767.69" stroke="#ecd9f2" stroke-width="0.5"/>
<line x1="979.6" y1="769.38" x2="982.9" y2="769.38" stroke="#ecd9f2" stroke-width="0.5"/>
<line x1="979.6" y1="771.06" x2="982.9" y2="771.06" stroke="#ecd9f2" stroke-width="0.5"/>
<line x1="979.6" y1="772.74" x2="982.9" y2="772.74" stroke="#ecd9f2" stroke-width="0.5"/>
<line x1="979.6" y1="774.42" x2="982.9" y2="774.42" stroke="#ecd9f2" stroke-width="0.5"/>
<line x1="979.6" y1="776.11" x2="982.9" y2="776.11" stroke="#ecd9f2" stroke-width="0.5"/>
<line x1="979.6" y1="777.79" x2="982.9" y2="777.79" stroke="#ecd9f2" stroke-width="0.5"/>
<line x1="979.6" y1="779.48" x2="982.9" y2="779.48" stroke="#ecd9f2" stroke-width="0.5"/>
<line x1="979.6" y1="781.16" x2="982.9" y2="781.16" stroke="#ecd9f2" stroke-width="0.5"/>
<rect x="995.7" y="770.5" width="2" height="10.4" fill="#c08ad0"/>
<line x1="996.5" y1="771.37" x2="996.9" y2="771.37" stroke="#ecd9f2" stroke-width="0.5"/>
<line x1="996.5" y1="773.1" x2="996.9" y2="773.1" stroke="#ecd9f2" stroke-width="0.5"/>
<line x1="996.5" y1="774.83" x2="996.9" y2="774.83" stroke="#ecd9f2" stroke-width="0.5"/>
<line x1="996.5" y1="776.57" x2="996.9" y2="776.57" stroke="#ecd9f2" stroke-width="0.5"/>
<line x1="996.5" y1="778.3" x2="996.9" y2="778.3" stroke="#ecd9f2" stroke-width="0.5"/>
<line x1="996.5" y1="780.03" x2="996.9" y2="780.03" stroke="#ecd9f2" stroke-width="0.5"/>
<rect x="970.7" y="770.5" width="2" height="10.4" fill="#c08ad0"/>
<line x1="971.5" y1="771.37" x2="971.9" y2="771.37" stroke="#ecd9f2" stroke-width="0.5"/>
<line x1="971.5" y1="773.1" x2="971.9" y2="773.1" stroke="#ecd9f2" stroke-width="0.5"/>
<line x1="971.5" y1="774.83" x2="971.9" y2="774.83" stroke="#ecd9f2" stroke-width="0.5"/>
<line x1="971.5" y1="776.57" x2="971.9" y2="776.57" stroke="#ecd9f2" stroke-width="0.5"/>
<line x1="971.5" y1="778.3" x2="971.9" y2="778.3" stroke="#ecd9f2" stroke-width="0.5"/>
<line x1="971.5" y1="780.03" x2="971.9" y2="780.03" stroke="#ecd9f2" stroke-width="0.5"/>
<rect x="971.9" y="741.8" width="23.8" height="1.9" fill="#c08ad0"/>
<line x1="972.75" y1="742.3" x2="972.75" y2="743.2" stroke="#ecd9f2" stroke-width="0.5"/>
<line x1="974.45" y1="742.3" x2="974.45" y2="743.2" stroke="#ecd9f2" stroke-width="0.5"/>
<line x1="976.15" y1="742.3" x2="976.15" y2="743.2" stroke="#ecd9f2" stroke-width="0.5"/>
<line x1="977.85" y1="742.3" x2="977.85" y2="743.2" stroke="#ecd9f2" stroke-width="0.5"/>
<line x1="979.55" y1="742.3" x2="979.55" y2="743.2" stroke="#ecd9f2" stroke-width="0.5"/>
<line x1="981.25" y1="742.3" x2="981.25" y2="743.2" stroke="#ecd9f2" stroke-width="0.5"/>
<line x1="982.95" y1="742.3" x2="982.95" y2="743.2" stroke="#ecd9f2" stroke-width="0.5"/>
<line x1="984.65" y1="742.3" x2="984.65" y2="743.2" stroke="#ecd9f2" stroke-width="0.5"/>
<line x1="986.35" y1="742.3" x2="986.35" y2="743.2" stroke="#ecd9f2" stroke-width="0.5"/>
<line x1="988.05" y1="742.3" x2="988.05" y2="743.2" stroke="#ecd9f2" stroke-width="0.5"/>
<line x1="989.75" y1="742.3" x2="989.75" y2="743.2" stroke="#ecd9f2" stroke-width="0.5"/>
<line x1="991.45" y1="742.3" x2="991.45" y2="743.2" stroke="#ecd9f2" stroke-width="0.5"/>
<line x1="993.15" y1="742.3" x2="993.15" y2="743.2" stroke="#ecd9f2" stroke-width="0.5"/>
<line x1="994.85" y1="742.3" x2="994.85" y2="743.2" stroke="#ecd9f2" stroke-width="0.5"/>
<rect x="974.9" y="748.7" width="17.8" height="2.5" fill="#c08ad0"/>
<line x1="975.71" y1="749.2" x2="975.71" y2="750.7" stroke="#ecd9f2" stroke-width="0.5"/>
<line x1="977.33" y1="749.2" x2="977.33" y2="750.7" stroke="#ecd9f2" stroke-width="0.5"/>
<line x1="978.95" y1="749.2" x2="978.95" y2="750.7" stroke="#ecd9f2" stroke-width="0.5"/>
<line x1="980.56" y1="749.2" x2="980.56" y2="750.7" stroke="#ecd9f2" stroke-width="0.5"/>
<line x1="982.18" y1="749.2" x2="982.18" y2="750.7" stroke="#ecd9f2" stroke-width="0.5"/>
<line x1="983.8" y1="749.2" x2="983.8" y2="750.7" stroke="#ecd9f2" stroke-width="0.5"/>
<line x1="985.42" y1="749.2" x2="985.42" y2="750.7" stroke="#ecd9f2" stroke-width="0.5"/>
<line x1="987.04" y1="749.2" x2="987.04" y2="750.7" stroke="#ecd9f2" stroke-width="0.5"/>
<line x1="988.65" y1="749.2" x2="988.65" y2="750.7" stroke="#ecd9f2" stroke-width="0.5"/>
<line x1="990.27" y1="749.2" x2="990.27" y2="750.7" stroke="#ecd9f2" stroke-width="0.5"/>
<line x1="991.89" y1="749.2" x2="991.89" y2="750.7" stroke="#ecd9f2" stroke-width="0.5"/>
<rect x="1016.5" y="774.5" width="7.9" height="6.9" fill="#fff" stroke="#86d5e2" stroke-width="0.7"/>
<rect x="1018.1" y="776.1" width="4.7" height="3.7" fill="none" stroke="#86d5e2" stroke-width="0.45"/>
<rect x="952.5" y="731.8" width="11.3" height="10.5" fill="#fff" stroke="#86d5e2" stroke-width="0.7"/>
<rect x="954.1" y="733.4" width="8.1" height="7.3" fill="none" stroke="#86d5e2" stroke-width="0.45"/>
<rect x="953.2" y="727.4" width="4.2" height="4.3" fill="#0a0a0a"/>
<rect x="1023.9" y="728.6" width="5" height="2.2" fill="#fff" stroke="#f58e62" stroke-width="0.6"/>
<rect x="1023.9" y="751.4" width="5" height="2.2" fill="#fff" stroke="#f58e62" stroke-width="0.6"/>
<rect x="1023.9" y="780.1" width="5" height="2.2" fill="#fff" stroke="#f58e62" stroke-width="0.6"/>
<rect x="939.45" y="728.35" width="4.5" height="2.5" fill="#fff" stroke="#f58e62" stroke-width="0.6"/>
<rect x="939.45" y="751.25" width="4.5" height="2.5" fill="#fff" stroke="#f58e62" stroke-width="0.6"/>
<rect x="939.45" y="779.95" width="4.5" height="2.5" fill="#fff" stroke="#f58e62" stroke-width="0.6"/>
<rect x="995.6" y="728.3" width="3.2" height="3.2" fill="#fff" stroke="#f58e62" stroke-width="0.6"/>
<rect x="969.3" y="728.3" width="3.2" height="3.2" fill="#fff" stroke="#f58e62" stroke-width="0.6"/>
<rect x="995.6" y="779.3" width="3.2" height="3.2" fill="#fff" stroke="#f58e62" stroke-width="0.6"/>
<rect x="969.3" y="779.3" width="3.2" height="3.2" fill="#fff" stroke="#f58e62" stroke-width="0.6"/>
<polyline points="1028.7,732 1031.9,733.7 1028.7,735.4 1031.9,737.1 1028.7,738.8 1031.9,740.5" fill="none" stroke="#86d5e2" stroke-width="0.45"/>
<polyline points="1028.7,743.5 1031.9,745.2 1028.7,746.9 1031.9,748.6 1028.7,750.3" fill="none" stroke="#86d5e2" stroke-width="0.45"/>
<polyline points="936.7,740.5 939.9,742.2 936.7,743.9 939.9,745.6 936.7,747.3 939.9,749 936.7,750.7" fill="none" stroke="#86d5e2" stroke-width="0.45"/>
<polyline points="943.3,727.4 945,730.6 946.7,727.4 948.4,730.6 950.1,727.4" fill="none" stroke="#86d5e2" stroke-width="0.45"/>
<polyline points="1004.3,782.6 1006,785.4 1007.7,782.6 1009.4,785.4 1011.1,782.6 1012.8,785.4" fill="none" stroke="#86d5e2" stroke-width="0.45"/>
<polyline points="944.3,782.6 946,785.4 947.7,782.6 949.4,785.4 951.1,782.6 952.8,785.4 954.5,782.6 956.2,785.4 957.9,782.6 959.6,785.4" fill="none" stroke="#86d5e2" stroke-width="0.45"/>
<polyline points="944.3,773.8 946,776.2 947.7,773.8 949.4,776.2 951.1,773.8 952.8,776.2 954.5,773.8 956.2,776.2 957.9,773.8 959.6,776.2" fill="none" stroke="#86d5e2" stroke-width="0.45"/>
<polyline points="1014.3,744 1017.1,745.7 1014.3,747.4 1017.1,749.1 1014.3,750.8" fill="none" stroke="#86d5e2" stroke-width="0.45"/>
<polyline points="947.9,744 950.7,745.7 947.9,747.4 950.7,749.1 947.9,750.8" fill="none" stroke="#86d5e2" stroke-width="0.45"/>
<polyline points="1011.9,766.5 1014.7,768.2 1011.9,769.9 1014.7,771.6" fill="none" stroke="#86d5e2" stroke-width="0.45"/>
</g>
<g id="pins">
<ellipse cx="841.9" cy="245.4" rx="9.6" ry="1.6" fill="none" stroke="#f7a21b" stroke-width="0.35"/><ellipse cx="841.9" cy="245.2" rx="7.4" ry="1.15" fill="#f0901e"/><path d="M841.9 244.2 L834.57 233.17 A8.8 8.8 0 0 1 841.9 219.5 Z" fill="#dc3139"/><path d="M841.9 244.2 L849.23 233.17 A8.8 8.8 0 0 0 841.9 219.5 Z" fill="#a4262c"/><circle cx="841.9" cy="227.7" r="5.28" fill="#fff"/><circle cx="839.7" cy="224.9" r="0.75" fill="#3fa9f5"/><path d="M838.6 225.9 h2.2 l0.4 2.6 h-0.8 v2.6 h-1.4 v-2.6 h-0.8 z" fill="#3fa9f5"/><circle cx="844.1" cy="224.9" r="0.75" fill="#f0504a"/><path d="M843.4 225.9 h1.4 l1.1 3.4 h-1.2 v1.8 h-1.2 v-1.8 h-1.2 z" fill="#f0504a"/><rect x="841.73" y="224.2" width="0.35" height="7" fill="#c9c9c9"/>
<ellipse cx="982.2" cy="245.4" rx="9.6" ry="1.6" fill="none" stroke="#f7a21b" stroke-width="0.35"/><ellipse cx="982.2" cy="245.2" rx="7.4" ry="1.15" fill="#f0901e"/><path d="M982.2 244.2 L974.87 233.17 A8.8 8.8 0 0 1 982.2 219.5 Z" fill="#dc3139"/><path d="M982.2 244.2 L989.53 233.17 A8.8 8.8 0 0 0 982.2 219.5 Z" fill="#a4262c"/><circle cx="982.2" cy="227.7" r="5.28" fill="#fff"/><circle cx="980" cy="224.9" r="0.75" fill="#3fa9f5"/><path d="M978.9 225.9 h2.2 l0.4 2.6 h-0.8 v2.6 h-1.4 v-2.6 h-0.8 z" fill="#3fa9f5"/><circle cx="984.4" cy="224.9" r="0.75" fill="#f0504a"/><path d="M983.7 225.9 h1.4 l1.1 3.4 h-1.2 v1.8 h-1.2 v-1.8 h-1.2 z" fill="#f0504a"/><rect x="982.03" y="224.2" width="0.35" height="7" fill="#c9c9c9"/>
<ellipse cx="840.4" cy="747.2" rx="9.6" ry="1.6" fill="none" stroke="#f7a21b" stroke-width="0.35"/><ellipse cx="840.4" cy="747" rx="7.4" ry="1.15" fill="#f0901e"/><path d="M840.4 746 L833.07 734.97 A8.8 8.8 0 0 1 840.4 721.3 Z" fill="#dc3139"/><path d="M840.4 746 L847.73 734.97 A8.8 8.8 0 0 0 840.4 721.3 Z" fill="#a4262c"/><circle cx="840.4" cy="729.5" r="5.28" fill="#fff"/><circle cx="838.2" cy="726.7" r="0.75" fill="#3fa9f5"/><path d="M837.1 727.7 h2.2 l0.4 2.6 h-0.8 v2.6 h-1.4 v-2.6 h-0.8 z" fill="#3fa9f5"/><circle cx="842.6" cy="726.7" r="0.75" fill="#f0504a"/><path d="M841.9 727.7 h1.4 l1.1 3.4 h-1.2 v1.8 h-1.2 v-1.8 h-1.2 z" fill="#f0504a"/><rect x="840.23" y="726" width="0.35" height="7" fill="#c9c9c9"/>
<ellipse cx="983.2" cy="747.2" rx="9.6" ry="1.6" fill="none" stroke="#f7a21b" stroke-width="0.35"/><ellipse cx="983.2" cy="747" rx="7.4" ry="1.15" fill="#f0901e"/><path d="M983.2 746 L975.87 734.97 A8.8 8.8 0 0 1 983.2 721.3 Z" fill="#dc3139"/><path d="M983.2 746 L990.53 734.97 A8.8 8.8 0 0 0 983.2 721.3 Z" fill="#a4262c"/><circle cx="983.2" cy="729.5" r="5.28" fill="#fff"/><circle cx="981" cy="726.7" r="0.75" fill="#3fa9f5"/><path d="M979.9 727.7 h2.2 l0.4 2.6 h-0.8 v2.6 h-1.4 v-2.6 h-0.8 z" fill="#3fa9f5"/><circle cx="985.4" cy="726.7" r="0.75" fill="#f0504a"/><path d="M984.7 727.7 h1.4 l1.1 3.4 h-1.2 v1.8 h-1.2 v-1.8 h-1.2 z" fill="#f0504a"/><rect x="983.03" y="726" width="0.35" height="7" fill="#c9c9c9"/>
</g>
<!-- forklift -->
<g id="forklift" stroke="#0b0b0b" stroke-width="0.85" stroke-linejoin="round" stroke-linecap="round">
<rect x="894.6" y="212.6" width="9" height="5.9" fill="#4fa8dc"/>
<path d="M898.2 212.9 l0.9 0.9 l0.9 -0.9" fill="#0b0b0b" stroke="none"/>
<rect x="894.6" y="218.6" width="9" height="5.9" fill="#4fa8dc"/>
<path d="M898.2 218.9 l0.9 0.9 l0.9 -0.9" fill="#0b0b0b" stroke="none"/>
<rect x="894.6" y="224.6" width="9" height="5.9" fill="#4fa8dc"/>
<path d="M898.2 224.9 l0.9 0.9 l0.9 -0.9" fill="#0b0b0b" stroke="none"/>
<rect x="903.7" y="211.6" width="3" height="22.9" fill="#3f6f7d" rx="0.8"/>
<path d="M893.4 231.2H903.6" fill="none" stroke-width="1.3"/>
<path d="M908.9 227.8V221.5Q909.3 214.6 915.5 214.5H920.6Q923.7 214.6 923.7 217.6V227.2" fill="none" stroke-width="1.0"/>
<path d="M915 227.2V225.6H918.7V221.2Q918.7 220.6 919.6 220.6H921.6Q922.6 220.6 922.6 221.6V227.2Z" fill="#4a4a4a" stroke="none"/>
<path d="M911.4 222.4L913.2 224.4" fill="none" stroke-width="0.8"/>
<rect x="909.9" y="224.6" width="1.4" height="2.8" fill="#62cdd8" stroke-width="0.6"/>
<circle cx="925.7" cy="225.7" r="1.75" fill="#62cdd8"/>
<path d="M908.6 227.9H926.3Q928.7 229.6 928.6 233.2Q928.6 234.4 927.4 234.4H907.6Q906.8 234.4 906.8 233.6V229.4Q907.2 227.9 908.6 227.9Z" fill="#6fd0dc"/>
<path d="M907 229.7H919.2M921.5 229.7H925.6" fill="none" stroke-width="0.6"/>
<circle cx="910.9" cy="234.8" r="2.55" fill="#8a8a8a" stroke-width="0.95"/>
<circle cx="910.9" cy="234.8" r="0.9" fill="#6a6a6a" stroke="none"/>
<circle cx="923.5" cy="234.8" r="2.55" fill="#8a8a8a" stroke-width="0.95"/>
<circle cx="923.5" cy="234.8" r="0.9" fill="#6a6a6a" stroke="none"/>
</g>
<!-- compass -->
<g id="compass">
<circle cx="760.8" cy="249" r="10.2" fill="none" stroke="#2d4756" stroke-width="3.3"/>
<circle cx="760.8" cy="249" r="10.2" fill="none" stroke="#62b8c8" stroke-width="2.1"/>
<polygon points="760.8,232.6 762.8,247 777.2,249 762.8,251 760.8,265.4 758.8,251 744.4,249 758.8,247" fill="#f4f6f8" stroke="#33444f" stroke-width="0.7" stroke-linejoin="miter"/>
<path d="M760.8 232.6L758.8 247L760.8 249Z M777.2 249L762.8 247L760.8 249Z M760.8 265.4L762.8 251L760.8 249Z M744.4 249L758.8 251L760.8 249Z" fill="#4a5b66" opacity="0.75"/>
<rect x="759.4" y="247.6" width="2.8" height="2.8" fill="#f2524c"/>
<text x="761.1" y="231.9" font-size="8.4" fill="#0a0a0a" font-weight="900" text-anchor="middle">东</text>
<text x="761.1" y="272" font-size="8.4" fill="#0a0a0a" font-weight="900" text-anchor="middle">西</text>
<text x="739.7" y="252" font-size="8.4" fill="#0a0a0a" font-weight="900" text-anchor="middle">北</text>
<text x="782.1" y="252" font-size="8.4" fill="#0a0a0a" font-weight="900" text-anchor="middle">南</text>
</g>
<!-- aisle width marks -->
<g id="dims" fill="none" stroke="#93cf6b" stroke-width="0.5">
<path d="M818.8 307.4V304.2H828.4V307.4M847.2 307.4V304.2H856.6V307.4M875.7 307.4V304.2H885.6V307.4M958.6 307.4V304.2H971.6V307.4M990.3 307.4V304.2H1000.6V307.4M928.4 317.7H925V325.8H928.4M928.4 343.4H925V351.6H928.4M928.4 369.4H925V377.4H928.4M928.4 395.2H925V403.3H928.4M928.4 420.8H925V429.2H928.4M928.4 446.7H925V455.3H928.4M928.4 472.8H925V484.5H928.4M928.4 501.7H925V520H928.4M928.4 540.3H925V551.5H928.4M928.4 606.4H925V623.2H928.4M928.4 655.3H925V665.9H928.4M1011.4 537.6H1016.6V548.5H1011.4M1011.4 566.1H1016.6V577.3H1011.4M1011.4 594.7H1016.6V606.4H1011.4M1011.4 623.7H1016.6V635.1H1011.4M1011.4 660.5H1016.6V675.3H1011.4M841.4 568.7H846.6V580.2H841.4M833 649.6H845.4V658H833M810 675.6H807.6V683.5H810M834.7 711.2V715H843.9V711.2M904.9 711.2V715.6H930.1V711.2M978.1 711.2V715.6H990.4V711.2M968.8 503.2V505.7H981.1V503.2M857.6 709.8V728.6M866.3 503.2V506.6H857.4M802.2 518.4V516.6H812.1M840.7 519.6V517H857.3V519.6M1010 518.2H1021.5"/>
</g>
<g id="dimtxt" fill="#7cc255" font-size="3.4" text-anchor="middle">
<text x="823.6" y="303.8">3m</text>
<text x="851.9" y="303.8">3m</text>
<text x="880.65" y="303.8">3m</text>
<text x="965.1" y="303.8">4m</text>
<text x="995.45" y="303.8">3m</text>
<text transform="translate(924.5 321.75) rotate(-90)">3</text>
<text transform="translate(924.5 347.5) rotate(-90)">3</text>
<text transform="translate(924.5 373.4) rotate(-90)">3</text>
<text transform="translate(924.5 399.25) rotate(-90)">3</text>
<text transform="translate(924.5 425) rotate(-90)">3</text>
<text transform="translate(924.5 451) rotate(-90)">3</text>
<text transform="translate(924.5 478.65) rotate(-90)">3</text>
<text transform="translate(924.5 510.85) rotate(-90)">3</text>
<text transform="translate(924.5 545.9) rotate(-90)">3</text>
<text transform="translate(924.5 614.8) rotate(-90)">3</text>
<text transform="translate(924.5 660.6) rotate(-90)">3</text>
<text transform="translate(1016 543.05) rotate(-90)">4m</text>
<text transform="translate(1016 571.7) rotate(-90)">4m</text>
<text transform="translate(1016 600.55) rotate(-90)">4m</text>
<text transform="translate(1016 629.4) rotate(-90)">4m</text>
<text transform="translate(1016 667.9) rotate(-90)">4m</text>
<text transform="translate(846 574.45) rotate(-90)">4m</text>
<text transform="translate(844.8 653.8) rotate(-90)">3m</text>
<text transform="translate(807.1 679.55) rotate(-90)">3m</text>
<text x="839.3" y="714.4">3m</text>
<text x="917.5" y="715">8m</text>
<text x="984.25" y="715">4m</text>
<text x="974.95" y="505.1">4m</text>
<text transform="translate(856.6 719.5) rotate(-90)">6.5m</text>
<text x="860.8" y="506">6m</text>
<text x="807" y="516.2">1.1m</text>
<text x="1015.5" y="517.8">1.2m</text>
</g>
</svg>
</body>
</html>
